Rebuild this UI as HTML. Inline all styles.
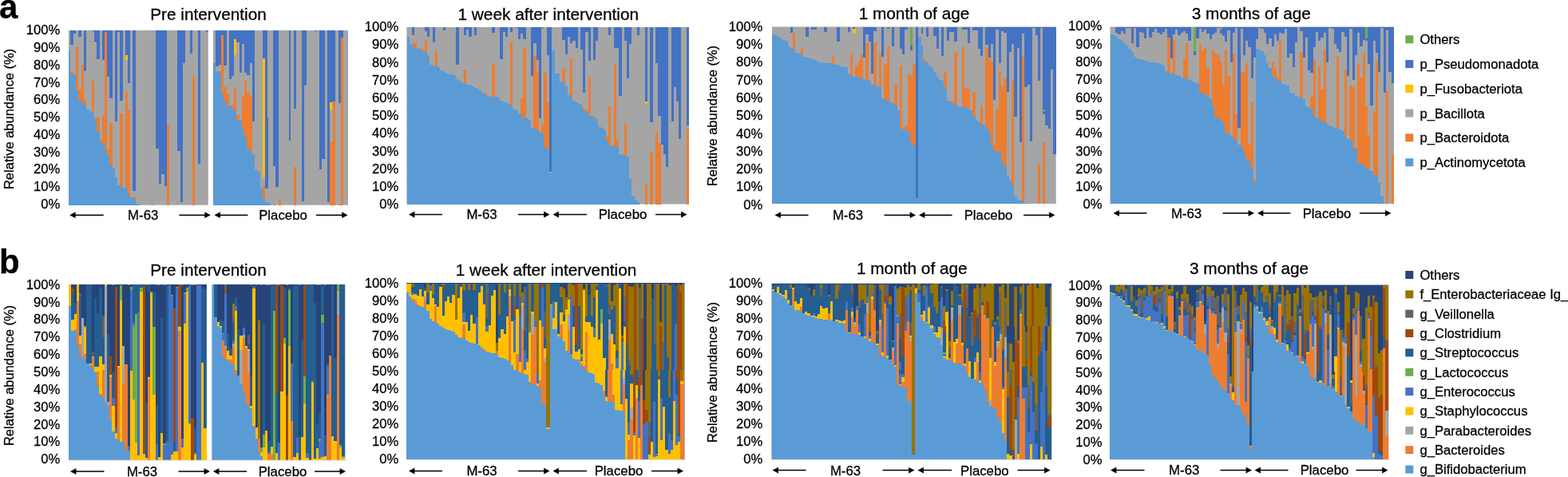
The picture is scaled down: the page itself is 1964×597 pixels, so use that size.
<!DOCTYPE html>
<html lang="en"><head><meta charset="utf-8"><title>Relative abundance</title>
<style>
html,body{margin:0;padding:0;background:#fff}
svg{display:block}
text{font-family:"Liberation Sans",Arial,Helvetica,sans-serif;fill:#000;stroke:#000;stroke-width:.28px}
</style></head><body>
<svg width="1964" height="597" viewBox="0 0 1964 597">
<rect width="1964" height="597" fill="#fff"/>
<rect x="86" y="38" width="350" height="218.7" fill="#A5A5A5"/>
<rect x="509.4" y="34" width="353.6" height="221.5" fill="#A5A5A5"/>
<rect x="967" y="33.5" width="355.7" height="221.5" fill="#A5A5A5"/>
<rect x="1390.4" y="33.5" width="355.6" height="221.5" fill="#A5A5A5"/>
<rect x="86" y="356.3" width="346.2" height="219.3" fill="#264478"/>
<rect x="509.2" y="354" width="348.2" height="221" fill="#264478"/>
<rect x="966.6" y="354.8" width="350.6" height="220.2" fill="#264478"/>
<rect x="1390.1" y="356.6" width="349.1" height="218.4" fill="#264478"/>
<!-- a1_t.txt -->
<g shape-rendering="crispEdges"><path fill="#5B9BD5" d="M86 63.3H88.1V147H86ZM88.1 90.4H91.9V147H88.1ZM91.9 93.2H95.1V147H91.9ZM95.1 112.5H98.4V147H95.1ZM98.4 125.4H101.5V147H98.4ZM101.5 129.1H104.8V147H101.5ZM104.8 131H108.1V147H104.8ZM108.1 137.4H111.5V147H108.1ZM111.5 139.3H114.6V147H111.5ZM114.6 140.2H117.9V147H114.6Z"/>
<path fill="#ED7D31" d="M88.1 90.1H91.9V92.3H88.1ZM95.1 58.7H98.4V112.5H95.1ZM98.4 111.6H101.5V125.4H98.4ZM101.5 81.2H104.8V129.1H101.5ZM104.8 125.1H108.1V131H104.8ZM114.6 101.1H117.9V139.3H114.6ZM127.9 143.5H131V147H127.9ZM131 39.8H134.1V147H131ZM150.3 141.7H153.7V147H150.3ZM157 114.4H160.1V147H157ZM160.1 138H163.2V147H160.1ZM241 94.5H244.3V147H241Z"/>
<path fill="#4472C4" d="M88.1 38H91.9V56.3H88.1ZM91.9 38H95.1V41.6H91.9ZM98.4 38H101.5V46.2H98.4ZM104.8 38H108.1V89H104.8ZM114.6 38H117.9V38.8H114.6ZM117.9 38H121.2V53.2H117.9ZM121.2 38H124.5V73.5H121.2ZM127.9 38H131V75.3H127.9ZM131 38H134.1V39.8H131ZM134.1 38H137.4V96H134.1ZM137.4 38H140.6V122.7H137.4ZM143.9 38H147V147H143.9ZM147 38H150.3V39.8H147ZM150.3 38H153.7V125.8H150.3ZM157 38H160.1V69.2H157ZM160.1 38H163.2V104.3H160.1ZM166.4 38H169.7V147H166.4ZM195.1 38H208.7V147H195.1ZM221.8 38H228.6V147H221.8ZM228.6 38H232V78.5H228.6ZM238 38H241V66.5H238ZM247.6 38H250.9V147H247.6ZM257.6 38H260.9V39.8H257.6Z"/>
<path fill="#FFC000" d="M117.9 53.2H120.9V54.3H117.9ZM157 69.2H159.7V74.8H157Z"/>
<path fill="#5B9BD5" d="M267 77.9H270.1V147H267ZM270.1 89H273.8V147H270.1ZM273.8 90.4H276.9V147H273.8ZM276.9 117.2H280.2V147H276.9ZM280.2 127.3H283.6V147H280.2ZM283.6 131.9H286.7V147H283.6ZM286.7 132.4H290V147H286.7ZM290 136.5H293.1V147H290ZM293.1 138H296.3V147H293.1Z"/>
<path fill="#ED7D31" d="M273.8 89.1H276.9V91H273.8ZM276.9 44H280.2V117.2H276.9ZM280.2 109.2H283.6V127.3H280.2ZM283.6 117.2H286.7V131.9H283.6ZM290 131.3H293.1V136.5H290ZM293.1 111.3H296.3V138H293.1ZM296.3 144.4H299.6V147H296.3ZM302.9 119.6H306V147H302.9ZM306 100.9H309.2V147H306ZM309.2 114.8H312.5V147H309.2ZM312.5 120.8H315.8V147H312.5ZM416.6 127.3H419.7V147H416.6ZM426.7 47.1H430V147H426.7Z"/>
<path fill="#4472C4" d="M270.1 38H273.8V82.7H270.1ZM273.8 38H276.9V81.2H273.8ZM276.9 38H280.2V44H276.9ZM280.2 38H283.6V82.1H280.2ZM286.7 38H290V98.7H286.7ZM290 38H293.1V95H290ZM293.1 38H296.3V49H293.1ZM296.3 38H299.6V52.7H296.3ZM299.6 38H302.9V90.8H299.6ZM302.9 38H306V55.4H302.9ZM306 38H309.2V91.4H306ZM309.2 38H312.5V94.1H309.2ZM312.5 38H315.8V79H312.5ZM315.8 38H318.9V147H315.8Z"/>
<path fill="#FFC000" d="M293.1 49H296.3V68.7H293.1Z"/>
<path fill="#4472C4" d="M329.1 38H332.2V72.9H329.1ZM332.2 38H335.2V147H332.2Z"/>
<path fill="#FFC000" d="M329.1 72.9H332.2V147H329.1Z"/>
<path fill="#4472C4" d="M342 38H348.8V147H342ZM361.7 38H364.4V147H361.7ZM367.8 38H370.9V135.9H367.8ZM377.9 38H381V147H377.9ZM381 38H384V107H381ZM393.6 38H396.7V38.8H393.6ZM400 38H406.5V147H400ZM410.1 38H413.3V147H410.1ZM413.3 38H416.6V128.2H413.3ZM416.6 38H419.7V127.3H416.6Z"/>
<path fill="#FFC000" d="M413.3 128.2H416.2V138H413.3Z"/>
<path fill="#4472C4" d="M424 38H426.7V129.1H424ZM426.7 38H430V47.1H426.7Z"/></g>
<!-- a1_u.txt -->
<g shape-rendering="crispEdges"><path fill="#5B9BD5" d="M86 147H117.9V256.7H86ZM117.9 147.9H121.2V256.7H117.9ZM121.2 165.4H124.5V256.7H121.2ZM124.5 178H127.9V256.7H124.5ZM127.9 180.2H131V256.7H127.9ZM131 186.6H134.1V256.7H131ZM134.1 194H137.4V256.7H134.1ZM137.4 205.6H140.6V256.7H137.4ZM140.6 210.6H143.9V256.7H140.6ZM143.9 222.2H147V256.7H143.9ZM147 231.8H150.3V256.7H147ZM150.3 232.7H153.7V256.7H150.3ZM153.7 234.5H157V256.7H153.7ZM157 235.8H160.1V256.7H157ZM160.1 245H163.2V256.7H160.1ZM163.2 246.5H166.4V256.7H163.2ZM166.4 248H169.7V256.7H166.4ZM169.7 254.8H172.8V256.7H169.7ZM172.8 255.7H176.1V256.7H172.8Z"/>
<path fill="#ED7D31" d="M117.9 147.9H121.2V150.1H117.9ZM121.2 147H124.5V165.4H121.2ZM124.5 175H127.9V178H124.5ZM127.9 147H131V180.2H127.9ZM131 147H134.1V186.6H131ZM134.1 186.6H137.4V194H134.1ZM137.4 154H140.6V205.6H137.4ZM150.3 147H153.7V232.7H150.3ZM157 147H160.1V235.8H157ZM160.1 147H163.2V245H160.1ZM166.4 245.9H169.7V248H166.4ZM189 255.7H192.3V256.7H189ZM208.7 155.8H212.1V256.7H208.7ZM241 147H244.3V256.7H241Z"/>
<path fill="#4472C4" d="M143.9 147H147V152H143.9ZM166.4 147H169.7V238.6H166.4ZM195.1 147H199.2V185.7H195.1ZM199.2 147H202.3V229.9H199.2ZM202.3 147H205.6V217.9H202.3ZM205.6 147H208.7V232.7H205.6ZM221.8 147H225.5V188.5H221.8ZM225.5 147H228.6V253H225.5ZM247.6 147H250.9V205.4H247.6Z"/>
<path fill="#5B9BD5" d="M267 147H296.3V256.7H267ZM296.3 150.7H299.6V256.7H296.3ZM299.6 151.1H302.9V256.7H299.6ZM302.9 161.7H306V256.7H302.9ZM306 171.9H309.2V256.7H306ZM309.2 184.8H312.5V256.7H309.2ZM312.5 190.9H315.8V256.7H312.5ZM315.8 193.1H318.9V256.7H315.8ZM318.9 211.9H322.1V256.7H318.9ZM322.1 216.1H325.8V256.7H322.1ZM325.8 235.8H329.1V256.7H325.8ZM329.1 248.7H332.2V256.7H329.1ZM332.2 253H335.5V256.7H332.2ZM335.5 254.2H338.8V256.7H335.5Z"/>
<path fill="#ED7D31" d="M296.3 147H299.6V150.7H296.3ZM302.9 147H306V161.7H302.9ZM306 147H309.2V171.9H306ZM309.2 147H312.5V184.8H309.2ZM312.5 147H315.8V190.9H312.5ZM322.1 213.9H325.8V216.1H322.1ZM329.1 232.3H332.2V248.7H329.1ZM342 255.7H345.1V256.7H342ZM348.8 249.8H351.7V256.7H348.8ZM367.8 208.7H370.9V256.7H367.8ZM413.3 177.4H416.6V256.7H413.3ZM416.6 147H419.7V256.7H416.6ZM426.7 147H430V256.7H426.7ZM423.6 255.7H426.7V256.7H423.6Z"/>
<path fill="#FFC000" d="M329.1 147H332.2V222H329.1Z"/>
<path fill="#4472C4" d="M315.8 147H318.9V151.6H315.8ZM332.2 147H335.5V235.8H332.2ZM342 147H345.1V207.8H342ZM345.1 147H348.8V233.6H345.1ZM361.7 147H364.4V175.9H361.7ZM377.9 147H381V252.4H377.9ZM400 147H403.3V211.9H400ZM403.3 147H406.5V198.6H403.3ZM410.1 147H413.3V253H410.1Z"/></g>
<!-- a2_t.txt -->
<g shape-rendering="crispEdges"><path fill="#5B9BD5" d="M509.5 45.5H512.6V143H509.5ZM512.6 55.5H515.9V143H512.6ZM515.9 57H519.1V143H515.9ZM519.1 60.3H522.4V143H519.1ZM522.4 61H525.5V143H522.4ZM525.5 62.5H528.8V143H525.5ZM528.8 63.4H532V143H528.8ZM532 66.2H535.3V143H532ZM535.3 68.9H538.4V143H535.3ZM538.4 81.3H541.7V143H538.4ZM541.7 82.8H544.9V143H541.7ZM544.9 83.1H548.2V143H544.9ZM548.2 84.2H551.3V143H548.2ZM551.3 88.3H554.6V143H551.3ZM554.6 89.8H557.8V143H554.6ZM557.8 92H561.1V143H557.8ZM561.1 92.9H564.2V143H561.1ZM564.2 93.4H567.5V143H564.2ZM567.5 94.4H571.2V143H567.5ZM571.2 99H574.3V143H571.2ZM574.3 101.2H577.7V143H574.3ZM577.7 103.9H580.8V143H577.7ZM580.8 104.3H584.1V143H580.8ZM584.1 105.8H587.2V143H584.1ZM587.2 106.3H590.6V143H587.2ZM590.6 108.2H593.7V143H590.6ZM593.7 109.5H597V143H593.7ZM597 110.8H600.1V143H597ZM600.1 112.6H603.4V143H600.1ZM603.4 115.6H606.6V143H603.4ZM606.6 119.2H609.9V143H606.6ZM609.9 119.6H613V143H609.9ZM613 120.5H616.3V143H613ZM616.3 121.1H619.5V143H616.3ZM619.5 121.4H622.8V143H619.5ZM622.8 121.8H625.9V143H622.8ZM625.9 126.1H629.2V143H625.9ZM629.2 127H632.4V143H629.2ZM632.4 127.9H635.7V143H632.4ZM635.7 130.3H638.8V143H635.7ZM638.8 132.1H642.1V143H638.8ZM642.1 136.2H645.3V143H642.1ZM645.3 138H648.6V143H645.3ZM648.6 141.7H651.7V143H648.6Z"/>
<path fill="#ED7D31" d="M515.9 53.6H519.1V57H515.9ZM519.1 53.6H522.4V60.3H519.1ZM525.5 60.1H528.8V62.5H525.5ZM532 50.9H535.3V66.2H532ZM544.9 64.3H548.2V83.1H544.9ZM580.8 87H584.1V104.3H580.8ZM606.6 116.8H609.9V119.2H606.6ZM616.3 80.9H619.5V121.1H616.3ZM638.8 52H642.1V132.1H638.8ZM651.7 122.9H655V143H651.7ZM655 60.6H658.7V143H655ZM667.9 69.9H671.6V143H667.9ZM671.6 89.2H674.9V143H671.6ZM681.2 91H684.5V143H681.2ZM684.5 127.9H687.7V143H684.5Z"/>
<path fill="#4472C4" d="M515.9 34H519.1V43.7H515.9ZM532 34H535.3V38.5H532ZM535.3 34H537.9V45.9H535.3ZM541.7 34H544.9V53.3H541.7ZM554.6 34H557.8V38.2H554.6ZM571.2 34H574.7V80.5H571.2ZM580.8 34H584.1V43.7H580.8ZM584.1 34H587.2V36.7H584.1ZM587.2 34H590.6V45.5H587.2ZM593.7 34H597V43.7H593.7ZM616.3 34H619.5V41.3H616.3ZM625.9 34H629.6V73.9H625.9ZM629.6 34H632.7V40H629.6ZM632.7 34H635.7V45.9H632.7ZM638.8 34H642.1V40H638.8ZM645.3 34H648.6V35.2H645.3ZM648.6 34H651.7V48.7H648.6ZM651.7 34H655V42.2H651.7ZM655 34H658.7V48.7H655ZM664.6 34H667.9V94.7H664.6ZM667.9 34H671.6V53.6H667.9ZM671.6 34H674.9V75H671.6ZM674.9 34H678.1V143H674.9ZM678.1 34H681.2V35.2H678.1ZM684.5 34H687.7V68.9H684.5ZM687.7 34H691V143H687.7Z"/>
<path fill="#5B9BD5" d="M691 62.5H694.7V143H691ZM694.7 92H697.8V143H694.7ZM697.8 92.3H701.1V143H697.8ZM701.1 102.1H704.2V143H701.1ZM704.2 103H707.6V143H704.2ZM707.6 107.6H710.7V143H707.6ZM710.7 119.2H714V143H710.7ZM714 121.1H717.1V143H714ZM717.1 126.1H720.5V143H717.1ZM720.5 127.9H723.6V143H720.5ZM723.6 129.7H726.9V143H723.6ZM726.9 133.4H730V143H726.9ZM730 137.7H733.4V143H730ZM733.4 140.2H736.5V143H733.4Z"/>
<path fill="#ED7D31" d="M704.2 86.1H707.6V103H704.2ZM714 73.2H717.1V121.1H714ZM726.9 131H730V133.4H726.9ZM730 135.3H733.4V137.7H730ZM733.4 138H736.5V140.2H733.4ZM736.5 95.6H739.8V143H736.5ZM762.3 133.1H765.4V143H762.3ZM768.7 81.3H771.9V143H768.7Z"/>
<path fill="#4472C4" d="M704.2 34H707.6V50H704.2ZM707.6 34H710.7V68.4H707.6ZM710.7 34H714V45.9H710.7ZM714 34H717.1V53.6H714ZM717.1 34H720.5V51.1H717.1ZM720.5 34H723.6V60.3H720.5ZM726.9 34H730V61.6H726.9ZM730 34H733.4V115.9H730ZM733.4 34H736.5V40.4H733.4ZM736.5 34H739.8V75.7H736.5ZM742.9 34H746.1V75H742.9ZM746.1 34H749.4V51.4H746.1ZM762.3 34H765.4V43.7H762.3ZM768.7 34H775.2V60.3H768.7ZM775.2 34H778.5V119.6H775.2ZM781.6 34H784.9V50.5H781.6ZM784.9 34H788.1V97.9H784.9ZM788.1 34H791.2V55.1H788.1ZM798.2 34H801V43.7H798.2ZM808 34H811.1V126.6H808Z"/>
<path fill="#FFC000" d="M807.6 126.6H811.1V130.3H807.6Z"/>
<path fill="#4472C4" d="M814.2 34H817.9V143H814.2ZM821.2 34H824.4V79.1H821.2ZM824.4 34H836.9V143H824.4ZM840.6 34H843.7V143H840.6ZM843.7 34H847V108.9H843.7ZM847 34H850.2V126.6H847ZM850.2 34H853.1V143H850.2ZM859.9 34H863V143H859.9Z"/></g>
<!-- a2_u.txt -->
<g shape-rendering="crispEdges"><path fill="#5B9BD5" d="M509.5 143H651.7V255.5H509.5ZM651.7 143.4H655V255.5H651.7ZM655 147.6H658.7V255.5H655ZM658.7 148.2H661.9V255.5H658.7ZM661.9 150H664.6V255.5H661.9ZM664.6 159.6H667.9V255.5H664.6ZM667.9 160.5H671.6V255.5H667.9ZM671.6 162.9H674.9V255.5H671.6ZM674.9 164.7H678.1V255.5H674.9ZM678.1 167H681.2V255.5H678.1ZM681.2 183.9H684.5V255.5H681.2ZM684.5 187.8H687.7V255.5H684.5ZM687.7 217.3H691V255.5H687.7Z"/>
<path fill="#ED7D31" d="M655 143H658.7V147.6H655ZM667.9 143H671.6V160.5H667.9ZM671.6 143H674.9V162.9H671.6ZM678.1 156.3H681.2V167H678.1ZM681.2 143H684.5V183.9H681.2ZM684.5 143H687.7V187.8H684.5Z"/>
<path fill="#4472C4" d="M674.9 143H678.1V147.6H674.9ZM687.7 143H691V214.5H687.7Z"/>
<path fill="#5B9BD5" d="M691 143H736.5V255.5H691ZM736.5 143.9H739.8V255.5H736.5ZM739.8 145.2H742.9V255.5H739.8ZM742.9 147.6H746.1V255.5H742.9ZM746.1 148.5H749.4V255.5H746.1ZM749.4 158.7H752.7V255.5H749.4ZM752.7 160H755.8V255.5H752.7ZM755.8 163.6H759V255.5H755.8ZM759 176.2H762.3V255.5H759ZM762.3 181.7H765.4V255.5H762.3ZM765.4 182.1H768.7V255.5H765.4ZM768.7 182.6H771.9V255.5H768.7ZM771.9 183.9H775.2V255.5H771.9ZM775.2 192.8H778.5V255.5H775.2ZM778.5 193.7H781.6V255.5H778.5ZM781.6 195H784.9V255.5H781.6ZM784.9 195.5H788.1V255.5H784.9ZM788.1 224.1H791.2V255.5H788.1ZM791.2 245.3H794.5V255.5H791.2ZM794.5 249.9H797.8V255.5H794.5ZM797.8 253H801V255.5H797.8Z"/>
<path fill="#ED7D31" d="M742.9 146.3H746.1V147.6H742.9ZM755.8 162.3H759V163.6H755.8ZM759 170.3H762.3V176.2H759ZM762.3 143H765.4V181.7H762.3ZM768.7 143H771.9V182.6H768.7ZM771.9 175.2H775.2V183.9H771.9ZM781.6 154.1H784.9V195H781.6ZM807.6 231.1H811.1V255.5H807.6ZM814.2 191.3H817.9V255.5H814.2ZM821.2 164.7H824.4V255.5H821.2ZM824.4 178.9H827.7V255.5H824.4ZM859.9 161.4H863V255.5H859.9Z"/>
<path fill="#4472C4" d="M814.2 143H817.9V153.1H814.2ZM824.4 143H827.7V145.2H824.4ZM827.7 143H830.8V181.3H827.7ZM830.8 143H834.1V192.8H830.8ZM834.1 143H836.9V208.8H834.1ZM840.6 143H843.7V151.8H840.6ZM850.2 143H853.1V174H850.2ZM859.9 143H863V156.8H859.9Z"/></g>
<!-- a3_t.txt -->
<g shape-rendering="crispEdges"><path fill="#5B9BD5" d="M967 42.6H970.3V143H967ZM970.3 44.1H973.4V143H970.3ZM973.4 45.5H976.8V143H973.4ZM976.8 47.7H980.1V143H976.8ZM980.1 49.6H983.2V143H980.1ZM983.2 51.4H986.5V143H983.2ZM986.5 57.9H989.8V143H986.5ZM989.8 59.7H993.2V143H989.8ZM993.2 61.6H996.3V143H993.2ZM996.3 66.2H999.6V143H996.3ZM999.6 67.1H1002.9V143H999.6ZM1002.9 68H1006.1V143H1002.9ZM1006.1 70.8H1009.4V143H1006.1ZM1009.4 71.7H1012.7V143H1009.4ZM1012.7 72.6H1015.8V143H1012.7ZM1015.8 73.5H1019.1V143H1015.8ZM1019.1 75.4H1022.5V143H1019.1ZM1022.5 76.9H1025.8V143H1022.5ZM1025.8 77.8H1028.9V143H1025.8ZM1028.9 78.1H1032.2V143H1028.9ZM1032.2 78.7H1035.5V143H1032.2ZM1035.5 79.1H1038.7V143H1035.5ZM1038.7 79.4H1042V143H1038.7ZM1042 79.6H1045.3V143H1042ZM1045.3 80.5H1048.4V143H1045.3ZM1048.4 81.3H1051.8V143H1048.4ZM1051.8 82.8H1055.1V143H1051.8ZM1055.1 83.7H1058.4V143H1055.1ZM1058.4 84.2H1061.5V143H1058.4ZM1061.5 92.9H1064.8V143H1061.5ZM1064.8 94.2H1068.2V143H1064.8ZM1068.2 95.6H1071.3V143H1068.2ZM1071.3 96H1074.6V143H1071.3ZM1074.6 96.6H1077.9V143H1074.6ZM1077.9 97.5H1081.2V143H1077.9ZM1081.2 99.3H1084.4V143H1081.2ZM1084.4 100.3H1087.7V143H1084.4ZM1087.7 100.8H1091V143H1087.7ZM1091 105.8H1094.1V143H1091ZM1094.1 106.7H1097.5V143H1094.1ZM1097.5 107.6H1100.8V143H1097.5ZM1100.8 110H1103.9V143H1100.8ZM1103.9 123.3H1107.2V143H1103.9ZM1107.2 124.2H1110.5V143H1107.2ZM1110.5 126.6H1113.9V143H1110.5ZM1113.9 127H1117V143H1113.9ZM1117 128.8H1120.3V143H1117ZM1120.3 131.6H1123.6V143H1120.3ZM1123.6 138H1126.8V143H1123.6Z"/>
<path fill="#ED7D31" d="M993.2 40.7H996.3V61.6H993.2ZM1002.9 60.6H1006.1V68H1002.9ZM1042 71.1H1045.3V79.6H1042ZM1064.8 67.1H1068.2V94.2H1064.8ZM1071.3 81.8H1074.6V96H1071.3ZM1074.6 76.3H1077.9V96.6H1074.6ZM1077.9 68H1081.2V97.5H1077.9ZM1084.4 54.2H1087.7V100.3H1084.4ZM1094.1 52.9H1097.5V106.7H1094.1ZM1100.8 67.1H1103.9V110H1100.8ZM1107.2 80.9H1110.5V124.2H1107.2ZM1110.5 57.9H1113.9V126.6H1110.5ZM1120.3 105.8H1123.6V131.6H1120.3ZM1126.8 81.8H1130.1V143H1126.8ZM1136.5 92.9H1139.8V143H1136.5ZM1139.8 94.7H1143.2V143H1139.8ZM1143.2 80.5H1147V143H1143.2Z"/>
<path fill="#4472C4" d="M989.8 33.5H993.2V40.7H989.8ZM1009.4 33.5H1012.7V45.5H1009.4ZM1015.8 33.5H1022.5V36.7H1015.8ZM1032.2 33.5H1035.5V40.4H1032.2ZM1048.4 33.5H1051.8V52.3H1048.4ZM1061.5 33.5H1064.8V40.4H1061.5ZM1068.2 33.5H1071.3V36.3H1068.2Z"/>
<path fill="#FFC000" d="M1068.2 36.3H1071.7V41.8H1068.2Z"/>
<path fill="#4472C4" d="M1081.2 33.5H1084.4V71.7H1081.2ZM1084.4 33.5H1087.7V43.1H1084.4ZM1087.7 33.5H1091V52.3H1087.7ZM1091 33.5H1094.1V92.3H1091ZM1094.1 33.5H1097.5V38.9H1094.1ZM1103.9 33.5H1107.2V70.8H1103.9ZM1110.5 33.5H1113.9V36.3H1110.5ZM1117 33.5H1120.3V58.4H1117ZM1126.8 33.5H1130.1V60.6H1126.8ZM1130.1 33.5H1133.4V68.4H1130.1ZM1133.4 33.5H1136.5V36.7H1133.4ZM1139.8 33.5H1143.2V63.4H1139.8Z"/>
<path fill="#70AD47" d="M1139.8 33.6H1143.2V56.6H1139.8Z"/>
<path fill="#4472C4" d="M1147 33.5H1150.3V143H1147Z"/>
<path fill="#5B9BD5" d="M1150.3 45.5H1153.5V143H1150.3ZM1153.5 56.6H1156.4V143H1153.5ZM1156.4 77.2H1159.6V143H1156.4ZM1159.6 78.1H1162.7V143H1159.6ZM1162.7 81.8H1166V143H1162.7ZM1166 83.7H1169.3V143H1166ZM1169.3 90.1H1172.5V143H1169.3ZM1172.5 95.6H1175.8V143H1172.5ZM1175.8 100.3H1178.9V143H1175.8ZM1178.9 100.8H1182.2V143H1178.9ZM1182.2 110.4H1185.5V143H1182.2ZM1185.5 126.1H1188.9V143H1185.5ZM1188.9 127.3H1192V143H1188.9ZM1192 129.7H1195.3V143H1192ZM1195.3 130.7H1198.6V143H1195.3ZM1198.6 132.5H1201.8V143H1198.6ZM1201.8 133.4H1205.1V143H1201.8ZM1205.1 133.8H1208.4V143H1205.1ZM1208.4 134H1211.5V143H1208.4ZM1211.5 136.6H1214.8V143H1211.5ZM1214.8 137.7H1218.2V143H1214.8Z"/>
<path fill="#ED7D31" d="M1156.4 73.5H1159.6V77.2H1156.4ZM1169.3 89.8H1172.5V90.7H1169.3ZM1182.2 90.5H1185.5V110.4H1182.2ZM1192 127H1195.3V129.7H1192ZM1195.3 64.7H1198.6V130.7H1195.3ZM1205.1 59.3H1208.4V133.8H1205.1ZM1208.4 110H1211.5V134H1208.4ZM1211.5 111.3H1214.8V136.6H1211.5ZM1218.2 115H1221.5V143H1218.2ZM1227.9 131.6H1231.2V143H1227.9ZM1234.4 60.3H1237.7V143H1234.4ZM1237.7 72.6H1241V143H1237.7ZM1241 77.2H1244.3V143H1241ZM1247.4 137.1H1250.8V143H1247.4ZM1250.8 89.2H1254.1V143H1250.8ZM1254.1 107.6H1257.2V143H1254.1ZM1257.2 97.5H1260.5V143H1257.2ZM1267 101.2H1270.3V143H1267ZM1280.1 70.8H1283.4V143H1280.1Z"/>
<path fill="#4472C4" d="M1153.5 33.5H1156.4V41.8H1153.5ZM1159.6 33.5H1162.7V45.5H1159.6ZM1169.3 33.5H1172.5V45H1169.3ZM1172.5 33.5H1175.8V60.6H1172.5ZM1178.9 33.5H1182.2V70.4H1178.9ZM1185.5 33.5H1188.9V51.4H1185.5ZM1188.9 33.5H1195.3V40.4H1188.9ZM1195.3 33.5H1198.6V52.3H1195.3ZM1205.1 33.5H1211.5V37.1H1205.1ZM1211.5 33.5H1214.8V53.6H1211.5ZM1218.2 33.5H1224.6V37.6H1218.2ZM1224.6 33.5H1227.9V61H1224.6ZM1227.9 33.5H1231.2V70.2H1227.9ZM1234.4 33.5H1237.7V56H1234.4ZM1237.7 33.5H1241V72.1H1237.7ZM1241 33.5H1244.3V55.1H1241ZM1244.3 33.5H1247.4V124.8H1244.3ZM1247.4 33.5H1250.8V36.7H1247.4ZM1250.8 33.5H1254.1V79.1H1250.8ZM1254.1 33.5H1257.2V39.4H1254.1ZM1257.2 33.5H1260.5V40.7H1257.2ZM1260.5 33.5H1263.7V115H1260.5ZM1263.7 33.5H1267V64.7H1263.7ZM1267 33.5H1270.3V55.1H1267ZM1270.3 33.5H1273.6V143H1270.3ZM1273.6 33.5H1276.9V60.3H1273.6ZM1276.9 33.5H1280.1V143H1276.9ZM1280.1 33.5H1283.4V42.2H1280.1ZM1283.4 33.5H1286.7V108.5H1283.4ZM1286.7 33.5H1289.8V106.3H1286.7ZM1289.8 33.5H1293.1V143H1289.8ZM1293.1 33.5H1296.5V34.8H1293.1ZM1296.5 33.5H1299.6V44.1H1296.5ZM1299.6 33.5H1302.9V100.8H1299.6ZM1302.9 33.5H1306.2V34.8H1302.9ZM1306.2 33.5H1316.2V143H1306.2ZM1316.2 33.5H1319.3V87.4H1316.2ZM1319.3 33.5H1322.7V143H1319.3Z"/>
<path fill="#FFC000" d="M1306.2 138H1309.4V139H1306.2Z"/>
<path fill="#4472C4" d="M967 33.5H1322.7V34.3H967Z"/></g>
<!-- a3_u.txt -->
<g shape-rendering="crispEdges"><path fill="#5B9BD5" d="M967 143H1126.8V255H967ZM1126.8 161.1H1130.1V255H1126.8ZM1130.1 161.4H1133.4V255H1130.1ZM1133.4 162.9H1136.5V255H1133.4ZM1136.5 166H1139.8V255H1136.5ZM1139.8 178H1143.2V255H1139.8ZM1143.2 181.7H1147V255H1143.2ZM1147 249H1150.3V255H1147Z"/>
<path fill="#ED7D31" d="M1126.8 143H1130.1V161.1H1126.8ZM1133.4 156.8H1136.5V162.9H1133.4ZM1136.5 143H1139.8V166H1136.5ZM1139.8 143H1143.2V178H1139.8ZM1143.2 143H1147V181.7H1143.2Z"/>
<path fill="#4472C4" d="M1147 143H1150.3V248H1147Z"/>
<path fill="#5B9BD5" d="M1150.3 143H1218.2V255H1150.3ZM1218.2 145.8H1221.5V255H1218.2ZM1221.5 151.3H1224.6V255H1221.5ZM1224.6 152.6H1227.9V255H1224.6ZM1227.9 155.5H1231.2V255H1227.9ZM1231.2 156.3H1234.4V255H1231.2ZM1234.4 158.7H1237.7V255H1234.4ZM1237.7 166H1241V255H1237.7ZM1241 182.1H1244.3V255H1241ZM1244.3 188.1H1247.4V255H1244.3ZM1247.4 188.7H1250.8V255H1247.4ZM1250.8 190H1254.1V255H1250.8ZM1254.1 202.3H1257.2V255H1254.1ZM1257.2 208.8H1260.5V255H1257.2ZM1260.5 220.4H1263.7V255H1260.5ZM1263.7 225.6H1267V255H1263.7ZM1267 231.8H1270.3V255H1267ZM1270.3 245.8H1273.6V255H1270.3ZM1273.6 249.5H1276.9V255H1273.6ZM1276.9 250.8H1280.1V255H1276.9ZM1280.1 252.1H1283.4V255H1280.1ZM1283.4 253.6H1286.7V255H1283.4ZM1286.7 254.5H1291.3V255H1286.7Z"/>
<path fill="#ED7D31" d="M1218.2 143H1221.5V145.8H1218.2ZM1227.9 143H1231.2V155.5H1227.9ZM1234.4 143H1237.7V158.7H1234.4ZM1237.7 143H1241V166H1237.7ZM1241 143H1244.3V182.1H1241ZM1244.3 180.8H1247.4V188.1H1244.3ZM1247.4 143H1250.8V188.7H1247.4ZM1250.8 143H1254.1V190H1250.8ZM1254.1 143H1257.2V202.3H1254.1ZM1257.2 143H1260.5V208.8H1257.2ZM1267 143H1270.3V231.8H1267ZM1280.1 143H1283.4V252.1H1280.1ZM1299.6 205.1H1302.9V255H1299.6ZM1306.2 178.4H1309.4V255H1306.2Z"/>
<path fill="#4472C4" d="M1270.3 143H1273.6V145.8H1270.3ZM1276.9 143H1280.1V178.4H1276.9ZM1289.8 143H1293.1V176.7H1289.8ZM1309.4 143H1312.7V156.8H1309.4ZM1312.7 143H1316.2V160.9H1312.7ZM1319.3 143H1322.7V192.8H1319.3Z"/></g>
<!-- a4_t.txt -->
<g shape-rendering="crispEdges"><path fill="#5B9BD5" d="M1390.6 43.1H1393.9V143H1390.6ZM1393.9 44.4H1397V143H1393.9ZM1397 45.9H1400.3V143H1397ZM1400.3 48.7H1403.6V143H1400.3ZM1403.6 51.4H1407V143H1403.6ZM1407 53.6H1410.1V143H1407ZM1410.1 56.6H1413.4V143H1410.1ZM1413.4 60.6H1416.7V143H1413.4ZM1416.7 65.2H1419.9V143H1416.7ZM1419.9 70.8H1423.2V143H1419.9ZM1423.2 72.6H1426.5V143H1423.2ZM1426.5 73.5H1429.6V143H1426.5ZM1429.6 74.5H1432.9V143H1429.6ZM1432.9 75.7H1436.3V143H1432.9ZM1436.3 77.2H1439.4V143H1436.3ZM1439.4 77.8H1442.7V143H1439.4ZM1442.7 78.1H1446V143H1442.7ZM1446 78.7H1449.3V143H1446ZM1449.3 79.1H1452.5V143H1449.3ZM1452.5 80H1455.8V143H1452.5ZM1455.8 81.8H1459.1V143H1455.8ZM1459.1 89.2H1462.2V143H1459.1ZM1462.2 91H1465.5V143H1462.2ZM1465.5 92H1468.9V143H1465.5ZM1468.9 93.4H1472V143H1468.9ZM1472 94.2H1475.3V143H1472ZM1475.3 94.7H1478.6V143H1475.3ZM1478.6 96.6H1481.9V143H1478.6ZM1481.9 97.5H1485.1V143H1481.9ZM1485.1 98.4H1488.4V143H1485.1ZM1488.4 100.3H1491.7V143H1488.4ZM1491.7 102.1H1494.8V143H1491.7ZM1494.8 103H1498.2V143H1494.8ZM1498.2 103.9H1501.5V143H1498.2ZM1501.5 115.9H1504.6V143H1501.5ZM1504.6 116.3H1507.9V143H1504.6ZM1507.9 117.8H1511.2V143H1507.9ZM1511.2 120.5H1514.6V143H1511.2ZM1514.6 122.9H1517.7V143H1514.6ZM1517.7 132.5H1521V143H1517.7Z"/>
<path fill="#ED7D31" d="M1462.2 46.8H1465.5V91H1462.2ZM1468.9 50H1472V93.4H1468.9ZM1481.9 73.5H1485.1V97.5H1481.9ZM1485.1 54.2H1488.4V98.4H1485.1ZM1501.5 55.1H1504.6V115.9H1501.5ZM1504.6 63.4H1507.9V116.3H1504.6ZM1507.9 60.3H1511.2V117.8H1507.9ZM1511.2 84.6H1514.6V120.5H1511.2ZM1517.7 63.4H1521V132.5H1517.7ZM1521 67.1H1524.3V143H1521ZM1524.3 68.9H1527.5V143H1524.3ZM1527.5 78.1H1530.8V143H1527.5ZM1530.8 105.8H1534.1V143H1530.8ZM1534.1 62.1H1537.2V143H1534.1ZM1537.2 95.3H1540.5V143H1537.2ZM1543.7 67.1H1547V143H1543.7ZM1553.6 91H1556.8V143H1553.6ZM1556.8 90.1H1560.1V143H1556.8ZM1560.1 78.7H1563.4V143H1560.1ZM1566.5 127.9H1569.8V143H1566.5Z"/>
<path fill="#4472C4" d="M1390.6 33.5H1397V33.9H1390.6ZM1397 33.5H1400.3V40.7H1397ZM1400.3 33.5H1403.6V42.6H1400.3ZM1403.6 33.5H1407V39.4H1403.6ZM1407 33.5H1410.1V41.8H1407ZM1410.1 33.5H1413.4V35.2H1410.1ZM1413.4 33.5H1416.7V34.8H1413.4ZM1416.7 33.5H1419.9V53.6H1416.7ZM1419.9 33.5H1423.2V34.8H1419.9ZM1423.2 33.5H1426.5V58.8H1423.2ZM1426.5 33.5H1429.6V40H1426.5ZM1429.6 33.5H1432.9V40.7H1429.6ZM1432.9 33.5H1436.3V47.7H1432.9ZM1436.3 33.5H1439.4V35.2H1436.3ZM1439.4 33.5H1442.7V46.8H1439.4ZM1442.7 33.5H1446V40.4H1442.7ZM1446 33.5H1449.3V36.3H1446ZM1449.3 33.5H1452.5V40.7H1449.3ZM1452.5 33.5H1455.8V42.6H1452.5ZM1455.8 33.5H1459.1V40H1455.8ZM1459.1 33.5H1462.2V35.8H1459.1ZM1462.2 33.5H1465.5V46.8H1462.2ZM1465.5 33.5H1468.9V72.6H1465.5ZM1468.9 33.5H1472V43.1H1468.9ZM1472 33.5H1475.3V36.7H1472ZM1475.3 33.5H1478.6V44.1H1475.3ZM1478.6 33.5H1481.9V41.3H1478.6ZM1481.9 33.5H1485.1V38.5H1481.9ZM1485.1 33.5H1488.4V41.8H1485.1ZM1488.4 33.5H1491.7V50.5H1488.4ZM1491.7 33.5H1494.8V33.9H1491.7ZM1494.8 33.5H1498.2V68.9H1494.8ZM1498.2 33.5H1501.5V47.7H1498.2ZM1501.5 33.5H1504.6V35.8H1501.5ZM1504.6 33.5H1507.9V40.4H1504.6ZM1507.9 33.5H1511.2V37.1H1507.9ZM1511.2 33.5H1514.6V41.8H1511.2ZM1514.6 33.5H1517.7V48.7H1514.6ZM1517.7 33.5H1521V43.1H1517.7ZM1521 33.5H1524.3V41.3H1521ZM1524.3 33.5H1527.5V34.8H1524.3ZM1527.5 33.5H1530.8V42.2H1527.5ZM1530.8 33.5H1534.1V45H1530.8ZM1534.1 33.5H1537.2V52.3H1534.1ZM1537.2 33.5H1540.5V38.2H1537.2ZM1540.5 33.5H1543.7V78.1H1540.5ZM1543.7 33.5H1547V41.3H1543.7ZM1547 33.5H1550.3V34.8H1547ZM1550.3 33.5H1553.6V143H1550.3ZM1553.6 33.5H1556.8V35.8H1553.6ZM1556.8 33.5H1560.1V68.9H1556.8ZM1560.1 33.5H1563.4V50.5H1560.1ZM1563.4 33.5H1566.5V58.8H1563.4ZM1566.5 33.5H1569.8V97.5H1566.5ZM1569.8 33.5H1573V71.7H1569.8Z"/>
<path fill="#70AD47" d="M1494.8 33.6H1498.2V64H1494.8ZM1527.5 33.6H1530.8V36.7H1527.5Z"/>
<path fill="#FFC000" d="M1530.8 45H1534.1V45.9H1530.8Z"/>
<path fill="#5B9BD5" d="M1573 60.6H1576.1V143H1573ZM1576.1 61.6H1579.4V143H1576.1ZM1579.4 64.3H1582.7V143H1579.4ZM1582.7 68.9H1585.9V143H1582.7ZM1585.9 79.1H1589.2V143H1585.9ZM1589.2 84.6H1592.5V143H1589.2ZM1592.5 96H1595.6V143H1592.5ZM1595.6 96.6H1599V143H1595.6ZM1599 100.8H1602.3V143H1599ZM1602.3 101.2H1605.4V143H1602.3ZM1605.4 104.9H1608.7V143H1605.4ZM1608.7 105.8H1612V143H1608.7ZM1612 106.7H1615.2V143H1612ZM1615.2 115.6H1618.5V143H1615.2ZM1618.5 116.8H1621.8V143H1618.5ZM1621.8 119.6H1624.9V143H1621.8ZM1624.9 120.5H1628.3V143H1624.9ZM1628.3 122.4H1631.6V143H1628.3ZM1631.6 123.7H1634.9V143H1631.6ZM1634.9 133.4H1638V143H1634.9ZM1638 134.3H1641.3V143H1638ZM1641.3 136.2H1644.7V143H1641.3Z"/>
<path fill="#ED7D31" d="M1592.5 77.2H1595.6V96H1592.5ZM1595.6 86.1H1599V96.6H1595.6ZM1599 95.6H1602.3V100.8H1599ZM1602.3 51.1H1605.4V101.2H1602.3ZM1628.3 64.7H1631.6V122.4H1628.3ZM1641.3 120.5H1644.7V136.2H1641.3ZM1644.7 75H1647.8V143H1644.7ZM1651.1 83.1H1654.4V143H1651.1ZM1654.4 112.2H1657.6V143H1654.4ZM1657.6 61.6H1660.9V143H1657.6ZM1674 69.5H1677.1V143H1674ZM1683.7 88.3H1687V143H1683.7ZM1690.2 106.7H1693.5V143H1690.2ZM1693.5 108.5H1696.8V143H1693.5ZM1699.9 78.7H1703.2V143H1699.9ZM1703.2 96.6H1706.6V143H1703.2ZM1706.6 66.2H1709.9V143H1706.6ZM1709.9 133.4H1713V143H1709.9ZM1719.6 139.9H1722.8V143H1719.6ZM1722.8 76.3H1726.1V143H1722.8ZM1735.9 114.1H1739.2V143H1735.9Z"/>
<path fill="#4472C4" d="M1573 33.5H1576.1V48.7H1573ZM1576.1 33.5H1579.4V34.8H1576.1ZM1579.4 33.5H1582.7V35.8H1579.4ZM1582.7 33.5H1585.9V41.3H1582.7ZM1585.9 33.5H1589.2V54.7H1585.9ZM1589.2 33.5H1592.5V47.7H1589.2ZM1592.5 33.5H1595.6V58.4H1592.5ZM1595.6 33.5H1599V43.1H1595.6ZM1599 33.5H1602.3V51.1H1599ZM1602.3 33.5H1605.4V41.3H1602.3ZM1605.4 33.5H1608.7V41.8H1605.4ZM1608.7 33.5H1612V35.8H1608.7ZM1612 33.5H1615.2V71.7H1612ZM1615.2 33.5H1618.5V67.1H1615.2ZM1618.5 33.5H1621.8V84.2H1618.5ZM1621.8 33.5H1624.9V53.3H1621.8ZM1624.9 33.5H1628.3V33.9H1624.9ZM1628.3 33.5H1631.6V38.5H1628.3ZM1631.6 33.5H1634.9V71.7H1631.6ZM1634.9 33.5H1638V46.8H1634.9ZM1638 33.5H1641.3V88.3H1638ZM1641.3 33.5H1644.7V91H1641.3ZM1644.7 33.5H1647.8V58.8H1644.7ZM1647.8 33.5H1651.1V40H1647.8ZM1651.1 33.5H1654.4V51.4H1651.1ZM1654.4 33.5H1657.6V46.8H1654.4ZM1657.6 33.5H1660.9V41.3H1657.6ZM1660.9 33.5H1664.2V78.1H1660.9ZM1664.2 33.5H1667.5V34.5H1664.2ZM1667.5 33.5H1670.6V36.3H1667.5ZM1670.6 33.5H1674V55.1H1670.6ZM1674 33.5H1677.1V60.6H1674ZM1677.1 33.5H1680.4V64.7H1677.1ZM1680.4 33.5H1683.7V40H1680.4ZM1683.7 33.5H1687V45.5H1683.7ZM1687 33.5H1690.2V94.7H1687ZM1690.2 33.5H1693.5V36.3H1690.2ZM1693.5 33.5H1696.8V100.3H1693.5ZM1696.8 33.5H1699.9V68.9H1696.8ZM1699.9 33.5H1703.2V41.3H1699.9ZM1703.2 33.5H1706.6V58.4H1703.2ZM1706.6 33.5H1709.9V50H1706.6ZM1709.9 33.5H1713V51.4H1709.9ZM1713 33.5H1716.3V80H1713ZM1716.3 33.5H1719.6V131.6H1716.3ZM1719.6 33.5H1722.8V50.5H1719.6ZM1722.8 33.5H1726.1V66.2H1722.8ZM1726.1 33.5H1729.4V90.1H1726.1ZM1729.4 33.5H1732.7V34.5H1729.4ZM1732.7 33.5H1735.9V115.9H1732.7ZM1735.9 33.5H1739.2V38.2H1735.9ZM1739.2 33.5H1742.5V90.1H1739.2ZM1742.5 33.5H1746V103.9H1742.5Z"/>
<path fill="#70AD47" d="M1709.9 33.6H1713V48.1H1709.9Z"/></g>
<!-- a4_u.txt -->
<g shape-rendering="crispEdges"><path fill="#5B9BD5" d="M1390.6 143H1521V255H1390.6ZM1521 146.7H1524.3V255H1521ZM1524.3 147.6H1527.5V255H1524.3ZM1527.5 150H1530.8V255H1527.5ZM1530.8 153.7H1534.1V255H1530.8ZM1534.1 166H1537.2V255H1534.1ZM1537.2 167H1540.5V255H1537.2ZM1540.5 169.7H1543.7V255H1540.5ZM1543.7 172.5H1547V255H1543.7ZM1547 175.8H1550.3V255H1547ZM1550.3 181.3H1553.6V255H1550.3ZM1553.6 182.6H1556.8V255H1553.6ZM1556.8 190.9H1560.1V255H1556.8ZM1560.1 199.2H1563.4V255H1560.1ZM1563.4 201.6H1566.5V255H1563.4ZM1566.5 212.1H1569.8V255H1566.5ZM1569.8 229.2H1573V255H1569.8Z"/>
<path fill="#ED7D31" d="M1521 143H1524.3V146.7H1521ZM1524.3 143H1527.5V147.6H1524.3ZM1527.5 143H1530.8V150H1527.5ZM1530.8 143H1534.1V153.7H1530.8ZM1534.1 143H1537.2V166H1534.1ZM1537.2 143H1540.5V167H1537.2ZM1543.7 143H1547V172.5H1543.7ZM1547 143H1550.3V175.8H1547ZM1553.6 143H1556.8V182.6H1553.6ZM1556.8 143H1560.1V190.9H1556.8ZM1560.1 143H1563.4V199.2H1560.1ZM1563.4 180.8H1566.5V201.6H1563.4ZM1566.5 143H1569.8V212.1H1566.5ZM1569.8 225H1573V229.2H1569.8Z"/>
<path fill="#4472C4" d="M1550.3 143H1553.6V159.6H1550.3Z"/>
<path fill="#5B9BD5" d="M1573 143H1644.7V255H1573ZM1644.7 144.8H1647.8V255H1644.7ZM1647.8 147.6H1651.1V255H1647.8ZM1651.1 148.5H1654.4V255H1651.1ZM1654.4 151.8H1657.6V255H1654.4ZM1657.6 152.2H1660.9V255H1657.6ZM1660.9 155.9H1664.2V255H1660.9ZM1664.2 157.4H1667.5V255H1664.2ZM1667.5 158.7H1670.6V255H1667.5ZM1670.6 160H1674V255H1670.6ZM1674 161.1H1677.1V255H1674ZM1677.1 162.3H1680.4V255H1677.1ZM1680.4 164.2H1683.7V255H1680.4ZM1683.7 171H1687V255H1683.7ZM1687 174H1690.2V255H1687ZM1690.2 174.7H1693.5V255H1690.2ZM1693.5 185H1696.8V255H1693.5ZM1696.8 185.7H1699.9V255H1696.8ZM1699.9 203.4H1703.2V255H1699.9ZM1703.2 204.7H1706.6V255H1703.2ZM1706.6 207.5H1709.9V255H1706.6ZM1709.9 209.3H1713V255H1709.9ZM1713 212.1H1716.3V255H1713ZM1716.3 213.9H1719.6V255H1716.3ZM1719.6 218.9H1722.8V255H1719.6ZM1722.8 218.9H1726.1V255H1722.8ZM1726.1 228.7H1729.4V255H1726.1ZM1729.4 246.2H1732.7V255H1729.4ZM1732.7 253.6H1735.9V255H1732.7Z"/>
<path fill="#ED7D31" d="M1644.7 143H1647.8V144.8H1644.7ZM1651.1 143H1654.4V148.5H1651.1ZM1654.4 143H1657.6V151.8H1654.4ZM1657.6 143H1660.9V152.2H1657.6ZM1660.9 153.7H1664.2V155.9H1660.9ZM1674 143H1677.1V161.1H1674ZM1683.7 143H1687V171H1683.7ZM1690.2 143H1693.5V174.7H1690.2ZM1693.5 143H1696.8V185H1693.5ZM1699.9 143H1703.2V203.4H1699.9ZM1703.2 143H1706.6V204.7H1703.2ZM1706.6 143H1709.9V207.5H1706.6ZM1709.9 143H1713V209.3H1709.9ZM1713 168.8H1716.3V212.1H1713ZM1719.6 143H1722.8V218.9H1719.6ZM1722.8 143H1726.1V218.9H1722.8ZM1735.9 143H1739.2V255H1735.9ZM1742.5 193.1H1746V255H1742.5Z"/></g>
<!-- b1_t.txt -->
<g shape-rendering="crispEdges"><path fill="#FFC000" d="M86 356.3H89.2V382.6H86Z"/>
<path fill="#5B9BD5" d="M86 382.6H89.2V465H86Z"/>
<path fill="#264478" d="M89.2 356.3H92.5V361.4H89.2Z"/>
<path fill="#9E480E" d="M89.2 361.4H92.5V365.1H89.2Z"/>
<path fill="#255E91" d="M89.2 365.1H92.5V400.1H89.2Z"/>
<path fill="#FFC000" d="M89.2 400.1H92.5V414H89.2Z"/>
<path fill="#5B9BD5" d="M89.2 414H92.5V465H89.2Z"/>
<path fill="#264478" d="M92.5 356.3H95.6V379H92.5Z"/>
<path fill="#255E91" d="M92.5 379H95.6V392.8H92.5Z"/>
<path fill="#FFC000" d="M92.5 392.8H95.6V412.1H92.5Z"/>
<path fill="#ED7D31" d="M92.5 412.1H95.6V414H92.5Z"/>
<path fill="#5B9BD5" d="M92.5 414H95.6V465H92.5Z"/>
<path fill="#FFC000" d="M95.6 356.3H98.7V377.1H95.6Z"/>
<path fill="#ED7D31" d="M95.6 377.1H98.7V431.5H95.6Z"/>
<path fill="#5B9BD5" d="M95.6 431.5H98.7V465H95.6Z"/>
<path fill="#264478" d="M98.7 356.3H102.1V367H98.7Z"/>
<path fill="#636363" d="M98.7 367H102.1V369.7H98.7Z"/>
<path fill="#255E91" d="M98.7 369.7H102.1V420.4H98.7Z"/>
<path fill="#FFC000" d="M98.7 420.4H102.1V430.9H98.7Z"/>
<path fill="#ED7D31" d="M98.7 430.9H102.1V444.4H98.7Z"/>
<path fill="#5B9BD5" d="M98.7 444.4H102.1V465H98.7Z"/>
<path fill="#264478" d="M102.1 356.3H105.2V398.3H102.1Z"/>
<path fill="#A5A5A5" d="M102.1 398.3H105.2V446.2H102.1Z"/>
<path fill="#ED7D31" d="M102.1 446.2H105.2V448.1H102.1Z"/>
<path fill="#5B9BD5" d="M102.1 448.1H105.2V465H102.1Z"/>
<path fill="#264478" d="M105.2 356.3H108.3V408.4H105.2Z"/>
<path fill="#70AD47" d="M105.2 408.4H108.3V410.3H105.2Z"/>
<path fill="#FFC000" d="M105.2 410.3H108.3V443.1H105.2Z"/>
<path fill="#ED7D31" d="M105.2 443.1H108.3V449.3H105.2Z"/>
<path fill="#5B9BD5" d="M105.2 449.3H108.3V465H105.2Z"/>
<path fill="#255E91" d="M108.3 356.3H111.6V454.5H108.3Z"/>
<path fill="#5B9BD5" d="M108.3 454.5H111.6V465H108.3Z"/>
<path fill="#255E91" d="M111.6 356.3H114.8V454.5H111.6Z"/>
<path fill="#FFC000" d="M111.6 454.5H114.8V457.3H111.6Z"/>
<path fill="#5B9BD5" d="M111.6 457.3H114.8V465H111.6Z"/>
<path fill="#264478" d="M114.8 356.3H117.9V439.8H114.8Z"/>
<path fill="#9E480E" d="M114.8 439.8H117.9V443.1H114.8Z"/>
<path fill="#255E91" d="M114.8 443.1H117.9V446.2H114.8Z"/>
<path fill="#A5A5A5" d="M114.8 446.2H117.9V447.5H114.8Z"/>
<path fill="#ED7D31" d="M114.8 447.5H117.9V461H114.8Z"/>
<path fill="#5B9BD5" d="M114.8 461H117.9V465H114.8Z"/>
<path fill="#264478" d="M117.9 356.3H121.2V374.3H117.9Z"/>
<path fill="#255E91" d="M117.9 374.3H121.2V458.6H117.9Z"/>
<path fill="#FFC000" d="M117.9 458.6H121.2V465H117.9Z"/>
<path fill="#264478" d="M121.2 356.3H124.4V392.8H121.2Z"/>
<path fill="#255E91" d="M121.2 392.8H124.4V459.1H121.2Z"/>
<path fill="#FFC000" d="M121.2 459.1H124.4V465H121.2Z"/>
<path fill="#264478" d="M124.4 356.3H127.5V359.6H124.4Z"/>
<path fill="#255E91" d="M124.4 359.6H127.5V446.2H124.4Z"/>
<path fill="#FFC000" d="M124.4 446.2H127.5V465H124.4Z"/>
<path fill="#264478" d="M127.5 356.3H130.8V394.6H127.5Z"/>
<path fill="#636363" d="M127.5 394.6H130.8V422.3H127.5Z"/>
<path fill="#255E91" d="M127.5 422.3H130.8V456.3H127.5Z"/>
<path fill="#FFC000" d="M127.5 456.3H130.8V462.8H127.5Z"/>
<path fill="#ED7D31" d="M127.5 462.8H130.8V465H127.5Z"/>
<path fill="#FFC000" d="M130.8 356.3H133.9V358.3H130.8Z"/>
<path fill="#A5A5A5" d="M130.8 358.3H133.9V465H130.8Z"/>
<path fill="#264478" d="M133.9 356.3H137.1V418.6H133.9Z"/>
<path fill="#255E91" d="M133.9 418.6H137.1V465H133.9Z"/>
<path fill="#264478" d="M137.1 356.3H140.4V445.7H137.1Z"/>
<path fill="#9E480E" d="M137.1 445.7H140.4V465H137.1Z"/>
<path fill="#264478" d="M143.5 356.3H146.6V359.1H143.5Z"/>
<path fill="#9E480E" d="M143.5 359.1H146.6V465H143.5Z"/>
<path fill="#264478" d="M146.6 356.3H150V458.2H146.6Z"/>
<path fill="#FFC000" d="M146.6 458.2H150V459.7H146.6Z"/>
<path fill="#ED7D31" d="M146.6 459.7H150V465H146.6Z"/>
<path fill="#264478" d="M150 356.3H153.1V356.8H150Z"/>
<path fill="#70AD47" d="M150 356.8H153.1V376.2H150Z"/>
<path fill="#FFC000" d="M150 376.2H153.1V465H150Z"/>
<path fill="#264478" d="M153.1 356.3H156.2V433.3H153.1Z"/>
<path fill="#A5A5A5" d="M153.1 433.3H156.2V465H153.1Z"/>
<path fill="#264478" d="M156.2 356.3H159.5V456H156.2Z"/>
<path fill="#ED7D31" d="M156.2 456H159.5V465H156.2Z"/>
<path fill="#264478" d="M162.7 356.3H165.8V359.1H162.7Z"/>
<path fill="#70AD47" d="M162.7 359.1H165.8V363.3H162.7Z"/>
<path fill="#4472C4" d="M162.7 363.3H165.8V463.7H162.7Z"/>
<path fill="#FFC000" d="M162.7 463.7H165.8V465H162.7Z"/>
<path fill="#255E91" d="M165.8 356.3H169.1V403.8H165.8Z"/>
<path fill="#4472C4" d="M165.8 403.8H169.1V407.5H165.8Z"/>
<path fill="#70AD47" d="M165.8 407.5H169.1V465H165.8Z"/>
<path fill="#255E91" d="M169.1 356.3H172.3V392.8H169.1Z"/>
<path fill="#70AD47" d="M169.1 392.8H172.3V465H169.1Z"/>
<path fill="#255E91" d="M172.3 356.3H175.4V390H172.3Z"/>
<path fill="#4472C4" d="M172.3 390H175.4V465H172.3Z"/>
<path fill="#255E91" d="M175.4 356.3H178.7V360.2H175.4Z"/>
<path fill="#70AD47" d="M175.4 360.2H178.7V365.1H175.4Z"/>
<path fill="#FFC000" d="M175.4 365.1H178.7V465H175.4Z"/>
<path fill="#264478" d="M178.7 356.3H181.8V356.8H178.7Z"/>
<path fill="#9E480E" d="M178.7 356.8H181.8V465H178.7Z"/>
<path fill="#255E91" d="M185 356.3H188.3V366.1H185Z"/>
<path fill="#264478" d="M185 366.1H188.3V465H185ZM188.3 356.3H191.4V365.1H188.3Z"/>
<path fill="#70AD47" d="M188.3 365.1H191.4V367H188.3Z"/>
<path fill="#FFC000" d="M188.3 367H191.4V465H188.3Z"/>
<path fill="#264478" d="M191.4 356.3H194.6V366.1H191.4Z"/>
<path fill="#255E91" d="M191.4 366.1H194.6V409.4H191.4Z"/>
<path fill="#70AD47" d="M191.4 409.4H194.6V465H191.4Z"/>
<path fill="#264478" d="M201 356.3H204.1V397.4H201Z"/>
<path fill="#255E91" d="M201 397.4H204.1V465H201ZM207.5 356.3H210.6V465H207.5Z"/>
<path fill="#264478" d="M210.6 356.3H213.7V356.8H210.6Z"/>
<path fill="#4472C4" d="M210.6 356.8H213.7V465H210.6Z"/>
<path fill="#264478" d="M213.7 356.3H217V368.8H213.7Z"/>
<path fill="#70AD47" d="M213.7 368.8H217V370.1H213.7Z"/>
<path fill="#4472C4" d="M213.7 370.1H217V465H213.7Z"/>
<path fill="#264478" d="M217 356.3H220.2V386H217Z"/>
<path fill="#9E480E" d="M217 386H220.2V465H217Z"/>
<path fill="#264478" d="M220.2 356.3H223.3V358.7H220.2Z"/>
<path fill="#70AD47" d="M220.2 358.7H223.3V360.2H220.2Z"/>
<path fill="#4472C4" d="M220.2 360.2H223.3V465H220.2Z"/>
<path fill="#9E480E" d="M223.3 356.3H226.6V408.8H223.3Z"/>
<path fill="#FFC000" d="M223.3 408.8H226.6V413.6H223.3Z"/>
<path fill="#ED7D31" d="M223.3 413.6H226.6V465H223.3Z"/>
<path fill="#264478" d="M229.8 356.3H232.9V366.4H229.8Z"/>
<path fill="#70AD47" d="M229.8 366.4H232.9V367.9H229.8Z"/>
<path fill="#4472C4" d="M229.8 367.9H232.9V405.1H229.8Z"/>
<path fill="#FFC000" d="M229.8 405.1H232.9V465H229.8Z"/>
<path fill="#264478" d="M232.9 356.3H236.2V360.2H232.9Z"/>
<path fill="#70AD47" d="M232.9 360.2H236.2V365.1H232.9Z"/>
<path fill="#FFC000" d="M232.9 365.1H236.2V465H232.9Z"/>
<path fill="#264478" d="M236.2 356.3H239.3V356.8H236.2Z"/>
<path fill="#4472C4" d="M236.2 356.8H239.3V465H236.2Z"/>
<path fill="#264478" d="M245.8 356.3H248.9V357.2H245.8Z"/>
<path fill="#4472C4" d="M245.8 357.2H248.9V465H245.8Z"/>
<path fill="#264478" d="M248.9 356.3H252V356.8H248.9Z"/>
<path fill="#4472C4" d="M248.9 356.8H252V465H248.9Z"/>
<path fill="#264478" d="M252 356.3H255.4V360.2H252Z"/>
<path fill="#255E91" d="M252 360.2H255.4V453.6H252Z"/>
<path fill="#FFC000" d="M252 453.6H255.4V465H252Z"/>
<path fill="#264478" d="M255.4 356.3H258.7V362H255.4Z"/>
<path fill="#255E91" d="M255.4 362H258.7V465H255.4Z"/>
<path fill="#5B9BD5" d="M265.1 356.3H268.3V465H265.1Z"/>
<path fill="#264478" d="M268.3 356.3H271.6V356.8H268.3Z"/>
<path fill="#255E91" d="M268.3 356.8H271.6V396.5H268.3Z"/>
<path fill="#70AD47" d="M268.3 396.5H271.6V397.4H268.3Z"/>
<path fill="#5B9BD5" d="M268.3 397.4H271.6V465H268.3Z"/>
<path fill="#264478" d="M271.6 356.3H274.7V402.5H271.6Z"/>
<path fill="#FFC000" d="M271.6 402.5H274.7V407.5H271.6Z"/>
<path fill="#5B9BD5" d="M271.6 407.5H274.7V465H271.6Z"/>
<path fill="#264478" d="M274.7 356.3H277.8V400.1H274.7Z"/>
<path fill="#255E91" d="M274.7 400.1H277.8V407.5H274.7Z"/>
<path fill="#FFC000" d="M274.7 407.5H277.8V410.3H274.7Z"/>
<path fill="#5B9BD5" d="M274.7 410.3H277.8V465H274.7Z"/>
<path fill="#264478" d="M277.8 356.3H281.2V402H277.8Z"/>
<path fill="#255E91" d="M277.8 402H281.2V416.7H277.8Z"/>
<path fill="#70AD47" d="M277.8 416.7H281.2V418.2H277.8Z"/>
<path fill="#4472C4" d="M277.8 418.2H281.2V425.9H277.8Z"/>
<path fill="#ED7D31" d="M277.8 425.9H281.2V445.3H277.8Z"/>
<path fill="#5B9BD5" d="M277.8 445.3H281.2V465H277.8Z"/>
<path fill="#636363" d="M281.2 356.3H284.3V362H281.2Z"/>
<path fill="#9E480E" d="M281.2 362H284.3V367H281.2Z"/>
<path fill="#4472C4" d="M281.2 367H284.3V433.3H281.2Z"/>
<path fill="#A5A5A5" d="M281.2 433.3H284.3V436.1H281.2Z"/>
<path fill="#ED7D31" d="M281.2 436.1H284.3V449.9H281.2Z"/>
<path fill="#5B9BD5" d="M281.2 449.9H284.3V465H281.2Z"/>
<path fill="#264478" d="M284.3 356.3H287.4V417.6H284.3Z"/>
<path fill="#255E91" d="M284.3 417.6H287.4V438.8H284.3Z"/>
<path fill="#FFC000" d="M284.3 438.8H287.4V449.9H284.3Z"/>
<path fill="#5B9BD5" d="M284.3 449.9H287.4V465H284.3Z"/>
<path fill="#264478" d="M287.4 356.3H290.7V436.1H287.4Z"/>
<path fill="#255E91" d="M287.4 436.1H290.7V445.3H287.4Z"/>
<path fill="#FFC000" d="M287.4 445.3H290.7V449.9H287.4Z"/>
<path fill="#ED7D31" d="M287.4 449.9H290.7V455.4H287.4Z"/>
<path fill="#5B9BD5" d="M287.4 455.4H290.7V465H287.4Z"/>
<path fill="#264478" d="M290.7 356.3H293.9V380.4H290.7Z"/>
<path fill="#997300" d="M290.7 380.4H293.9V395.5H290.7Z"/>
<path fill="#636363" d="M290.7 395.5H293.9V403.8H290.7Z"/>
<path fill="#255E91" d="M290.7 403.8H293.9V425.9H290.7Z"/>
<path fill="#4472C4" d="M290.7 425.9H293.9V429.6H290.7Z"/>
<path fill="#A5A5A5" d="M290.7 429.6H293.9V434.6H290.7Z"/>
<path fill="#ED7D31" d="M290.7 434.6H293.9V456H290.7Z"/>
<path fill="#5B9BD5" d="M290.7 456H293.9V465H290.7Z"/>
<path fill="#264478" d="M293.9 356.3H297V371.6H293.9Z"/>
<path fill="#255E91" d="M293.9 371.6H297V382.6H293.9Z"/>
<path fill="#4472C4" d="M293.9 382.6H297V389.1H293.9Z"/>
<path fill="#FFC000" d="M293.9 389.1H297V462.8H293.9Z"/>
<path fill="#ED7D31" d="M293.9 462.8H297V465H293.9Z"/>
<path fill="#264478" d="M297 356.3H300.3V412.1H297Z"/>
<path fill="#255E91" d="M297 412.1H300.3V465H297Z"/>
<path fill="#264478" d="M300.3 356.3H303.5V420.4H300.3Z"/>
<path fill="#FFC000" d="M300.3 420.4H303.5V437.9H300.3Z"/>
<path fill="#A5A5A5" d="M300.3 437.9H303.5V465H300.3Z"/>
<path fill="#264478" d="M303.5 356.3H306.6V409.9H303.5Z"/>
<path fill="#4472C4" d="M303.5 409.9H306.6V418.6H303.5Z"/>
<path fill="#A5A5A5" d="M303.5 418.6H306.6V423.2H303.5Z"/>
<path fill="#ED7D31" d="M303.5 423.2H306.6V465H303.5Z"/>
<path fill="#264478" d="M306.6 356.3H309.9V432.8H306.6Z"/>
<path fill="#FFC000" d="M306.6 432.8H309.9V435.2H306.6Z"/>
<path fill="#A5A5A5" d="M306.6 435.2H309.9V437H306.6Z"/>
<path fill="#ED7D31" d="M306.6 437H309.9V465H306.6Z"/>
<path fill="#264478" d="M309.9 356.3H313V418.6H309.9Z"/>
<path fill="#636363" d="M309.9 418.6H313V429.6H309.9Z"/>
<path fill="#255E91" d="M309.9 429.6H313V437H309.9Z"/>
<path fill="#FFC000" d="M309.9 437H313V439.4H309.9Z"/>
<path fill="#A5A5A5" d="M309.9 439.4H313V465H309.9Z"/>
<path fill="#264478" d="M316.2 356.3H319.5V358.3H316.2Z"/>
<path fill="#636363" d="M316.2 358.3H319.5V360.5H316.2Z"/>
<path fill="#FFC000" d="M316.2 360.5H319.5V465H316.2Z"/>
<path fill="#264478" d="M322.6 356.3H325.8V400.7H322.6Z"/>
<path fill="#997300" d="M322.6 400.7H325.8V465H322.6Z"/>
<path fill="#264478" d="M329.1 356.3H332.2V406.2H329.1Z"/>
<path fill="#255E91" d="M329.1 406.2H332.2V465H329.1ZM338.7 356.3H341.8V465H338.7ZM341.8 356.3H344.9V389.1H341.8Z"/>
<path fill="#70AD47" d="M341.8 389.1H344.9V465H341.8Z"/>
<path fill="#9E480E" d="M344.9 356.3H348.2V465H344.9Z"/>
<path fill="#264478" d="M351.4 356.3H354.5V356.8H351.4Z"/>
<path fill="#9E480E" d="M351.4 356.8H354.5V465H351.4Z"/>
<path fill="#264478" d="M354.5 356.3H357.8V360.5H354.5Z"/>
<path fill="#255E91" d="M354.5 360.5H357.8V423.2H354.5Z"/>
<path fill="#70AD47" d="M354.5 423.2H357.8V429.6H354.5Z"/>
<path fill="#FFC000" d="M354.5 429.6H357.8V465H354.5Z"/>
<path fill="#264478" d="M360.9 356.3H364.1V360.2H360.9Z"/>
<path fill="#255E91" d="M360.9 360.2H364.1V363.3H360.9Z"/>
<path fill="#70AD47" d="M360.9 363.3H364.1V433.3H360.9Z"/>
<path fill="#FFC000" d="M360.9 433.3H364.1V465H360.9Z"/>
<path fill="#264478" d="M364.1 356.3H367.4V454.5H364.1Z"/>
<path fill="#4472C4" d="M364.1 454.5H367.4V465H364.1Z"/>
<path fill="#264478" d="M367.4 356.3H373.7V356.8H367.4Z"/>
<path fill="#255E91" d="M367.4 356.8H373.7V465H367.4Z"/>
<path fill="#264478" d="M377 356.3H380.1V425H377Z"/>
<path fill="#255E91" d="M377 425H380.1V465H377Z"/>
<path fill="#9E480E" d="M380.1 356.3H383.2V465H380.1Z"/>
<path fill="#255E91" d="M383.2 356.3H392.8V465H383.2Z"/>
<path fill="#264478" d="M392.8 356.3H396.1V379H392.8Z"/>
<path fill="#255E91" d="M392.8 379H396.1V465H392.8Z"/>
<path fill="#264478" d="M402.4 356.3H405.7V356.8H402.4Z"/>
<path fill="#255E91" d="M402.4 356.8H405.7V394.1H402.4Z"/>
<path fill="#70AD47" d="M402.4 394.1H405.7V403.8H402.4Z"/>
<path fill="#4472C4" d="M402.4 403.8H405.7V465H402.4Z"/>
<path fill="#264478" d="M408.9 356.3H412V456H408.9Z"/>
<path fill="#636363" d="M408.9 456H412V459.1H408.9Z"/>
<path fill="#4472C4" d="M408.9 459.1H412V465H408.9Z"/>
<path fill="#264478" d="M412 356.3H415.3V445.3H412Z"/>
<path fill="#ED7D31" d="M412 445.3H415.3V465H412Z"/>
<path fill="#264478" d="M415.3 356.3H418.4V356.8H415.3Z"/>
<path fill="#255E91" d="M415.3 356.8H418.4V465H415.3Z"/>
<path fill="#264478" d="M418.4 356.3H421.6V448.1H418.4Z"/>
<path fill="#255E91" d="M418.4 448.1H421.6V465H418.4Z"/>
<path fill="#70AD47" d="M421.6 356.3H424.9V365.1H421.6Z"/>
<path fill="#FFC000" d="M421.6 365.1H424.9V366.4H421.6Z"/>
<path fill="#A5A5A5" d="M421.6 366.4H424.9V394.1H421.6Z"/>
<path fill="#ED7D31" d="M421.6 394.1H424.9V465H421.6Z"/>
<path fill="#255E91" d="M424.9 356.3H431.9V465H424.9Z"/></g>
<!-- b1_u.txt -->
<g shape-rendering="crispEdges"><path fill="#5B9BD5" d="M86 465H117.9V575.6H86Z"/>
<path fill="#FFC000" d="M117.9 465H121.2V465.9H117.9Z"/>
<path fill="#5B9BD5" d="M117.9 465.9H121.2V575.6H117.9Z"/>
<path fill="#ED7D31" d="M121.2 465H124.4V483.4H121.2Z"/>
<path fill="#5B9BD5" d="M121.2 483.4H124.4V575.6H121.2Z"/>
<path fill="#FFC000" d="M124.4 465H127.5V492.6H124.4Z"/>
<path fill="#ED7D31" d="M124.4 492.6H127.5V495.4H124.4Z"/>
<path fill="#5B9BD5" d="M124.4 495.4H127.5V575.6H124.4Z"/>
<path fill="#ED7D31" d="M127.5 465H130.8V498.2H127.5Z"/>
<path fill="#5B9BD5" d="M127.5 498.2H130.8V575.6H127.5Z"/>
<path fill="#A5A5A5" d="M130.8 465H133.9V502.8H130.8Z"/>
<path fill="#ED7D31" d="M130.8 502.8H133.9V504.1H130.8Z"/>
<path fill="#5B9BD5" d="M130.8 504.1H133.9V575.6H130.8Z"/>
<path fill="#255E91" d="M133.9 465H137.1V502.8H133.9Z"/>
<path fill="#A5A5A5" d="M133.9 502.8H137.1V507H133.9Z"/>
<path fill="#5B9BD5" d="M133.9 507H137.1V575.6H133.9Z"/>
<path fill="#9E480E" d="M137.1 465H140.4V468.7H137.1Z"/>
<path fill="#FFC000" d="M137.1 468.7H140.4V472.4H137.1Z"/>
<path fill="#ED7D31" d="M137.1 472.4H140.4V523.6H137.1Z"/>
<path fill="#5B9BD5" d="M137.1 523.6H140.4V575.6H137.1Z"/>
<path fill="#255E91" d="M140.4 465H143.5V498.2H140.4Z"/>
<path fill="#4472C4" d="M140.4 498.2H143.5V507.7H140.4Z"/>
<path fill="#FFC000" d="M140.4 507.7H143.5V539.6H140.4Z"/>
<path fill="#5B9BD5" d="M140.4 539.6H143.5V575.6H140.4Z"/>
<path fill="#9E480E" d="M143.5 465H146.6V534.1H143.5Z"/>
<path fill="#4472C4" d="M143.5 534.1H146.6V541.5H143.5Z"/>
<path fill="#FFC000" d="M143.5 541.5H146.6V548.8H143.5Z"/>
<path fill="#5B9BD5" d="M143.5 548.8H146.6V575.6H143.5Z"/>
<path fill="#ED7D31" d="M146.6 465H150V549.8H146.6Z"/>
<path fill="#5B9BD5" d="M146.6 549.8H150V575.6H146.6Z"/>
<path fill="#FFC000" d="M150 465H153.1V553.1H150Z"/>
<path fill="#5B9BD5" d="M150 553.1H153.1V575.6H150Z"/>
<path fill="#A5A5A5" d="M153.1 465H156.2V480.7H153.1Z"/>
<path fill="#ED7D31" d="M153.1 480.7H156.2V553.4H153.1Z"/>
<path fill="#5B9BD5" d="M153.1 553.4H156.2V575.6H153.1Z"/>
<path fill="#ED7D31" d="M156.2 465H159.5V562.7H156.2Z"/>
<path fill="#5B9BD5" d="M156.2 562.7H159.5V575.6H156.2Z"/>
<path fill="#264478" d="M159.5 465H162.7V558.1H159.5Z"/>
<path fill="#4472C4" d="M159.5 558.1H162.7V563.6H159.5Z"/>
<path fill="#ED7D31" d="M159.5 563.6H162.7V565.4H159.5Z"/>
<path fill="#5B9BD5" d="M159.5 565.4H162.7V575.6H159.5Z"/>
<path fill="#FFC000" d="M162.7 465H165.8V575.6H162.7Z"/>
<path fill="#70AD47" d="M165.8 465H169.1V500H165.8Z"/>
<path fill="#FFC000" d="M165.8 500H169.1V575.6H165.8Z"/>
<path fill="#70AD47" d="M169.1 465H172.3V554.4H169.1Z"/>
<path fill="#FFC000" d="M169.1 554.4H172.3V575.6H169.1Z"/>
<path fill="#4472C4" d="M172.3 465H175.4V570H172.3Z"/>
<path fill="#FFC000" d="M172.3 570H175.4V575.6H172.3ZM175.4 465H178.7V575.6H175.4Z"/>
<path fill="#9E480E" d="M178.7 465H181.8V568.2H178.7Z"/>
<path fill="#FFC000" d="M178.7 568.2H181.8V575.6H178.7Z"/>
<path fill="#264478" d="M181.8 465H185V503.7H181.8Z"/>
<path fill="#255E91" d="M181.8 503.7H185V572.8H181.8Z"/>
<path fill="#FFC000" d="M181.8 572.8H185V575.6H181.8Z"/>
<path fill="#264478" d="M185 465H188.3V472.4H185Z"/>
<path fill="#FFC000" d="M185 472.4H188.3V473.8H185Z"/>
<path fill="#ED7D31" d="M185 473.8H188.3V575.6H185Z"/>
<path fill="#FFC000" d="M188.3 465H191.4V575.6H188.3Z"/>
<path fill="#70AD47" d="M191.4 465H194.6V493.6H191.4Z"/>
<path fill="#FFC000" d="M191.4 493.6H194.6V575.6H191.4Z"/>
<path fill="#264478" d="M194.6 465H197.9V506.5H194.6Z"/>
<path fill="#255E91" d="M194.6 506.5H197.9V556.2H194.6Z"/>
<path fill="#4472C4" d="M194.6 556.2H197.9V575.6H194.6Z"/>
<path fill="#264478" d="M197.9 465H201V571.9H197.9Z"/>
<path fill="#FFC000" d="M197.9 571.9H201V575.6H197.9Z"/>
<path fill="#255E91" d="M201 465H204.1V542.4H201Z"/>
<path fill="#FFC000" d="M201 542.4H204.1V575.6H201Z"/>
<path fill="#264478" d="M204.1 465H207.5V555.3H204.1Z"/>
<path fill="#70AD47" d="M204.1 555.3H207.5V556.8H204.1Z"/>
<path fill="#4472C4" d="M204.1 556.8H207.5V575.6H204.1Z"/>
<path fill="#255E91" d="M207.5 465H210.6V551.6H207.5Z"/>
<path fill="#4472C4" d="M207.5 551.6H210.6V575.6H207.5ZM210.6 465H213.7V575.6H210.6ZM213.7 465H217V569.1H213.7Z"/>
<path fill="#FFC000" d="M213.7 569.1H217V575.6H213.7Z"/>
<path fill="#9E480E" d="M217 465H220.2V551.6H217Z"/>
<path fill="#255E91" d="M217 551.6H220.2V565.4H217Z"/>
<path fill="#FFC000" d="M217 565.4H220.2V575.6H217Z"/>
<path fill="#4472C4" d="M220.2 465H223.3V564.5H220.2Z"/>
<path fill="#FFC000" d="M220.2 564.5H223.3V575.6H220.2Z"/>
<path fill="#ED7D31" d="M223.3 465H226.6V575.6H223.3Z"/>
<path fill="#264478" d="M226.6 465H229.8V548.8H226.6Z"/>
<path fill="#4472C4" d="M226.6 548.8H229.8V559.9H226.6Z"/>
<path fill="#FFC000" d="M226.6 559.9H229.8V575.6H226.6ZM229.8 465H236.2V575.6H229.8Z"/>
<path fill="#4472C4" d="M236.2 465H239.3V530.4H236.2Z"/>
<path fill="#FFC000" d="M236.2 530.4H239.3V575.6H236.2Z"/>
<path fill="#264478" d="M239.3 465H242.5V523H239.3Z"/>
<path fill="#9E480E" d="M239.3 523H242.5V575.6H239.3Z"/>
<path fill="#264478" d="M242.5 465H245.8V535.9H242.5Z"/>
<path fill="#255E91" d="M242.5 535.9H245.8V567.3H242.5Z"/>
<path fill="#70AD47" d="M242.5 567.3H245.8V568.6H242.5Z"/>
<path fill="#FFC000" d="M242.5 568.6H245.8V575.6H242.5Z"/>
<path fill="#4472C4" d="M245.8 465H252V575.6H245.8Z"/>
<path fill="#FFC000" d="M252 465H255.4V575.6H252Z"/>
<path fill="#255E91" d="M255.4 465H258.7V535.9H255.4Z"/>
<path fill="#FFC000" d="M255.4 535.9H258.7V575.6H255.4Z"/>
<path fill="#5B9BD5" d="M265.1 465H293.9V575.6H265.1Z"/>
<path fill="#ED7D31" d="M293.9 465H297V468.7H293.9Z"/>
<path fill="#5B9BD5" d="M293.9 468.7H297V575.6H293.9Z"/>
<path fill="#255E91" d="M297 465H300.3V469.6H297Z"/>
<path fill="#5B9BD5" d="M297 469.6H300.3V575.6H297Z"/>
<path fill="#A5A5A5" d="M300.3 465H303.5V479.7H300.3Z"/>
<path fill="#5B9BD5" d="M300.3 479.7H303.5V575.6H300.3Z"/>
<path fill="#ED7D31" d="M303.5 465H306.6V489.9H303.5Z"/>
<path fill="#5B9BD5" d="M303.5 489.9H306.6V575.6H303.5Z"/>
<path fill="#ED7D31" d="M306.6 465H309.9V503.7H306.6Z"/>
<path fill="#5B9BD5" d="M306.6 503.7H309.9V575.6H306.6Z"/>
<path fill="#A5A5A5" d="M309.9 465H313V466.8H309.9Z"/>
<path fill="#ED7D31" d="M309.9 466.8H313V509.2H309.9Z"/>
<path fill="#5B9BD5" d="M309.9 509.2H313V575.6H309.9Z"/>
<path fill="#264478" d="M313 465H316.2V469.6H313Z"/>
<path fill="#255E91" d="M313 469.6H316.2V508.3H313Z"/>
<path fill="#FFC000" d="M313 508.3H316.2V510.7H313Z"/>
<path fill="#5B9BD5" d="M313 510.7H316.2V575.6H313Z"/>
<path fill="#FFC000" d="M316.2 465H319.5V532.8H316.2Z"/>
<path fill="#ED7D31" d="M316.2 532.8H319.5V534.1H316.2Z"/>
<path fill="#5B9BD5" d="M316.2 534.1H319.5V575.6H316.2Z"/>
<path fill="#264478" d="M319.5 465H322.6V535H319.5Z"/>
<path fill="#FFC000" d="M319.5 535H322.6V548.8H319.5Z"/>
<path fill="#5B9BD5" d="M319.5 548.8H322.6V575.6H319.5Z"/>
<path fill="#997300" d="M322.6 465H325.8V548.8H322.6Z"/>
<path fill="#ED7D31" d="M322.6 548.8H325.8V566.3H322.6Z"/>
<path fill="#5B9BD5" d="M322.6 566.3H325.8V575.6H322.6Z"/>
<path fill="#264478" d="M325.8 465H329.1V559.9H325.8Z"/>
<path fill="#70AD47" d="M325.8 559.9H329.1V566H325.8Z"/>
<path fill="#FFC000" d="M325.8 566H329.1V571H325.8Z"/>
<path fill="#5B9BD5" d="M325.8 571H329.1V575.6H325.8Z"/>
<path fill="#255E91" d="M329.1 465H332.2V544.2H329.1Z"/>
<path fill="#70AD47" d="M329.1 544.2H332.2V559.9H329.1Z"/>
<path fill="#FFC000" d="M329.1 559.9H332.2V575.6H329.1Z"/>
<path fill="#264478" d="M332.2 465H335.3V538.7H332.2Z"/>
<path fill="#FFC000" d="M332.2 538.7H335.3V575.6H332.2Z"/>
<path fill="#264478" d="M335.3 465H338.7V551.6H335.3Z"/>
<path fill="#255E91" d="M335.3 551.6H338.7V565.4H335.3Z"/>
<path fill="#4472C4" d="M335.3 565.4H338.7V568.2H335.3Z"/>
<path fill="#ED7D31" d="M335.3 568.2H338.7V575.6H335.3Z"/>
<path fill="#255E91" d="M338.7 465H341.8V559H338.7Z"/>
<path fill="#FFC000" d="M338.7 559H341.8V568.2H338.7Z"/>
<path fill="#ED7D31" d="M338.7 568.2H341.8V575.6H338.7Z"/>
<path fill="#70AD47" d="M341.8 465H344.9V575.6H341.8Z"/>
<path fill="#9E480E" d="M344.9 465H348.2V491.7H344.9Z"/>
<path fill="#255E91" d="M344.9 491.7H348.2V567.3H344.9Z"/>
<path fill="#FFC000" d="M344.9 567.3H348.2V575.6H344.9Z"/>
<path fill="#264478" d="M348.2 465H351.4V554.4H348.2Z"/>
<path fill="#4472C4" d="M348.2 554.4H351.4V575.6H348.2Z"/>
<path fill="#9E480E" d="M351.4 465H354.5V490.4H351.4Z"/>
<path fill="#FFC000" d="M351.4 490.4H354.5V575.6H351.4ZM354.5 465H357.8V575.6H354.5Z"/>
<path fill="#264478" d="M357.8 465H360.9V494.5H357.8Z"/>
<path fill="#9E480E" d="M357.8 494.5H360.9V575.6H357.8Z"/>
<path fill="#FFC000" d="M360.9 465H364.1V575.6H360.9Z"/>
<path fill="#4472C4" d="M364.1 465H367.4V526.7H364.1Z"/>
<path fill="#ED7D31" d="M364.1 526.7H367.4V575.6H364.1Z"/>
<path fill="#255E91" d="M367.4 465H370.5V571.9H367.4Z"/>
<path fill="#FFC000" d="M367.4 571.9H370.5V575.6H367.4Z"/>
<path fill="#255E91" d="M370.5 465H373.7V547.9H370.5Z"/>
<path fill="#4472C4" d="M370.5 547.9H373.7V567.3H370.5Z"/>
<path fill="#FFC000" d="M370.5 567.3H373.7V575.6H370.5Z"/>
<path fill="#264478" d="M373.7 465H377V546.1H373.7Z"/>
<path fill="#255E91" d="M373.7 546.1H377V575.6H373.7ZM377 465H380.1V547H377Z"/>
<path fill="#FFC000" d="M377 547H380.1V575.6H377Z"/>
<path fill="#9E480E" d="M380.1 465H383.2V470.5H380.1Z"/>
<path fill="#70AD47" d="M380.1 470.5H383.2V504.6H380.1Z"/>
<path fill="#FFC000" d="M380.1 504.6H383.2V575.6H380.1Z"/>
<path fill="#255E91" d="M383.2 465H386.6V567.3H383.2Z"/>
<path fill="#4472C4" d="M383.2 567.3H386.6V572.8H383.2Z"/>
<path fill="#FFC000" d="M383.2 572.8H386.6V575.6H383.2Z"/>
<path fill="#255E91" d="M386.6 465H389.7V575.6H386.6ZM389.7 465H392.8V477H389.7Z"/>
<path fill="#70AD47" d="M389.7 477H392.8V478.8H389.7Z"/>
<path fill="#FFC000" d="M389.7 478.8H392.8V575.6H389.7Z"/>
<path fill="#255E91" d="M392.8 465H396.1V573.7H392.8Z"/>
<path fill="#FFC000" d="M392.8 573.7H396.1V575.6H392.8Z"/>
<path fill="#264478" d="M396.1 465H399.3V529.5H396.1Z"/>
<path fill="#255E91" d="M396.1 529.5H399.3V560.8H396.1Z"/>
<path fill="#FFC000" d="M396.1 560.8H399.3V575.6H396.1Z"/>
<path fill="#264478" d="M399.3 465H402.4V516.6H399.3Z"/>
<path fill="#255E91" d="M399.3 516.6H402.4V548.8H399.3Z"/>
<path fill="#70AD47" d="M399.3 548.8H402.4V551.6H399.3Z"/>
<path fill="#4472C4" d="M399.3 551.6H402.4V573.7H399.3Z"/>
<path fill="#FFC000" d="M399.3 573.7H402.4V575.6H399.3Z"/>
<path fill="#4472C4" d="M402.4 465H405.7V571.9H402.4Z"/>
<path fill="#FFC000" d="M402.4 571.9H405.7V575.6H402.4Z"/>
<path fill="#264478" d="M405.7 465H408.9V545.2H405.7Z"/>
<path fill="#255E91" d="M405.7 545.2H408.9V571H405.7Z"/>
<path fill="#FFC000" d="M405.7 571H408.9V575.6H405.7Z"/>
<path fill="#4472C4" d="M408.9 465H412V493.6H408.9Z"/>
<path fill="#FFC000" d="M408.9 493.6H412V495.4H408.9Z"/>
<path fill="#ED7D31" d="M408.9 495.4H412V575.6H408.9ZM412 465H415.3V575.6H412Z"/>
<path fill="#255E91" d="M415.3 465H418.4V546.1H415.3Z"/>
<path fill="#FFC000" d="M415.3 546.1H418.4V575.6H415.3Z"/>
<path fill="#255E91" d="M418.4 465H421.6V551.6H418.4Z"/>
<path fill="#FFC000" d="M418.4 551.6H421.6V575.6H418.4Z"/>
<path fill="#ED7D31" d="M421.6 465H424.9V575.6H421.6Z"/>
<path fill="#255E91" d="M424.9 465H428V557.1H424.9Z"/>
<path fill="#70AD47" d="M424.9 557.1H428V559.9H424.9Z"/>
<path fill="#FFC000" d="M424.9 559.9H428V575.6H424.9Z"/>
<path fill="#255E91" d="M428 465H431.9V571H428Z"/>
<path fill="#70AD47" d="M428 571H431.9V572.8H428Z"/>
<path fill="#FFC000" d="M428 572.8H431.9V575.6H428Z"/></g>
<!-- b2_t.txt -->
<g shape-rendering="crispEdges"><path fill="#255E91" d="M509.2 354H857.4V463H509.2Z"/>
<path fill="#FFC000" d="M509.2 354H512.2V365.9H509.2Z"/>
<path fill="#5B9BD5" d="M509.2 365.9H512.2V463H509.2Z"/>
<path fill="#FFC000" d="M512.2 354H515.4V371.4H512.2Z"/>
<path fill="#5B9BD5" d="M512.2 371.4H515.4V463H512.2Z"/>
<path fill="#997300" d="M515.4 354H518.5V359.4H515.4Z"/>
<path fill="#255E91" d="M515.4 359.4H518.5V365.9H515.4Z"/>
<path fill="#4472C4" d="M515.4 365.9H518.5V368.7H515.4Z"/>
<path fill="#FFC000" d="M515.4 368.7H518.5V374.2H515.4Z"/>
<path fill="#ED7D31" d="M515.4 374.2H518.5V377H515.4Z"/>
<path fill="#5B9BD5" d="M515.4 377H518.5V463H515.4Z"/>
<path fill="#255E91" d="M518.5 354H521.8V367.7H518.5Z"/>
<path fill="#FFC000" d="M518.5 367.7H521.8V374.2H518.5Z"/>
<path fill="#A5A5A5" d="M518.5 374.2H521.8V377H518.5Z"/>
<path fill="#ED7D31" d="M518.5 377H521.8V380.6H518.5Z"/>
<path fill="#5B9BD5" d="M518.5 380.6H521.8V463H518.5Z"/>
<path fill="#255E91" d="M521.8 354H524.6V369.6H521.8Z"/>
<path fill="#FFC000" d="M521.8 369.6H524.6V380.6H521.8Z"/>
<path fill="#ED7D31" d="M521.8 380.6H524.6V382.5H521.8Z"/>
<path fill="#5B9BD5" d="M521.8 382.5H524.6V463H521.8Z"/>
<path fill="#255E91" d="M524.6 354H527.9V362.2H524.6Z"/>
<path fill="#FFC000" d="M524.6 362.2H527.9V383.4H524.6Z"/>
<path fill="#5B9BD5" d="M524.6 383.4H527.9V463H524.6Z"/>
<path fill="#255E91" d="M527.9 354H531V371.4H527.9Z"/>
<path fill="#FFC000" d="M527.9 371.4H531V384.3H527.9Z"/>
<path fill="#5B9BD5" d="M527.9 384.3H531V463H527.9Z"/>
<path fill="#264478" d="M531 354H534.2V360.4H531Z"/>
<path fill="#255E91" d="M531 360.4H534.2V364.1H531Z"/>
<path fill="#FFC000" d="M531 364.1H534.2V370.5H531Z"/>
<path fill="#A5A5A5" d="M531 370.5H534.2V376H531Z"/>
<path fill="#ED7D31" d="M531 376H534.2V385.2H531Z"/>
<path fill="#5B9BD5" d="M531 385.2H534.2V463H531Z"/>
<path fill="#997300" d="M534.2 354H537.5V365.9H534.2Z"/>
<path fill="#255E91" d="M534.2 365.9H537.5V380.6H534.2Z"/>
<path fill="#FFC000" d="M534.2 380.6H537.5V388.9H534.2Z"/>
<path fill="#5B9BD5" d="M534.2 388.9H537.5V463H534.2Z"/>
<path fill="#264478" d="M537.5 354H540.8V356.7H537.5Z"/>
<path fill="#4472C4" d="M537.5 356.7H540.8V364.1H537.5Z"/>
<path fill="#FFC000" d="M537.5 364.1H540.8V399.1H537.5Z"/>
<path fill="#5B9BD5" d="M537.5 399.1H540.8V463H537.5Z"/>
<path fill="#997300" d="M540.8 354H543.9V368.7H540.8Z"/>
<path fill="#255E91" d="M540.8 368.7H543.9V373.3H540.8Z"/>
<path fill="#FFC000" d="M540.8 373.3H543.9V401.8H540.8Z"/>
<path fill="#5B9BD5" d="M540.8 401.8H543.9V463H540.8Z"/>
<path fill="#255E91" d="M543.9 354H547.1V380.6H543.9Z"/>
<path fill="#FFC000" d="M543.9 380.6H547.1V383.4H543.9Z"/>
<path fill="#ED7D31" d="M543.9 383.4H547.1V402.8H543.9Z"/>
<path fill="#5B9BD5" d="M543.9 402.8H547.1V463H543.9Z"/>
<path fill="#255E91" d="M547.1 354H550.4V384.3H547.1Z"/>
<path fill="#FFC000" d="M547.1 384.3H550.4V404.6H547.1Z"/>
<path fill="#5B9BD5" d="M547.1 404.6H550.4V463H547.1Z"/>
<path fill="#255E91" d="M550.4 354H553.5V358.5H550.4Z"/>
<path fill="#FFC000" d="M550.4 358.5H553.5V408.3H550.4Z"/>
<path fill="#5B9BD5" d="M550.4 408.3H553.5V463H550.4Z"/>
<path fill="#997300" d="M553.5 354H556.8V356.7H553.5Z"/>
<path fill="#9E480E" d="M553.5 356.7H556.8V362.2H553.5Z"/>
<path fill="#255E91" d="M553.5 362.2H556.8V395.4H553.5Z"/>
<path fill="#FFC000" d="M553.5 395.4H556.8V410.1H553.5Z"/>
<path fill="#5B9BD5" d="M553.5 410.1H556.8V463H553.5Z"/>
<path fill="#255E91" d="M556.8 354H560V377H556.8Z"/>
<path fill="#FFC000" d="M556.8 377H560V412H556.8Z"/>
<path fill="#5B9BD5" d="M556.8 412H560V463H556.8Z"/>
<path fill="#255E91" d="M560 354H563.3V371.1H560Z"/>
<path fill="#FFC000" d="M560 371.1H563.3V412.9H560Z"/>
<path fill="#5B9BD5" d="M560 412.9H563.3V463H560Z"/>
<path fill="#255E91" d="M563.3 354H566.4V378.8H563.3Z"/>
<path fill="#FFC000" d="M563.3 378.8H566.4V413.8H563.3Z"/>
<path fill="#5B9BD5" d="M563.3 413.8H566.4V463H563.3Z"/>
<path fill="#255E91" d="M566.4 354H569.7V369.2H566.4Z"/>
<path fill="#FFC000" d="M566.4 369.2H569.7V414.7H566.4Z"/>
<path fill="#5B9BD5" d="M566.4 414.7H569.7V463H566.4Z"/>
<path fill="#997300" d="M569.7 354H572.9V400H569.7Z"/>
<path fill="#FFC000" d="M569.7 400H572.9V419.3H569.7Z"/>
<path fill="#5B9BD5" d="M569.7 419.3H572.9V463H569.7Z"/>
<path fill="#255E91" d="M572.9 354H576.2V373.3H572.9Z"/>
<path fill="#FFC000" d="M572.9 373.3H576.2V422.1H572.9Z"/>
<path fill="#5B9BD5" d="M572.9 422.1H576.2V463H572.9Z"/>
<path fill="#255E91" d="M576.2 354H579.3V358.5H576.2Z"/>
<path fill="#FFC000" d="M576.2 358.5H579.3V423H576.2Z"/>
<path fill="#5B9BD5" d="M576.2 423H579.3V463H576.2Z"/>
<path fill="#997300" d="M579.3 354H582.6V363.1H579.3Z"/>
<path fill="#255E91" d="M579.3 363.1H582.6V390.8H579.3Z"/>
<path fill="#4472C4" d="M579.3 390.8H582.6V402.8H579.3Z"/>
<path fill="#FFC000" d="M579.3 402.8H582.6V406.4H579.3Z"/>
<path fill="#ED7D31" d="M579.3 406.4H582.6V423H579.3Z"/>
<path fill="#5B9BD5" d="M579.3 423H582.6V463H579.3Z"/>
<path fill="#255E91" d="M582.6 354H585.8V402.8H582.6Z"/>
<path fill="#FFC000" d="M582.6 402.8H585.8V425.8H582.6Z"/>
<path fill="#5B9BD5" d="M582.6 425.8H585.8V463H582.6Z"/>
<path fill="#997300" d="M585.8 354H589.1V363.1H585.8Z"/>
<path fill="#255E91" d="M585.8 363.1H589.1V413.8H585.8Z"/>
<path fill="#FFC000" d="M585.8 413.8H589.1V427.6H585.8Z"/>
<path fill="#5B9BD5" d="M585.8 427.6H589.1V463H585.8Z"/>
<path fill="#255E91" d="M589.1 354H592.2V393.9H589.1Z"/>
<path fill="#FFC000" d="M589.1 393.9H592.2V428.5H589.1Z"/>
<path fill="#5B9BD5" d="M589.1 428.5H592.2V463H589.1Z"/>
<path fill="#997300" d="M592.2 354H595.5V363.1H592.2Z"/>
<path fill="#255E91" d="M592.2 363.1H595.5V404.6H592.2Z"/>
<path fill="#FFC000" d="M592.2 404.6H595.5V429.5H592.2Z"/>
<path fill="#5B9BD5" d="M592.2 429.5H595.5V463H592.2Z"/>
<path fill="#255E91" d="M595.5 354H598.7V397.2H595.5Z"/>
<path fill="#4472C4" d="M595.5 397.2H598.7V429.5H595.5Z"/>
<path fill="#5B9BD5" d="M595.5 429.5H598.7V463H595.5Z"/>
<path fill="#255E91" d="M598.7 354H602V365.9H598.7Z"/>
<path fill="#FFC000" d="M598.7 365.9H602V432.2H598.7Z"/>
<path fill="#5B9BD5" d="M598.7 432.2H602V463H598.7Z"/>
<path fill="#255E91" d="M602 354H605.1V358.2H602Z"/>
<path fill="#FFC000" d="M602 358.2H605.1V435H602Z"/>
<path fill="#5B9BD5" d="M602 435H605.1V463H602Z"/>
<path fill="#255E91" d="M605.1 354H608.4V380.6H605.1Z"/>
<path fill="#FFC000" d="M605.1 380.6H608.4V436.8H605.1Z"/>
<path fill="#ED7D31" d="M605.1 436.8H608.4V439.2H605.1Z"/>
<path fill="#5B9BD5" d="M605.1 439.2H608.4V463H605.1Z"/>
<path fill="#636363" d="M608.4 354H611.6V398.1H608.4Z"/>
<path fill="#255E91" d="M608.4 398.1H611.6V407.9H608.4Z"/>
<path fill="#4472C4" d="M608.4 407.9H611.6V414.7H608.4Z"/>
<path fill="#FFC000" d="M608.4 414.7H611.6V439.6H608.4Z"/>
<path fill="#5B9BD5" d="M608.4 439.6H611.6V463H608.4Z"/>
<path fill="#255E91" d="M611.6 354H614.9V407.4H611.6Z"/>
<path fill="#FFC000" d="M611.6 407.4H614.9V441.4H611.6Z"/>
<path fill="#5B9BD5" d="M611.6 441.4H614.9V463H611.6Z"/>
<path fill="#255E91" d="M614.9 354H618V369.6H614.9Z"/>
<path fill="#FFC000" d="M614.9 369.6H618V441.8H614.9Z"/>
<path fill="#5B9BD5" d="M614.9 441.8H618V463H614.9Z"/>
<path fill="#255E91" d="M618 354H621.1V363.1H618Z"/>
<path fill="#FFC000" d="M618 363.1H621.1V442.4H618Z"/>
<path fill="#5B9BD5" d="M618 442.4H621.1V463H618Z"/>
<path fill="#264478" d="M621.1 354H624.3V428.5H621.1Z"/>
<path fill="#997300" d="M621.1 428.5H624.3V438.7H621.1Z"/>
<path fill="#ED7D31" d="M621.1 438.7H624.3V443.3H621.1Z"/>
<path fill="#5B9BD5" d="M621.1 443.3H624.3V463H621.1Z"/>
<path fill="#997300" d="M624.3 354H627.4V393.5H624.3Z"/>
<path fill="#255E91" d="M624.3 393.5H627.4V423H624.3Z"/>
<path fill="#FFC000" d="M624.3 423H627.4V447H624.3Z"/>
<path fill="#5B9BD5" d="M624.3 447H627.4V463H624.3Z"/>
<path fill="#255E91" d="M627.4 354H630.5V412H627.4Z"/>
<path fill="#FFC000" d="M627.4 412H630.5V447.9H627.4Z"/>
<path fill="#5B9BD5" d="M627.4 447.9H630.5V463H627.4Z"/>
<path fill="#997300" d="M630.5 354H633.7V365.9H630.5Z"/>
<path fill="#255E91" d="M630.5 365.9H633.7V417.5H630.5Z"/>
<path fill="#FFC000" d="M630.5 417.5H633.7V448.8H630.5Z"/>
<path fill="#5B9BD5" d="M630.5 448.8H633.7V463H630.5Z"/>
<path fill="#255E91" d="M633.7 354H637V396.3H633.7Z"/>
<path fill="#FFC000" d="M633.7 396.3H637V450.7H633.7Z"/>
<path fill="#5B9BD5" d="M633.7 450.7H637V463H633.7Z"/>
<path fill="#997300" d="M637 354H640.1V362.2H637Z"/>
<path fill="#FFC000" d="M637 362.2H640.1V371.4H637Z"/>
<path fill="#ED7D31" d="M637 371.4H640.1V452.5H637Z"/>
<path fill="#5B9BD5" d="M637 452.5H640.1V463H637Z"/>
<path fill="#255E91" d="M640.1 354H643.2V401.8H640.1Z"/>
<path fill="#FFC000" d="M640.1 401.8H643.2V457.1H640.1Z"/>
<path fill="#5B9BD5" d="M640.1 457.1H643.2V463H640.1Z"/>
<path fill="#997300" d="M643.2 354H646.4V369.6H643.2Z"/>
<path fill="#636363" d="M643.2 369.6H646.4V383.4H643.2Z"/>
<path fill="#9E480E" d="M643.2 383.4H646.4V395.4H643.2Z"/>
<path fill="#255E91" d="M643.2 395.4H646.4V400H643.2Z"/>
<path fill="#4472C4" d="M643.2 400H646.4V441.4H643.2Z"/>
<path fill="#FFC000" d="M643.2 441.4H646.4V463H643.2Z"/>
<path fill="#255E91" d="M646.4 354H649.5V387.1H646.4Z"/>
<path fill="#FFC000" d="M646.4 387.1H649.5V443.3H646.4Z"/>
<path fill="#ED7D31" d="M646.4 443.3H649.5V463H646.4Z"/>
<path fill="#997300" d="M649.5 354H652.6V370.5H649.5Z"/>
<path fill="#636363" d="M649.5 370.5H652.6V395.4H649.5Z"/>
<path fill="#4472C4" d="M649.5 395.4H652.6V453.4H649.5Z"/>
<path fill="#FFC000" d="M649.5 453.4H652.6V463H649.5Z"/>
<path fill="#264478" d="M652.6 354H655.8V365.9H652.6Z"/>
<path fill="#997300" d="M652.6 365.9H655.8V374.2H652.6Z"/>
<path fill="#4472C4" d="M652.6 374.2H655.8V378.8H652.6Z"/>
<path fill="#FFC000" d="M652.6 378.8H655.8V381.6H652.6Z"/>
<path fill="#A5A5A5" d="M652.6 381.6H655.8V411H652.6Z"/>
<path fill="#ED7D31" d="M652.6 411H655.8V463H652.6Z"/>
<path fill="#264478" d="M655.8 354H658.9V358.5H655.8Z"/>
<path fill="#636363" d="M655.8 358.5H658.9V413.8H655.8Z"/>
<path fill="#255E91" d="M655.8 413.8H658.9V438.7H655.8Z"/>
<path fill="#4472C4" d="M655.8 438.7H658.9V463H655.8Z"/>
<path fill="#255E91" d="M658.9 354H662.2V448.8H658.9Z"/>
<path fill="#4472C4" d="M658.9 448.8H662.2V453.4H658.9Z"/>
<path fill="#FFC000" d="M658.9 453.4H662.2V463H658.9Z"/>
<path fill="#997300" d="M662.2 354H665.4V415.6H662.2Z"/>
<path fill="#FFC000" d="M662.2 415.6H665.4V463H662.2Z"/>
<path fill="#255E91" d="M665.4 354H668.5V389.9H665.4Z"/>
<path fill="#FFC000" d="M665.4 389.9H668.5V392.6H665.4Z"/>
<path fill="#A5A5A5" d="M665.4 392.6H668.5V419.3H665.4Z"/>
<path fill="#ED7D31" d="M665.4 419.3H668.5V463H665.4Z"/>
<path fill="#997300" d="M668.5 354H671.6V401.8H668.5Z"/>
<path fill="#4472C4" d="M668.5 401.8H671.6V409.2H668.5Z"/>
<path fill="#ED7D31" d="M668.5 409.2H671.6V463H668.5Z"/>
<path fill="#997300" d="M671.6 354H674.8V463H671.6Z"/>
<path fill="#255E91" d="M674.8 354H677.9V400.9H674.8Z"/>
<path fill="#FFC000" d="M674.8 400.9H677.9V463H674.8Z"/>
<path fill="#9E480E" d="M677.9 354H681V360.4H677.9Z"/>
<path fill="#4472C4" d="M677.9 360.4H681V409.2H677.9Z"/>
<path fill="#ED7D31" d="M677.9 409.2H681V463H677.9Z"/>
<path fill="#255E91" d="M681 354H684.2V390.8H681Z"/>
<path fill="#636363" d="M681 390.8H684.2V422.1H681Z"/>
<path fill="#255E91" d="M681 422.1H684.2V435.9H681Z"/>
<path fill="#FFC000" d="M681 435.9H684.2V447.9H681Z"/>
<path fill="#A5A5A5" d="M681 447.9H684.2V453.4H681Z"/>
<path fill="#ED7D31" d="M681 453.4H684.2V463H681Z"/>
<path fill="#997300" d="M684.2 354H688.6V463H684.2Z"/>
<path fill="#255E91" d="M688.6 354H691.7V380.6H688.6Z"/>
<path fill="#FFC000" d="M688.6 380.6H691.7V382.1H688.6Z"/>
<path fill="#5B9BD5" d="M688.6 382.1H691.7V463H688.6Z"/>
<path fill="#255E91" d="M691.7 354H694.8V377H691.7Z"/>
<path fill="#4472C4" d="M691.7 377H694.8V398.1H691.7Z"/>
<path fill="#FFC000" d="M691.7 398.1H694.8V412H691.7Z"/>
<path fill="#5B9BD5" d="M691.7 412H694.8V463H691.7Z"/>
<path fill="#255E91" d="M694.8 354H698V377.9H694.8Z"/>
<path fill="#FFC000" d="M694.8 377.9H698V412H694.8Z"/>
<path fill="#5B9BD5" d="M694.8 412H698V463H694.8Z"/>
<path fill="#255E91" d="M698 354H701.1V417.5H698Z"/>
<path fill="#FFC000" d="M698 417.5H701.1V421.5H698Z"/>
<path fill="#5B9BD5" d="M698 421.5H701.1V463H698Z"/>
<path fill="#997300" d="M701.1 354H704.2V358.5H701.1Z"/>
<path fill="#255E91" d="M701.1 358.5H704.2V391.7H701.1Z"/>
<path fill="#FFC000" d="M701.1 391.7H704.2V405.5H701.1Z"/>
<path fill="#ED7D31" d="M701.1 405.5H704.2V423H701.1Z"/>
<path fill="#5B9BD5" d="M701.1 423H704.2V463H701.1Z"/>
<path fill="#997300" d="M704.2 354H707.4V393.5H704.2Z"/>
<path fill="#255E91" d="M704.2 393.5H707.4V401.8H704.2Z"/>
<path fill="#FFC000" d="M704.2 401.8H707.4V426.7H704.2Z"/>
<path fill="#5B9BD5" d="M704.2 426.7H707.4V463H704.2Z"/>
<path fill="#997300" d="M707.4 354H710.7V387.1H707.4Z"/>
<path fill="#FFC000" d="M707.4 387.1H710.7V437.8H707.4Z"/>
<path fill="#5B9BD5" d="M707.4 437.8H710.7V463H707.4Z"/>
<path fill="#255E91" d="M710.7 354H713.8V373.3H710.7Z"/>
<path fill="#FFC000" d="M710.7 373.3H713.8V392.6H710.7Z"/>
<path fill="#A5A5A5" d="M710.7 392.6H713.8V412.9H710.7Z"/>
<path fill="#ED7D31" d="M710.7 412.9H713.8V441.4H710.7Z"/>
<path fill="#5B9BD5" d="M710.7 441.4H713.8V463H710.7Z"/>
<path fill="#997300" d="M713.8 354H717V370.5H713.8Z"/>
<path fill="#4472C4" d="M713.8 370.5H717V409.2H713.8Z"/>
<path fill="#FFC000" d="M713.8 409.2H717V443.3H713.8Z"/>
<path fill="#ED7D31" d="M713.8 443.3H717V444.6H713.8Z"/>
<path fill="#5B9BD5" d="M713.8 444.6H717V463H713.8Z"/>
<path fill="#255E91" d="M717 354H720.1V410.1H717Z"/>
<path fill="#FFC000" d="M717 410.1H720.1V448.8H717Z"/>
<path fill="#5B9BD5" d="M717 448.8H720.1V463H717Z"/>
<path fill="#9E480E" d="M720.1 354H723.2V432.2H720.1Z"/>
<path fill="#255E91" d="M720.1 432.2H723.2V439.6H720.1Z"/>
<path fill="#FFC000" d="M720.1 439.6H723.2V449.7H720.1Z"/>
<path fill="#5B9BD5" d="M720.1 449.7H723.2V463H720.1Z"/>
<path fill="#997300" d="M723.2 354H726.4V382.5H723.2Z"/>
<path fill="#255E91" d="M723.2 382.5H726.4V436.8H723.2Z"/>
<path fill="#FFC000" d="M723.2 436.8H726.4V450.7H723.2Z"/>
<path fill="#ED7D31" d="M723.2 450.7H726.4V452.9H723.2Z"/>
<path fill="#5B9BD5" d="M723.2 452.9H726.4V463H723.2Z"/>
<path fill="#997300" d="M726.4 354H729.5V436.8H726.4Z"/>
<path fill="#255E91" d="M726.4 436.8H729.5V442.4H726.4Z"/>
<path fill="#70AD47" d="M726.4 442.4H729.5V447H726.4Z"/>
<path fill="#4472C4" d="M726.4 447H729.5V451.6H726.4Z"/>
<path fill="#FFC000" d="M726.4 451.6H729.5V454.3H726.4Z"/>
<path fill="#ED7D31" d="M726.4 454.3H729.5V458H726.4Z"/>
<path fill="#5B9BD5" d="M726.4 458H729.5V463H726.4Z"/>
<path fill="#264478" d="M729.5 354H732.6V362.2H729.5Z"/>
<path fill="#FFC000" d="M729.5 362.2H732.6V459H729.5Z"/>
<path fill="#ED7D31" d="M729.5 459H732.6V461.7H729.5Z"/>
<path fill="#5B9BD5" d="M729.5 461.7H732.6V463H729.5Z"/>
<path fill="#997300" d="M732.6 354H735.8V395.4H732.6Z"/>
<path fill="#255E91" d="M732.6 395.4H735.8V414.7H732.6Z"/>
<path fill="#ED7D31" d="M732.6 414.7H735.8V463H732.6Z"/>
<path fill="#264478" d="M735.8 354H738.9V367.7H735.8Z"/>
<path fill="#255E91" d="M735.8 367.7H738.9V402.8H735.8Z"/>
<path fill="#FFC000" d="M735.8 402.8H738.9V463H735.8Z"/>
<path fill="#997300" d="M738.9 354H742.2V394.5H738.9Z"/>
<path fill="#255E91" d="M738.9 394.5H742.2V408.3H738.9Z"/>
<path fill="#FFC000" d="M738.9 408.3H742.2V463H738.9Z"/>
<path fill="#255E91" d="M742.2 354H745.3V411H742.2Z"/>
<path fill="#4472C4" d="M742.2 411H745.3V421.5H742.2Z"/>
<path fill="#FFC000" d="M742.2 421.5H745.3V463H742.2Z"/>
<path fill="#255E91" d="M745.3 354H748.5V363.1H745.3Z"/>
<path fill="#FFC000" d="M745.3 363.1H748.5V463H745.3Z"/>
<path fill="#255E91" d="M748.5 354H751.6V424.9H748.5Z"/>
<path fill="#FFC000" d="M748.5 424.9H751.6V463H748.5Z"/>
<path fill="#255E91" d="M751.6 354H754.7V387.1H751.6Z"/>
<path fill="#70AD47" d="M751.6 387.1H754.7V404.6H751.6Z"/>
<path fill="#FFC000" d="M751.6 404.6H754.7V463H751.6Z"/>
<path fill="#255E91" d="M754.7 354H757.9V447.9H754.7Z"/>
<path fill="#FFC000" d="M754.7 447.9H757.9V463H754.7Z"/>
<path fill="#997300" d="M757.9 354H761V358.5H757.9Z"/>
<path fill="#255E91" d="M757.9 358.5H761V463H757.9Z"/>
<path fill="#636363" d="M761 354H764.1V359.4H761Z"/>
<path fill="#997300" d="M761 359.4H764.1V380.6H761Z"/>
<path fill="#636363" d="M761 380.6H764.1V393.5H761Z"/>
<path fill="#255E91" d="M761 393.5H764.1V400H761Z"/>
<path fill="#FFC000" d="M761 400H764.1V400.9H761Z"/>
<path fill="#A5A5A5" d="M761 400.9H764.1V424.9H761Z"/>
<path fill="#ED7D31" d="M761 424.9H764.1V463H761Z"/>
<path fill="#997300" d="M764.1 354H767.3V382.5H764.1Z"/>
<path fill="#255E91" d="M764.1 382.5H767.3V417.5H764.1Z"/>
<path fill="#FFC000" d="M764.1 417.5H767.3V463H764.1Z"/>
<path fill="#255E91" d="M767.3 354H770.4V431.3H767.3Z"/>
<path fill="#FFC000" d="M767.3 431.3H770.4V463H767.3Z"/>
<path fill="#997300" d="M770.4 354H773.7V438.7H770.4Z"/>
<path fill="#255E91" d="M770.4 438.7H773.7V447.9H770.4Z"/>
<path fill="#4472C4" d="M770.4 447.9H773.7V460.8H770.4Z"/>
<path fill="#FFC000" d="M770.4 460.8H773.7V463H770.4ZM773.7 354H776.8V361.3H773.7Z"/>
<path fill="#997300" d="M773.7 361.3H776.8V377H773.7Z"/>
<path fill="#255E91" d="M773.7 377H776.8V463H773.7ZM776.8 354H780V420.3H776.8Z"/>
<path fill="#9E480E" d="M776.8 420.3H780V425.8H776.8Z"/>
<path fill="#FFC000" d="M776.8 425.8H780V426.7H776.8Z"/>
<path fill="#4472C4" d="M776.8 426.7H780V463H776.8Z"/>
<path fill="#264478" d="M780 354H783.1V370.5H780Z"/>
<path fill="#636363" d="M780 370.5H783.1V401.8H780Z"/>
<path fill="#255E91" d="M780 401.8H783.1V408.3H780Z"/>
<path fill="#FFC000" d="M780 408.3H783.1V463H780Z"/>
<path fill="#9E480E" d="M783.1 354H786.2V432.2H783.1Z"/>
<path fill="#255E91" d="M783.1 432.2H786.2V463H783.1Z"/>
<path fill="#997300" d="M786.2 354H789.4V448.8H786.2Z"/>
<path fill="#636363" d="M786.2 448.8H789.4V457.1H786.2Z"/>
<path fill="#255E91" d="M786.2 457.1H789.4V463H786.2Z"/>
<path fill="#997300" d="M789.4 354H792.5V463H789.4Z"/>
<path fill="#9E480E" d="M792.5 354H795.6V463H792.5ZM795.6 354H798.8V357.6H795.6Z"/>
<path fill="#997300" d="M795.6 357.6H798.8V463H795.6Z"/>
<path fill="#264478" d="M798.8 354H801.9V360.4H798.8Z"/>
<path fill="#636363" d="M798.8 360.4H801.9V463H798.8Z"/>
<path fill="#997300" d="M801.9 354H805.2V399.1H801.9Z"/>
<path fill="#9E480E" d="M801.9 399.1H805.2V463H801.9Z"/>
<path fill="#264478" d="M805.2 354H808.4V463H805.2Z"/>
<path fill="#997300" d="M808.4 354H814.6V463H808.4Z"/>
<path fill="#264478" d="M814.6 354H817.7V373.3H814.6Z"/>
<path fill="#255E91" d="M814.6 373.3H817.7V463H814.6Z"/>
<path fill="#636363" d="M817.7 354H820.9V430.4H817.7Z"/>
<path fill="#255E91" d="M817.7 430.4H820.9V463H817.7Z"/>
<path fill="#997300" d="M820.9 354H824V358.5H820.9Z"/>
<path fill="#255E91" d="M820.9 358.5H824V463H820.9ZM824 354H827.1V402.8H824Z"/>
<path fill="#997300" d="M824 402.8H827.1V407.4H824Z"/>
<path fill="#9E480E" d="M824 407.4H827.1V463H824Z"/>
<path fill="#997300" d="M827.1 354H830.3V427.6H827.1Z"/>
<path fill="#636363" d="M827.1 427.6H830.3V463H827.1Z"/>
<path fill="#255E91" d="M830.3 354H833.4V463H830.3Z"/>
<path fill="#997300" d="M833.4 354H836.7V447H833.4Z"/>
<path fill="#255E91" d="M833.4 447H836.7V463H833.4Z"/>
<path fill="#997300" d="M836.7 354H839.9V463H836.7Z"/>
<path fill="#255E91" d="M839.9 354H843V463H839.9ZM843 354H846.1V404.6H843Z"/>
<path fill="#4472C4" d="M843 404.6H846.1V463H843Z"/>
<path fill="#9E480E" d="M846.1 354H852.4V463H846.1Z"/>
<path fill="#997300" d="M852.4 354H857.4V463H852.4Z"/>
<path fill="#264478" d="M509.2 354H857.4V354.8H509.2Z"/></g>
<!-- b2_t2.txt -->
<g shape-rendering="crispEdges"><path fill="#255E91" d="M688.6 354H691.8V380.6H688.6Z"/>
<path fill="#FFC000" d="M688.6 380.6H691.8V382H688.6Z"/>
<path fill="#5B9BD5" d="M688.6 382H691.8V408H688.6Z"/>
<path fill="#255E91" d="M691.8 354H694.9V377.4H691.8Z"/>
<path fill="#4472C4" d="M691.8 377.4H694.9V398.1H691.8Z"/>
<path fill="#FFC000" d="M691.8 398.1H694.9V408H691.8Z"/>
<path fill="#255E91" d="M694.9 354H698.1V377.9H694.9Z"/>
<path fill="#FFC000" d="M694.9 377.9H698.1V408H694.9Z"/>
<path fill="#255E91" d="M698.1 354H701.3V408H698.1Z"/>
<path fill="#264478" d="M701.3 354H704.5V359H701.3Z"/>
<path fill="#997300" d="M701.3 359H704.5V372.3H701.3Z"/>
<path fill="#255E91" d="M701.3 372.3H704.5V391.2H701.3Z"/>
<path fill="#FFC000" d="M701.3 391.2H704.5V406H701.3Z"/>
<path fill="#ED7D31" d="M701.3 406H704.5V408H701.3Z"/>
<path fill="#264478" d="M704.5 354H707.7V360.8H704.5Z"/>
<path fill="#997300" d="M704.5 360.8H707.7V394H704.5Z"/>
<path fill="#255E91" d="M704.5 394H707.7V401.8H704.5Z"/>
<path fill="#FFC000" d="M704.5 401.8H707.7V408H704.5Z"/>
<path fill="#264478" d="M707.7 354H710.8V372.3H707.7Z"/>
<path fill="#997300" d="M707.7 372.3H710.8V385.7H707.7Z"/>
<path fill="#255E91" d="M707.7 385.7H710.8V387.1H707.7Z"/>
<path fill="#FFC000" d="M707.7 387.1H710.8V408H707.7Z"/>
<path fill="#997300" d="M710.8 354H714V374.6H710.8Z"/>
<path fill="#FFC000" d="M710.8 374.6H714V393.1H710.8Z"/>
<path fill="#A5A5A5" d="M710.8 393.1H714V408H710.8Z"/>
<path fill="#997300" d="M714 354H717.2V371.2H714Z"/>
<path fill="#4472C4" d="M714 371.2H717.2V408H714Z"/>
<path fill="#264478" d="M717.2 354H720.4V356.7H717.2Z"/>
<path fill="#997300" d="M717.2 356.7H720.4V382.9H717.2Z"/>
<path fill="#255E91" d="M717.2 382.9H720.4V408H717.2Z"/>
<path fill="#264478" d="M720.4 354H723.6V354.8H720.4Z"/>
<path fill="#9E480E" d="M720.4 354.8H723.6V408H720.4Z"/>
<path fill="#997300" d="M723.6 354H726.8V382.9H723.6Z"/>
<path fill="#255E91" d="M723.6 382.9H726.8V408H723.6Z"/>
<path fill="#997300" d="M726.8 354H730V408H726.8Z"/>
<path fill="#264478" d="M730 354H733.1V361.3H730Z"/>
<path fill="#636363" d="M730 361.3H733.1V363.3H730Z"/>
<path fill="#FFC000" d="M730 363.3H733.1V408H730Z"/>
<path fill="#997300" d="M733.1 354H736.3V395.8H733.1Z"/>
<path fill="#255E91" d="M733.1 395.8H736.3V402.7H733.1Z"/>
<path fill="#FFC000" d="M733.1 402.7H736.3V408H733.1Z"/>
<path fill="#264478" d="M736.3 354H739.5V368.7H736.3Z"/>
<path fill="#255E91" d="M736.3 368.7H739.5V403.2H736.3Z"/>
<path fill="#FFC000" d="M736.3 403.2H739.5V408H736.3Z"/>
<path fill="#997300" d="M739.5 354H742.7V394.9H739.5Z"/>
<path fill="#255E91" d="M739.5 394.9H742.7V408H739.5Z"/>
<path fill="#997300" d="M742.7 354H745.9V372.3H742.7Z"/>
<path fill="#255E91" d="M742.7 372.3H745.9V408H742.7Z"/>
<path fill="#997300" d="M745.9 354H749V357.6H745.9Z"/>
<path fill="#255E91" d="M745.9 357.6H749V363.1H745.9Z"/>
<path fill="#FFC000" d="M745.9 363.1H749V408H745.9Z"/>
<path fill="#255E91" d="M749 354H752.2V408H749ZM752.2 354H755.4V387.1H752.2Z"/>
<path fill="#70AD47" d="M752.2 387.1H755.4V405H752.2Z"/>
<path fill="#FFC000" d="M752.2 405H755.4V408H752.2Z"/>
<path fill="#255E91" d="M755.4 354H758.6V408H755.4Z"/>
<path fill="#264478" d="M758.6 354H761.8V356.2H758.6Z"/>
<path fill="#636363" d="M758.6 356.2H761.8V359.4H758.6Z"/>
<path fill="#255E91" d="M758.6 359.4H761.8V408H758.6Z"/>
<path fill="#997300" d="M761.8 354H765V380.6H761.8Z"/>
<path fill="#636363" d="M761.8 380.6H765V394H761.8Z"/>
<path fill="#255E91" d="M761.8 394H765V400H761.8Z"/>
<path fill="#FFC000" d="M761.8 400H765V401.4H761.8Z"/>
<path fill="#A5A5A5" d="M761.8 401.4H765V408H761.8Z"/>
<path fill="#264478" d="M765 354H768.2V376.9H765Z"/>
<path fill="#997300" d="M765 376.9H768.2V387.1H765Z"/>
<path fill="#255E91" d="M765 387.1H768.2V408H765Z"/>
<path fill="#264478" d="M768.2 354H771.3V356.7H768.2Z"/>
<path fill="#997300" d="M768.2 356.7H771.3V382.9H768.2Z"/>
<path fill="#255E91" d="M768.2 382.9H771.3V408H768.2Z"/>
<path fill="#997300" d="M771.3 354H774.5V408H771.3Z"/>
<path fill="#255E91" d="M774.5 354H777.7V360.8H774.5Z"/>
<path fill="#FFC000" d="M774.5 360.8H777.7V408H774.5Z"/>
<path fill="#264478" d="M777.7 354H780.9V408H777.7Z"/>
<path fill="#997300" d="M780.9 354H784.1V371H780.9Z"/>
<path fill="#636363" d="M780.9 371H784.1V401.8H780.9Z"/>
<path fill="#255E91" d="M780.9 401.8H784.1V408H780.9Z"/>
<path fill="#9E480E" d="M784.1 354H787.3V408H784.1Z"/>
<path fill="#264478" d="M787.3 354H790.4V357.6H787.3Z"/>
<path fill="#997300" d="M787.3 357.6H790.4V408H787.3Z"/>
<path fill="#264478" d="M790.4 354H793.6V358.5H790.4Z"/>
<path fill="#997300" d="M790.4 358.5H793.6V408H790.4Z"/>
<path fill="#9E480E" d="M793.6 354H796.8V408H793.6Z"/>
<path fill="#997300" d="M796.8 354H800V408H796.8Z"/>
<path fill="#264478" d="M800 354H803.2V359.9H800Z"/>
<path fill="#636363" d="M800 359.9H803.2V408H800Z"/>
<path fill="#997300" d="M803.2 354H806.4V399.1H803.2Z"/>
<path fill="#9E480E" d="M803.2 399.1H806.4V408H803.2Z"/>
<path fill="#264478" d="M806.4 354H809.5V408H806.4Z"/>
<path fill="#997300" d="M809.5 354H812.7V408H809.5ZM812.7 354H815.9V408H812.7Z"/>
<path fill="#264478" d="M815.9 354H819.1V374.2H815.9Z"/>
<path fill="#255E91" d="M815.9 374.2H819.1V408H815.9Z"/>
<path fill="#636363" d="M819.1 354H822.3V408H819.1Z"/>
<path fill="#997300" d="M822.3 354H825.5V408H822.3Z"/>
<path fill="#264478" d="M825.5 354H828.6V402.7H825.5Z"/>
<path fill="#997300" d="M825.5 402.7H828.6V408H825.5ZM828.6 354H831.8V408H828.6Z"/>
<path fill="#636363" d="M831.8 354H835V356.7H831.8Z"/>
<path fill="#255E91" d="M831.8 356.7H835V408H831.8Z"/>
<path fill="#997300" d="M835 354H838.2V408H835Z"/>
<path fill="#264478" d="M838.2 354H841.4V356.7H838.2Z"/>
<path fill="#997300" d="M838.2 356.7H841.4V408H838.2Z"/>
<path fill="#255E91" d="M841.4 354H844.6V408H841.4Z"/>
<path fill="#264478" d="M844.6 354H847.7V358.1H844.6Z"/>
<path fill="#255E91" d="M844.6 358.1H847.7V405H844.6Z"/>
<path fill="#4472C4" d="M844.6 405H847.7V408H844.6Z"/>
<path fill="#9E480E" d="M847.7 354H850.9V408H847.7Z"/>
<path fill="#264478" d="M850.9 354H854.1V356.7H850.9Z"/>
<path fill="#997300" d="M850.9 356.7H854.1V365.9H850.9Z"/>
<path fill="#9E480E" d="M850.9 365.9H854.1V408H850.9Z"/>
<path fill="#997300" d="M854.1 354H857.4V408H854.1Z"/>
<path fill="#264478" d="M688.6 354H857.4V354.5H688.6Z"/>
<path fill="#5B9BD5" d="M688.6 408H691.8V463H688.6Z"/>
<path fill="#FFC000" d="M691.8 408H694.9V411.7H691.8Z"/>
<path fill="#5B9BD5" d="M691.8 411.7H694.9V463H691.8Z"/>
<path fill="#FFC000" d="M694.9 408H698.1V411.7H694.9Z"/>
<path fill="#5B9BD5" d="M694.9 411.7H698.1V463H694.9Z"/>
<path fill="#255E91" d="M698.1 408H701.3V417.9H698.1Z"/>
<path fill="#FFC000" d="M698.1 417.9H701.3V421.2H698.1Z"/>
<path fill="#5B9BD5" d="M698.1 421.2H701.3V463H698.1Z"/>
<path fill="#ED7D31" d="M701.3 408H704.5V422.7H701.3Z"/>
<path fill="#5B9BD5" d="M701.3 422.7H704.5V463H701.3Z"/>
<path fill="#FFC000" d="M704.5 408H707.7V426.9H704.5Z"/>
<path fill="#5B9BD5" d="M704.5 426.9H707.7V463H704.5Z"/>
<path fill="#FFC000" d="M707.7 408H710.8V438.9H707.7Z"/>
<path fill="#5B9BD5" d="M707.7 438.9H710.8V463H707.7Z"/>
<path fill="#A5A5A5" d="M710.8 408H714V412.6H710.8Z"/>
<path fill="#ED7D31" d="M710.8 412.6H714V440.7H710.8Z"/>
<path fill="#5B9BD5" d="M710.8 440.7H714V463H710.8Z"/>
<path fill="#4472C4" d="M714 408H717.2V443.7H714Z"/>
<path fill="#FFC000" d="M714 443.7H717.2V445.3H714Z"/>
<path fill="#5B9BD5" d="M714 445.3H717.2V463H714Z"/>
<path fill="#255E91" d="M717.2 408H720.4V409.4H717.2Z"/>
<path fill="#FFC000" d="M717.2 409.4H720.4V449H717.2Z"/>
<path fill="#5B9BD5" d="M717.2 449H720.4V463H717.2Z"/>
<path fill="#9E480E" d="M720.4 408H723.6V432.4H720.4Z"/>
<path fill="#255E91" d="M720.4 432.4H723.6V439.8H720.4Z"/>
<path fill="#FFC000" d="M720.4 439.8H723.6V449.9H720.4Z"/>
<path fill="#5B9BD5" d="M720.4 449.9H723.6V463H720.4Z"/>
<path fill="#255E91" d="M723.6 408H726.8V437H723.6Z"/>
<path fill="#FFC000" d="M723.6 437H726.8V450.4H723.6Z"/>
<path fill="#ED7D31" d="M723.6 450.4H726.8V452.9H723.6Z"/>
<path fill="#5B9BD5" d="M723.6 452.9H726.8V463H723.6Z"/>
<path fill="#997300" d="M726.8 408H730V437H726.8Z"/>
<path fill="#255E91" d="M726.8 437H730V443H726.8Z"/>
<path fill="#70AD47" d="M726.8 443H730V447.1H726.8Z"/>
<path fill="#4472C4" d="M726.8 447.1H730V452H726.8Z"/>
<path fill="#FFC000" d="M726.8 452H730V455H726.8Z"/>
<path fill="#ED7D31" d="M726.8 455H730V457.7H726.8Z"/>
<path fill="#5B9BD5" d="M726.8 457.7H730V463H726.8Z"/>
<path fill="#FFC000" d="M730 408H733.1V457.7H730Z"/>
<path fill="#ED7D31" d="M730 457.7H733.1V458.7H730Z"/>
<path fill="#5B9BD5" d="M730 458.7H733.1V463H730Z"/>
<path fill="#FFC000" d="M733.1 408H736.3V414.9H733.1Z"/>
<path fill="#ED7D31" d="M733.1 414.9H736.3V463H733.1Z"/>
<path fill="#FFC000" d="M736.3 408H739.5V463H736.3Z"/>
<path fill="#255E91" d="M739.5 408H742.7V408.9H739.5Z"/>
<path fill="#FFC000" d="M739.5 408.9H742.7V463H739.5Z"/>
<path fill="#255E91" d="M742.7 408H745.9V410.8H742.7Z"/>
<path fill="#4472C4" d="M742.7 410.8H745.9V421.8H742.7Z"/>
<path fill="#FFC000" d="M742.7 421.8H745.9V463H742.7ZM745.9 408H749V463H745.9Z"/>
<path fill="#255E91" d="M749 408H752.2V424.6H749Z"/>
<path fill="#FFC000" d="M749 424.6H752.2V463H749ZM752.2 408H755.4V463H752.2Z"/>
<path fill="#255E91" d="M755.4 408H758.6V448.1H755.4Z"/>
<path fill="#FFC000" d="M755.4 448.1H758.6V463H755.4Z"/>
<path fill="#255E91" d="M758.6 408H761.8V463H758.6Z"/>
<path fill="#A5A5A5" d="M761.8 408H765V424.6H761.8Z"/>
<path fill="#ED7D31" d="M761.8 424.6H765V463H761.8Z"/>
<path fill="#255E91" d="M765 408H768.2V417.9H765Z"/>
<path fill="#FFC000" d="M765 417.9H768.2V455H765Z"/>
<path fill="#ED7D31" d="M765 455H768.2V463H765Z"/>
<path fill="#255E91" d="M768.2 408H771.3V430.8H768.2Z"/>
<path fill="#FFC000" d="M768.2 430.8H771.3V463H768.2Z"/>
<path fill="#997300" d="M771.3 408H774.5V438.9H771.3Z"/>
<path fill="#255E91" d="M771.3 438.9H774.5V447.6H771.3Z"/>
<path fill="#4472C4" d="M771.3 447.6H774.5V461.2H771.3Z"/>
<path fill="#FFC000" d="M771.3 461.2H774.5V463H771.3ZM774.5 408H777.7V463H774.5Z"/>
<path fill="#264478" d="M777.7 408H780.9V419.8H777.7Z"/>
<path fill="#997300" d="M777.7 419.8H780.9V422.7H777.7Z"/>
<path fill="#9E480E" d="M777.7 422.7H780.9V426H777.7Z"/>
<path fill="#255E91" d="M777.7 426H780.9V427.3H777.7Z"/>
<path fill="#4472C4" d="M777.7 427.3H780.9V463H777.7Z"/>
<path fill="#255E91" d="M780.9 408H784.1V408.9H780.9Z"/>
<path fill="#FFC000" d="M780.9 408.9H784.1V463H780.9Z"/>
<path fill="#9E480E" d="M784.1 408H787.3V432.4H784.1Z"/>
<path fill="#255E91" d="M784.1 432.4H787.3V463H784.1Z"/>
<path fill="#997300" d="M787.3 408H790.4V449.9H787.3Z"/>
<path fill="#636363" d="M787.3 449.9H790.4V456.8H787.3Z"/>
<path fill="#255E91" d="M787.3 456.8H790.4V463H787.3Z"/>
<path fill="#997300" d="M790.4 408H793.6V463H790.4Z"/>
<path fill="#9E480E" d="M793.6 408H796.8V463H793.6Z"/>
<path fill="#997300" d="M796.8 408H800V463H796.8Z"/>
<path fill="#636363" d="M800 408H803.2V463H800Z"/>
<path fill="#9E480E" d="M803.2 408H806.4V463H803.2Z"/>
<path fill="#264478" d="M806.4 408H809.5V463H806.4Z"/>
<path fill="#997300" d="M809.5 408H812.7V463H809.5ZM812.7 408H815.9V463H812.7Z"/>
<path fill="#255E91" d="M815.9 408H819.1V463H815.9Z"/>
<path fill="#636363" d="M819.1 408H822.3V431H819.1Z"/>
<path fill="#255E91" d="M819.1 431H822.3V463H819.1Z"/>
<path fill="#997300" d="M822.3 408H825.5V463H822.3Z"/>
<path fill="#9E480E" d="M825.5 408H828.6V463H825.5Z"/>
<path fill="#997300" d="M828.6 408H831.8V427.8H828.6Z"/>
<path fill="#636363" d="M828.6 427.8H831.8V463H828.6Z"/>
<path fill="#255E91" d="M831.8 408H835V463H831.8Z"/>
<path fill="#997300" d="M835 408H838.2V446.7H835Z"/>
<path fill="#255E91" d="M835 446.7H838.2V463H835Z"/>
<path fill="#997300" d="M838.2 408H841.4V463H838.2Z"/>
<path fill="#255E91" d="M841.4 408H844.6V463H841.4Z"/>
<path fill="#4472C4" d="M844.6 408H847.7V463H844.6Z"/>
<path fill="#9E480E" d="M847.7 408H850.9V463H847.7ZM850.9 408H854.1V463H850.9Z"/>
<path fill="#997300" d="M854.1 408H857.4V463H854.1Z"/></g>
<!-- b2_u.txt -->
<g shape-rendering="crispEdges"><path fill="#5B9BD5" d="M509.2 463H857.4V575H509.2Z"/>
<path fill="#ED7D31" d="M646.4 463H649.5V463.9H646.4Z"/>
<path fill="#5B9BD5" d="M646.4 463.9H649.5V575H646.4Z"/>
<path fill="#FFC000" d="M649.5 463H652.6V465.8H649.5Z"/>
<path fill="#5B9BD5" d="M649.5 465.8H652.6V575H649.5Z"/>
<path fill="#ED7D31" d="M652.6 463H655.8V467.6H652.6Z"/>
<path fill="#5B9BD5" d="M652.6 467.6H655.8V575H652.6Z"/>
<path fill="#FFC000" d="M655.8 463H658.9V468.2H655.8Z"/>
<path fill="#5B9BD5" d="M655.8 468.2H658.9V575H655.8Z"/>
<path fill="#FFC000" d="M658.9 463H662.2V468.9H658.9Z"/>
<path fill="#5B9BD5" d="M658.9 468.9H662.2V575H658.9Z"/>
<path fill="#FFC000" d="M662.2 463H665.4V477.7H662.2Z"/>
<path fill="#5B9BD5" d="M662.2 477.7H665.4V575H662.2Z"/>
<path fill="#ED7D31" d="M665.4 463H668.5V480.5H665.4Z"/>
<path fill="#5B9BD5" d="M665.4 480.5H668.5V575H665.4Z"/>
<path fill="#ED7D31" d="M668.5 463H671.6V481.4H668.5Z"/>
<path fill="#5B9BD5" d="M668.5 481.4H671.6V575H668.5Z"/>
<path fill="#997300" d="M671.6 463H674.8V466.7H671.6Z"/>
<path fill="#4472C4" d="M671.6 466.7H674.8V479.6H671.6Z"/>
<path fill="#FFC000" d="M671.6 479.6H674.8V483.3H671.6Z"/>
<path fill="#5B9BD5" d="M671.6 483.3H674.8V575H671.6Z"/>
<path fill="#FFC000" d="M674.8 463H677.9V475.9H674.8Z"/>
<path fill="#ED7D31" d="M674.8 475.9H677.9V486H674.8Z"/>
<path fill="#5B9BD5" d="M674.8 486H677.9V575H674.8Z"/>
<path fill="#ED7D31" d="M677.9 463H681V503.9H677.9Z"/>
<path fill="#5B9BD5" d="M677.9 503.9H681V575H677.9Z"/>
<path fill="#ED7D31" d="M681 463H684.2V506.9H681Z"/>
<path fill="#5B9BD5" d="M681 506.9H684.2V575H681Z"/>
<path fill="#997300" d="M684.2 463H688.6V533.9H684.2Z"/>
<path fill="#4472C4" d="M684.2 533.9H688.6V534.9H684.2Z"/>
<path fill="#FFC000" d="M684.2 534.9H688.6V536.7H684.2Z"/>
<path fill="#5B9BD5" d="M684.2 536.7H688.6V575H684.2Z"/>
<path fill="#ED7D31" d="M732.6 463H735.8V464.5H732.6Z"/>
<path fill="#5B9BD5" d="M732.6 464.5H735.8V575H732.6Z"/>
<path fill="#FFC000" d="M735.8 463H738.9V466.3H735.8Z"/>
<path fill="#5B9BD5" d="M735.8 466.3H738.9V575H735.8Z"/>
<path fill="#FFC000" d="M738.9 463H742.2V467.1H738.9Z"/>
<path fill="#5B9BD5" d="M738.9 467.1H742.2V575H738.9Z"/>
<path fill="#FFC000" d="M742.2 463H745.3V468.2H742.2Z"/>
<path fill="#5B9BD5" d="M742.2 468.2H745.3V575H742.2Z"/>
<path fill="#FFC000" d="M745.3 463H748.5V478.7H745.3Z"/>
<path fill="#5B9BD5" d="M745.3 478.7H748.5V575H745.3Z"/>
<path fill="#FFC000" d="M748.5 463H751.6V479.6H748.5Z"/>
<path fill="#5B9BD5" d="M748.5 479.6H751.6V575H748.5Z"/>
<path fill="#FFC000" d="M751.6 463H754.7V482.3H751.6Z"/>
<path fill="#5B9BD5" d="M751.6 482.3H754.7V575H751.6Z"/>
<path fill="#FFC000" d="M754.7 463H757.9V488.8H754.7Z"/>
<path fill="#ED7D31" d="M754.7 488.8H757.9V495.2H754.7Z"/>
<path fill="#5B9BD5" d="M754.7 495.2H757.9V575H754.7Z"/>
<path fill="#255E91" d="M757.9 463H761V495.2H757.9Z"/>
<path fill="#4472C4" d="M757.9 495.2H761V497.1H757.9Z"/>
<path fill="#FFC000" d="M757.9 497.1H761V501.7H757.9Z"/>
<path fill="#5B9BD5" d="M757.9 501.7H761V575H757.9Z"/>
<path fill="#ED7D31" d="M761 463H764.1V502.1H761Z"/>
<path fill="#5B9BD5" d="M761 502.1H764.1V575H761Z"/>
<path fill="#ED7D31" d="M764.1 463H767.3V503.2H764.1Z"/>
<path fill="#5B9BD5" d="M764.1 503.2H767.3V575H764.1Z"/>
<path fill="#FFC000" d="M767.3 463H770.4V494.3H767.3Z"/>
<path fill="#ED7D31" d="M767.3 494.3H770.4V503.2H767.3Z"/>
<path fill="#5B9BD5" d="M767.3 503.2H770.4V575H767.3Z"/>
<path fill="#FFC000" d="M770.4 463H773.7V512.8H770.4Z"/>
<path fill="#5B9BD5" d="M770.4 512.8H773.7V575H770.4Z"/>
<path fill="#FFC000" d="M773.7 463H776.8V513.7H773.7Z"/>
<path fill="#5B9BD5" d="M773.7 513.7H776.8V575H773.7Z"/>
<path fill="#4472C4" d="M776.8 463H780V506.3H776.8Z"/>
<path fill="#FFC000" d="M776.8 506.3H780V514.2H776.8Z"/>
<path fill="#5B9BD5" d="M776.8 514.2H780V575H776.8Z"/>
<path fill="#FFC000" d="M780 463H783.1V473.1H780Z"/>
<path fill="#A5A5A5" d="M780 473.1H783.1V481.4H780Z"/>
<path fill="#ED7D31" d="M780 481.4H783.1V514.6H780Z"/>
<path fill="#5B9BD5" d="M780 514.6H783.1V575H780Z"/>
<path fill="#255E91" d="M783.1 463H786.2V498.9H783.1Z"/>
<path fill="#FFC000" d="M783.1 498.9H786.2V575H783.1Z"/>
<path fill="#255E91" d="M786.2 463H789.4V529.3H786.2Z"/>
<path fill="#4472C4" d="M786.2 529.3H789.4V544.1H786.2Z"/>
<path fill="#FFC000" d="M786.2 544.1H789.4V550.5H786.2Z"/>
<path fill="#ED7D31" d="M786.2 550.5H789.4V575H786.2Z"/>
<path fill="#997300" d="M789.4 463H792.5V468.5H789.4Z"/>
<path fill="#255E91" d="M789.4 468.5H792.5V479.6H789.4Z"/>
<path fill="#FFC000" d="M789.4 479.6H792.5V510H789.4Z"/>
<path fill="#A5A5A5" d="M789.4 510H792.5V524.7H789.4Z"/>
<path fill="#ED7D31" d="M789.4 524.7H792.5V575H789.4Z"/>
<path fill="#9E480E" d="M792.5 463H795.6V541.3H792.5Z"/>
<path fill="#4472C4" d="M792.5 541.3H795.6V545H792.5Z"/>
<path fill="#FFC000" d="M792.5 545H795.6V575H792.5Z"/>
<path fill="#255E91" d="M795.6 463H798.8V482.3H795.6Z"/>
<path fill="#FFC000" d="M795.6 482.3H798.8V498H795.6Z"/>
<path fill="#ED7D31" d="M795.6 498H798.8V575H795.6Z"/>
<path fill="#636363" d="M798.8 463H801.9V472.2H798.8Z"/>
<path fill="#9E480E" d="M798.8 472.2H801.9V487H798.8Z"/>
<path fill="#255E91" d="M798.8 487H801.9V501.7H798.8Z"/>
<path fill="#4472C4" d="M798.8 501.7H801.9V547.8H798.8Z"/>
<path fill="#FFC000" d="M798.8 547.8H801.9V575H798.8Z"/>
<path fill="#9E480E" d="M801.9 463H805.2V482.3H801.9Z"/>
<path fill="#ED7D31" d="M801.9 482.3H805.2V575H801.9Z"/>
<path fill="#264478" d="M805.2 463H808.4V500.8H805.2Z"/>
<path fill="#9E480E" d="M805.2 500.8H808.4V531.2H805.2Z"/>
<path fill="#4472C4" d="M805.2 531.2H808.4V575H805.2Z"/>
<path fill="#997300" d="M808.4 463H811.5V512.8H808.4Z"/>
<path fill="#9E480E" d="M808.4 512.8H811.5V528.4H808.4Z"/>
<path fill="#4472C4" d="M808.4 528.4H811.5V575H808.4Z"/>
<path fill="#997300" d="M811.5 463H814.6V528.4H811.5Z"/>
<path fill="#636363" d="M811.5 528.4H814.6V546.8H811.5Z"/>
<path fill="#9E480E" d="M811.5 546.8H814.6V567.1H811.5Z"/>
<path fill="#4472C4" d="M811.5 567.1H814.6V569H811.5Z"/>
<path fill="#FFC000" d="M811.5 569H814.6V575H811.5Z"/>
<path fill="#255E91" d="M814.6 463H817.7V553.3H814.6Z"/>
<path fill="#FFC000" d="M814.6 553.3H817.7V575H814.6Z"/>
<path fill="#255E91" d="M817.7 463H820.9V502.6H817.7Z"/>
<path fill="#4472C4" d="M817.7 502.6H820.9V571.7H817.7Z"/>
<path fill="#FFC000" d="M817.7 571.7H820.9V575H817.7Z"/>
<path fill="#255E91" d="M820.9 463H824V568H820.9Z"/>
<path fill="#70AD47" d="M820.9 568H824V569H820.9Z"/>
<path fill="#4472C4" d="M820.9 569H824V570.8H820.9Z"/>
<path fill="#FFC000" d="M820.9 570.8H824V575H820.9Z"/>
<path fill="#997300" d="M824 463H827.1V471.3H824Z"/>
<path fill="#9E480E" d="M824 471.3H827.1V475H824Z"/>
<path fill="#FFC000" d="M824 475H827.1V575H824Z"/>
<path fill="#255E91" d="M827.1 463H830.3V498.9H827.1Z"/>
<path fill="#4472C4" d="M827.1 498.9H830.3V550.5H827.1Z"/>
<path fill="#FFC000" d="M827.1 550.5H830.3V575H827.1Z"/>
<path fill="#255E91" d="M830.3 463H833.4V509.1H830.3Z"/>
<path fill="#FFC000" d="M830.3 509.1H833.4V575H830.3Z"/>
<path fill="#255E91" d="M833.4 463H836.7V562.5H833.4Z"/>
<path fill="#FFC000" d="M833.4 562.5H836.7V575H833.4Z"/>
<path fill="#997300" d="M836.7 463H839.9V497.1H836.7Z"/>
<path fill="#255E91" d="M836.7 497.1H839.9V542.2H836.7Z"/>
<path fill="#4472C4" d="M836.7 542.2H839.9V568H836.7Z"/>
<path fill="#FFC000" d="M836.7 568H839.9V575H836.7Z"/>
<path fill="#255E91" d="M839.9 463H843V550.5H839.9Z"/>
<path fill="#4472C4" d="M839.9 550.5H843V563.4H839.9Z"/>
<path fill="#FFC000" d="M839.9 563.4H843V575H839.9Z"/>
<path fill="#4472C4" d="M843 463H846.1V501.7H843Z"/>
<path fill="#FFC000" d="M843 501.7H846.1V575H843Z"/>
<path fill="#9E480E" d="M846.1 463H849.3V473.1H846.1Z"/>
<path fill="#255E91" d="M846.1 473.1H849.3V494.3H846.1Z"/>
<path fill="#4472C4" d="M846.1 494.3H849.3V557H846.1Z"/>
<path fill="#FFC000" d="M846.1 557H849.3V575H846.1Z"/>
<path fill="#9E480E" d="M849.3 463H852.4V543.2H849.3Z"/>
<path fill="#255E91" d="M849.3 543.2H852.4V545.9H849.3Z"/>
<path fill="#4472C4" d="M849.3 545.9H852.4V553.3H849.3Z"/>
<path fill="#FFC000" d="M849.3 553.3H852.4V575H849.3Z"/>
<path fill="#997300" d="M852.4 463H855.5V476.8H852.4Z"/>
<path fill="#FFC000" d="M852.4 476.8H855.5V480.5H852.4Z"/>
<path fill="#ED7D31" d="M852.4 480.5H855.5V575H852.4ZM855.5 463H857.4V575H855.5Z"/></g>
<!-- b3_t.txt -->
<g shape-rendering="crispEdges"><path fill="#255E91" d="M966.6 354.8H1317.2V463H966.6Z"/>
<path fill="#264478" d="M966.6 354.8H1317.2V355.6H966.6ZM966.6 354.8H969.7V356.7H966.6Z"/>
<path fill="#255E91" d="M966.6 356.7H969.7V362.2H966.6Z"/>
<path fill="#FFC000" d="M966.6 362.2H969.7V364.1H966.6Z"/>
<path fill="#5B9BD5" d="M966.6 364.1H969.7V463H966.6Z"/>
<path fill="#255E91" d="M969.7 354.8H972.8V365.5H969.7Z"/>
<path fill="#5B9BD5" d="M969.7 365.5H972.8V463H969.7Z"/>
<path fill="#255E91" d="M972.8 354.8H976.1V359.4H972.8Z"/>
<path fill="#FFC000" d="M972.8 359.4H976.1V366.8H972.8Z"/>
<path fill="#5B9BD5" d="M972.8 366.8H976.1V463H972.8Z"/>
<path fill="#255E91" d="M976.1 354.8H979.3V366.8H976.1Z"/>
<path fill="#FFC000" d="M976.1 366.8H979.3V368.7H976.1Z"/>
<path fill="#5B9BD5" d="M976.1 368.7H979.3V463H976.1Z"/>
<path fill="#255E91" d="M979.3 354.8H982.6V368.7H979.3Z"/>
<path fill="#FFC000" d="M979.3 368.7H982.6V370.5H979.3Z"/>
<path fill="#5B9BD5" d="M979.3 370.5H982.6V463H979.3Z"/>
<path fill="#255E91" d="M982.6 354.8H985.7V363.1H982.6Z"/>
<path fill="#FFC000" d="M982.6 363.1H985.7V374.2H982.6Z"/>
<path fill="#5B9BD5" d="M982.6 374.2H985.7V463H982.6Z"/>
<path fill="#255E91" d="M985.7 354.8H988.8V375.1H985.7Z"/>
<path fill="#70AD47" d="M985.7 375.1H988.8V376H985.7Z"/>
<path fill="#FFC000" d="M985.7 376H988.8V380.3H985.7Z"/>
<path fill="#5B9BD5" d="M985.7 380.3H988.8V463H985.7Z"/>
<path fill="#997300" d="M988.8 354.8H992V361.3H988.8Z"/>
<path fill="#255E91" d="M988.8 361.3H992V381.6H988.8Z"/>
<path fill="#5B9BD5" d="M988.8 381.6H992V463H988.8Z"/>
<path fill="#264478" d="M992 354.8H995.3V360.4H992Z"/>
<path fill="#FFC000" d="M992 360.4H995.3V361.8H992Z"/>
<path fill="#ED7D31" d="M992 361.8H995.3V383.4H992Z"/>
<path fill="#5B9BD5" d="M992 383.4H995.3V463H992Z"/>
<path fill="#255E91" d="M995.3 354.8H998.4V376.6H995.3Z"/>
<path fill="#FFC000" d="M995.3 376.6H998.4V387.6H995.3Z"/>
<path fill="#5B9BD5" d="M995.3 387.6H998.4V463H995.3Z"/>
<path fill="#255E91" d="M998.4 354.8H1001.6V380.3H998.4Z"/>
<path fill="#FFC000" d="M998.4 380.3H1001.6V388H998.4Z"/>
<path fill="#5B9BD5" d="M998.4 388H1001.6V463H998.4Z"/>
<path fill="#255E91" d="M1001.6 354.8H1004.9V373.3H1001.6Z"/>
<path fill="#FFC000" d="M1001.6 373.3H1004.9V384H1001.6Z"/>
<path fill="#ED7D31" d="M1001.6 384H1004.9V389.9H1001.6Z"/>
<path fill="#5B9BD5" d="M1001.6 389.9H1004.9V463H1001.6Z"/>
<path fill="#255E91" d="M1004.9 354.8H1008V391.7H1004.9Z"/>
<path fill="#5B9BD5" d="M1004.9 391.7H1008V463H1004.9Z"/>
<path fill="#255E91" d="M1008 354.8H1011.1V389.5H1008Z"/>
<path fill="#FFC000" d="M1008 389.5H1011.1V393.5H1008Z"/>
<path fill="#5B9BD5" d="M1008 393.5H1011.1V463H1008Z"/>
<path fill="#264478" d="M1011.1 354.8H1014.5V360.4H1011.1Z"/>
<path fill="#636363" d="M1011.1 360.4H1014.5V363.1H1011.1Z"/>
<path fill="#255E91" d="M1011.1 363.1H1014.5V391.7H1011.1Z"/>
<path fill="#FFC000" d="M1011.1 391.7H1014.5V394.5H1011.1Z"/>
<path fill="#5B9BD5" d="M1011.1 394.5H1014.5V463H1011.1Z"/>
<path fill="#264478" d="M1014.5 354.8H1017.6V369.6H1014.5Z"/>
<path fill="#255E91" d="M1014.5 369.6H1017.6V394.5H1014.5Z"/>
<path fill="#FFC000" d="M1014.5 394.5H1017.6V395.7H1014.5Z"/>
<path fill="#5B9BD5" d="M1014.5 395.7H1017.6V463H1014.5Z"/>
<path fill="#264478" d="M1017.6 354.8H1020.7V362.2H1017.6Z"/>
<path fill="#997300" d="M1017.6 362.2H1020.7V369.6H1017.6Z"/>
<path fill="#255E91" d="M1017.6 369.6H1020.7V391.7H1017.6Z"/>
<path fill="#4472C4" d="M1017.6 391.7H1020.7V395.4H1017.6Z"/>
<path fill="#FFC000" d="M1017.6 395.4H1020.7V396.9H1017.6Z"/>
<path fill="#5B9BD5" d="M1017.6 396.9H1020.7V463H1017.6Z"/>
<path fill="#255E91" d="M1020.7 354.8H1024V396.3H1020.7Z"/>
<path fill="#FFC000" d="M1020.7 396.3H1024V397.8H1020.7Z"/>
<path fill="#5B9BD5" d="M1020.7 397.8H1024V463H1020.7Z"/>
<path fill="#255E91" d="M1024 354.8H1027.2V392.6H1024Z"/>
<path fill="#FFC000" d="M1024 392.6H1027.2V399.1H1024Z"/>
<path fill="#5B9BD5" d="M1024 399.1H1027.2V463H1024Z"/>
<path fill="#997300" d="M1027.2 354.8H1030.3V361.3H1027.2Z"/>
<path fill="#636363" d="M1027.2 361.3H1030.3V372.3H1027.2Z"/>
<path fill="#255E91" d="M1027.2 372.3H1030.3V383.4H1027.2Z"/>
<path fill="#FFC000" d="M1027.2 383.4H1030.3V399.4H1027.2Z"/>
<path fill="#5B9BD5" d="M1027.2 399.4H1030.3V463H1027.2Z"/>
<path fill="#255E91" d="M1030.3 354.8H1033.6V385.8H1030.3Z"/>
<path fill="#FFC000" d="M1030.3 385.8H1033.6V400H1030.3Z"/>
<path fill="#5B9BD5" d="M1030.3 400H1033.6V463H1030.3Z"/>
<path fill="#255E91" d="M1033.6 354.8H1036.8V384.7H1033.6Z"/>
<path fill="#FFC000" d="M1033.6 384.7H1036.8V400.4H1033.6Z"/>
<path fill="#5B9BD5" d="M1033.6 400.4H1036.8V463H1033.6Z"/>
<path fill="#264478" d="M1036.8 354.8H1039.9V368.7H1036.8Z"/>
<path fill="#997300" d="M1036.8 368.7H1039.9V371.4H1036.8Z"/>
<path fill="#255E91" d="M1036.8 371.4H1039.9V391.7H1036.8Z"/>
<path fill="#ED7D31" d="M1036.8 391.7H1039.9V400.9H1036.8Z"/>
<path fill="#5B9BD5" d="M1036.8 400.9H1039.9V463H1036.8Z"/>
<path fill="#255E91" d="M1039.9 354.8H1043.2V377H1039.9Z"/>
<path fill="#FFC000" d="M1039.9 377H1043.2V401.3H1039.9Z"/>
<path fill="#5B9BD5" d="M1039.9 401.3H1043.2V463H1039.9Z"/>
<path fill="#255E91" d="M1043.2 354.8H1046.3V401.8H1043.2Z"/>
<path fill="#5B9BD5" d="M1043.2 401.8H1046.3V463H1043.2Z"/>
<path fill="#997300" d="M1046.3 354.8H1049.5V374.2H1046.3Z"/>
<path fill="#255E91" d="M1046.3 374.2H1049.5V400H1046.3Z"/>
<path fill="#FFC000" d="M1046.3 400H1049.5V402.4H1046.3Z"/>
<path fill="#5B9BD5" d="M1046.3 402.4H1049.5V463H1046.3Z"/>
<path fill="#636363" d="M1049.5 354.8H1052.8V363.1H1049.5Z"/>
<path fill="#255E91" d="M1049.5 363.1H1052.8V401.3H1049.5Z"/>
<path fill="#FFC000" d="M1049.5 401.3H1052.8V403.7H1049.5Z"/>
<path fill="#5B9BD5" d="M1049.5 403.7H1052.8V463H1049.5Z"/>
<path fill="#255E91" d="M1052.8 354.8H1055.9V401.8H1052.8Z"/>
<path fill="#FFC000" d="M1052.8 401.8H1055.9V404.2H1052.8Z"/>
<path fill="#5B9BD5" d="M1052.8 404.2H1055.9V463H1052.8Z"/>
<path fill="#255E91" d="M1055.9 354.8H1059.1V401.3H1055.9Z"/>
<path fill="#FFC000" d="M1055.9 401.3H1059.1V405H1055.9Z"/>
<path fill="#5B9BD5" d="M1055.9 405H1059.1V463H1055.9Z"/>
<path fill="#255E91" d="M1059.1 354.8H1062.4V377.9H1059.1Z"/>
<path fill="#4472C4" d="M1059.1 377.9H1062.4V388H1059.1Z"/>
<path fill="#ED7D31" d="M1059.1 388H1062.4V414.7H1059.1Z"/>
<path fill="#5B9BD5" d="M1059.1 414.7H1062.4V463H1059.1Z"/>
<path fill="#264478" d="M1062.4 354.8H1065.5V355.8H1062.4Z"/>
<path fill="#255E91" d="M1062.4 355.8H1065.5V415.6H1062.4Z"/>
<path fill="#FFC000" d="M1062.4 415.6H1065.5V416.6H1062.4Z"/>
<path fill="#5B9BD5" d="M1062.4 416.6H1065.5V463H1062.4Z"/>
<path fill="#636363" d="M1065.5 354.8H1068.6V365.9H1065.5Z"/>
<path fill="#9E480E" d="M1065.5 365.9H1068.6V368.7H1065.5Z"/>
<path fill="#255E91" d="M1065.5 368.7H1068.6V385.2H1065.5Z"/>
<path fill="#4472C4" d="M1065.5 385.2H1068.6V389.9H1065.5Z"/>
<path fill="#FFC000" d="M1065.5 389.9H1068.6V397.2H1065.5Z"/>
<path fill="#ED7D31" d="M1065.5 397.2H1068.6V417.1H1065.5Z"/>
<path fill="#5B9BD5" d="M1065.5 417.1H1068.6V463H1065.5Z"/>
<path fill="#264478" d="M1068.6 354.8H1072V397.2H1068.6Z"/>
<path fill="#255E91" d="M1068.6 397.2H1072V402.8H1068.6Z"/>
<path fill="#A5A5A5" d="M1068.6 402.8H1072V409.2H1068.6Z"/>
<path fill="#ED7D31" d="M1068.6 409.2H1072V417.5H1068.6Z"/>
<path fill="#5B9BD5" d="M1068.6 417.5H1072V463H1068.6Z"/>
<path fill="#264478" d="M1072 354.8H1075.1V383.4H1072Z"/>
<path fill="#4472C4" d="M1072 383.4H1075.1V388H1072Z"/>
<path fill="#ED7D31" d="M1072 388H1075.1V417.9H1072Z"/>
<path fill="#5B9BD5" d="M1072 417.9H1075.1V463H1072Z"/>
<path fill="#997300" d="M1075.1 354.8H1078.2V377H1075.1Z"/>
<path fill="#636363" d="M1075.1 377H1078.2V385.2H1075.1Z"/>
<path fill="#255E91" d="M1075.1 385.2H1078.2V405.5H1075.1Z"/>
<path fill="#4472C4" d="M1075.1 405.5H1078.2V415.6H1075.1Z"/>
<path fill="#FFC000" d="M1075.1 415.6H1078.2V419.3H1075.1Z"/>
<path fill="#5B9BD5" d="M1075.1 419.3H1078.2V463H1075.1Z"/>
<path fill="#997300" d="M1078.2 354.8H1081.5V375.1H1078.2Z"/>
<path fill="#255E91" d="M1078.2 375.1H1081.5V420.8H1078.2Z"/>
<path fill="#5B9BD5" d="M1078.2 420.8H1081.5V463H1078.2Z"/>
<path fill="#997300" d="M1081.5 354.8H1084.7V380.6H1081.5Z"/>
<path fill="#255E91" d="M1081.5 380.6H1084.7V392.6H1081.5Z"/>
<path fill="#4472C4" d="M1081.5 392.6H1084.7V421.2H1081.5Z"/>
<path fill="#FFC000" d="M1081.5 421.2H1084.7V422.7H1081.5Z"/>
<path fill="#5B9BD5" d="M1081.5 422.7H1084.7V463H1081.5Z"/>
<path fill="#255E91" d="M1084.7 354.8H1087.8V370.5H1084.7Z"/>
<path fill="#4472C4" d="M1084.7 370.5H1087.8V378.8H1084.7Z"/>
<path fill="#A5A5A5" d="M1084.7 378.8H1087.8V391.7H1084.7Z"/>
<path fill="#ED7D31" d="M1084.7 391.7H1087.8V423.9H1084.7Z"/>
<path fill="#5B9BD5" d="M1084.7 423.9H1087.8V463H1084.7Z"/>
<path fill="#997300" d="M1087.8 354.8H1091.1V414.7H1087.8Z"/>
<path fill="#255E91" d="M1087.8 414.7H1091.1V420.3H1087.8Z"/>
<path fill="#4472C4" d="M1087.8 420.3H1091.1V423.9H1087.8Z"/>
<path fill="#FFC000" d="M1087.8 423.9H1091.1V427.1H1087.8Z"/>
<path fill="#5B9BD5" d="M1087.8 427.1H1091.1V463H1087.8Z"/>
<path fill="#997300" d="M1091.1 354.8H1094.2V365.9H1091.1Z"/>
<path fill="#4472C4" d="M1091.1 365.9H1094.2V371.4H1091.1Z"/>
<path fill="#FFC000" d="M1091.1 371.4H1094.2V375.1H1091.1Z"/>
<path fill="#ED7D31" d="M1091.1 375.1H1094.2V428.2H1091.1Z"/>
<path fill="#5B9BD5" d="M1091.1 428.2H1094.2V463H1091.1Z"/>
<path fill="#264478" d="M1094.2 354.8H1097.4V356.7H1094.2Z"/>
<path fill="#636363" d="M1094.2 356.7H1097.4V388H1094.2Z"/>
<path fill="#ED7D31" d="M1094.2 388H1097.4V428.9H1094.2Z"/>
<path fill="#5B9BD5" d="M1094.2 428.9H1097.4V463H1094.2Z"/>
<path fill="#264478" d="M1097.4 354.8H1100.7V413.8H1097.4Z"/>
<path fill="#636363" d="M1097.4 413.8H1100.7V418.4H1097.4Z"/>
<path fill="#255E91" d="M1097.4 418.4H1100.7V430.4H1097.4Z"/>
<path fill="#FFC000" d="M1097.4 430.4H1100.7V431.9H1097.4Z"/>
<path fill="#5B9BD5" d="M1097.4 431.9H1100.7V463H1097.4Z"/>
<path fill="#997300" d="M1100.7 354.8H1103.8V362.2H1100.7Z"/>
<path fill="#255E91" d="M1100.7 362.2H1103.8V400H1100.7Z"/>
<path fill="#FFC000" d="M1100.7 400H1103.8V403.1H1100.7Z"/>
<path fill="#A5A5A5" d="M1100.7 403.1H1103.8V409.2H1100.7Z"/>
<path fill="#ED7D31" d="M1100.7 409.2H1103.8V444.2H1100.7Z"/>
<path fill="#5B9BD5" d="M1100.7 444.2H1103.8V463H1100.7Z"/>
<path fill="#997300" d="M1103.8 354.8H1107V392.6H1103.8Z"/>
<path fill="#636363" d="M1103.8 392.6H1107V410.1H1103.8Z"/>
<path fill="#4472C4" d="M1103.8 410.1H1107V441.4H1103.8Z"/>
<path fill="#FFC000" d="M1103.8 441.4H1107V445.1H1103.8Z"/>
<path fill="#5B9BD5" d="M1103.8 445.1H1107V463H1103.8Z"/>
<path fill="#636363" d="M1107 354.8H1110.3V370.5H1107Z"/>
<path fill="#9E480E" d="M1107 370.5H1110.3V377.9H1107Z"/>
<path fill="#4472C4" d="M1107 377.9H1110.3V380.3H1107Z"/>
<path fill="#ED7D31" d="M1107 380.3H1110.3V446.6H1107Z"/>
<path fill="#5B9BD5" d="M1107 446.6H1110.3V463H1107Z"/>
<path fill="#636363" d="M1110.3 354.8H1113.4V369.6H1110.3Z"/>
<path fill="#9E480E" d="M1110.3 369.6H1113.4V376H1110.3Z"/>
<path fill="#255E91" d="M1110.3 376H1113.4V386.2H1110.3Z"/>
<path fill="#4472C4" d="M1110.3 386.2H1113.4V445.1H1110.3Z"/>
<path fill="#FFC000" d="M1110.3 445.1H1113.4V447.9H1110.3Z"/>
<path fill="#5B9BD5" d="M1110.3 447.9H1113.4V463H1110.3Z"/>
<path fill="#264478" d="M1113.4 354.8H1116.5V371.4H1113.4Z"/>
<path fill="#997300" d="M1113.4 371.4H1116.5V380.6H1113.4Z"/>
<path fill="#255E91" d="M1113.4 380.6H1116.5V449.7H1113.4Z"/>
<path fill="#5B9BD5" d="M1113.4 449.7H1116.5V463H1113.4Z"/>
<path fill="#264478" d="M1116.5 354.8H1119.9V425.8H1116.5Z"/>
<path fill="#997300" d="M1116.5 425.8H1119.9V427.6H1116.5Z"/>
<path fill="#255E91" d="M1116.5 427.6H1119.9V435H1116.5Z"/>
<path fill="#A5A5A5" d="M1116.5 435H1119.9V438.7H1116.5Z"/>
<path fill="#ED7D31" d="M1116.5 438.7H1119.9V456.2H1116.5Z"/>
<path fill="#5B9BD5" d="M1116.5 456.2H1119.9V463H1116.5Z"/>
<path fill="#264478" d="M1119.9 354.8H1123V357.6H1119.9Z"/>
<path fill="#4472C4" d="M1119.9 357.6H1123V457.1H1119.9Z"/>
<path fill="#FFC000" d="M1119.9 457.1H1123V459H1119.9Z"/>
<path fill="#5B9BD5" d="M1119.9 459H1123V463H1119.9Z"/>
<path fill="#264478" d="M1123 354.8H1126.3V361.3H1123Z"/>
<path fill="#997300" d="M1123 361.3H1126.3V393.9H1123Z"/>
<path fill="#70AD47" d="M1123 393.9H1126.3V395.7H1123Z"/>
<path fill="#4472C4" d="M1123 395.7H1126.3V404.6H1123Z"/>
<path fill="#A5A5A5" d="M1123 404.6H1126.3V406.4H1123Z"/>
<path fill="#ED7D31" d="M1123 406.4H1126.3V463H1123Z"/>
<path fill="#264478" d="M1126.3 354.8H1129.4V359.4H1126.3Z"/>
<path fill="#997300" d="M1126.3 359.4H1129.4V392.6H1126.3Z"/>
<path fill="#636363" d="M1126.3 392.6H1129.4V423.9H1126.3Z"/>
<path fill="#255E91" d="M1126.3 423.9H1129.4V452.5H1126.3Z"/>
<path fill="#4472C4" d="M1126.3 452.5H1129.4V463H1126.3Z"/>
<path fill="#264478" d="M1129.4 354.8H1132.6V359.4H1129.4Z"/>
<path fill="#9E480E" d="M1129.4 359.4H1132.6V445.1H1129.4Z"/>
<path fill="#255E91" d="M1129.4 445.1H1132.6V463H1129.4Z"/>
<path fill="#264478" d="M1132.6 354.8H1135.7V360.4H1132.6Z"/>
<path fill="#997300" d="M1132.6 360.4H1135.7V370.5H1132.6Z"/>
<path fill="#636363" d="M1132.6 370.5H1135.7V404.6H1132.6Z"/>
<path fill="#4472C4" d="M1132.6 404.6H1135.7V413.8H1132.6Z"/>
<path fill="#ED7D31" d="M1132.6 413.8H1135.7V463H1132.6Z"/>
<path fill="#997300" d="M1135.7 354.8H1139V371.4H1135.7Z"/>
<path fill="#4472C4" d="M1135.7 371.4H1139V401.8H1135.7Z"/>
<path fill="#ED7D31" d="M1135.7 401.8H1139V463H1135.7Z"/>
<path fill="#264478" d="M1139 354.8H1142.2V358.5H1139Z"/>
<path fill="#997300" d="M1139 358.5H1142.2V363.1H1139Z"/>
<path fill="#255E91" d="M1139 363.1H1142.2V403.7H1139Z"/>
<path fill="#636363" d="M1139 403.7H1142.2V420.3H1139Z"/>
<path fill="#FFC000" d="M1139 420.3H1142.2V422.1H1139Z"/>
<path fill="#A5A5A5" d="M1139 422.1H1142.2V426.7H1139Z"/>
<path fill="#ED7D31" d="M1139 426.7H1142.2V463H1139Z"/>
<path fill="#997300" d="M1142.2 354.8H1146.2V463H1142.2Z"/>
<path fill="#264478" d="M1146.2 354.8H1149.3V357.6H1146.2Z"/>
<path fill="#4472C4" d="M1146.2 357.6H1149.3V361.3H1146.2Z"/>
<path fill="#FFC000" d="M1146.2 361.3H1149.3V367.4H1146.2Z"/>
<path fill="#5B9BD5" d="M1146.2 367.4H1149.3V463H1146.2Z"/>
<path fill="#997300" d="M1149.3 354.8H1152.5V362.2H1149.3Z"/>
<path fill="#255E91" d="M1149.3 362.2H1152.5V366.8H1149.3Z"/>
<path fill="#4472C4" d="M1149.3 366.8H1152.5V378.8H1149.3Z"/>
<path fill="#5B9BD5" d="M1149.3 378.8H1152.5V463H1149.3Z"/>
<path fill="#255E91" d="M1152.5 354.8H1155.8V394.5H1152.5Z"/>
<path fill="#ED7D31" d="M1152.5 394.5H1155.8V399.1H1152.5Z"/>
<path fill="#5B9BD5" d="M1152.5 399.1H1155.8V463H1152.5Z"/>
<path fill="#997300" d="M1155.8 354.8H1158.9V365H1155.8Z"/>
<path fill="#255E91" d="M1155.8 365H1158.9V388.9H1155.8Z"/>
<path fill="#FFC000" d="M1155.8 388.9H1158.9V401.8H1155.8Z"/>
<path fill="#5B9BD5" d="M1155.8 401.8H1158.9V463H1155.8Z"/>
<path fill="#264478" d="M1158.9 354.8H1162.1V360.4H1158.9Z"/>
<path fill="#4472C4" d="M1158.9 360.4H1162.1V381.6H1158.9Z"/>
<path fill="#255E91" d="M1158.9 381.6H1162.1V402.8H1158.9Z"/>
<path fill="#FFC000" d="M1158.9 402.8H1162.1V403.7H1158.9Z"/>
<path fill="#5B9BD5" d="M1158.9 403.7H1162.1V463H1158.9Z"/>
<path fill="#255E91" d="M1162.1 354.8H1165.4V385.2H1162.1Z"/>
<path fill="#FFC000" d="M1162.1 385.2H1165.4V405H1162.1Z"/>
<path fill="#5B9BD5" d="M1162.1 405H1165.4V463H1162.1Z"/>
<path fill="#997300" d="M1165.4 354.8H1168.5V369.6H1165.4Z"/>
<path fill="#255E91" d="M1165.4 369.6H1168.5V407.4H1165.4Z"/>
<path fill="#FFC000" d="M1165.4 407.4H1168.5V411H1165.4Z"/>
<path fill="#5B9BD5" d="M1165.4 411H1168.5V463H1165.4Z"/>
<path fill="#997300" d="M1168.5 354.8H1171.6V385.2H1168.5Z"/>
<path fill="#255E91" d="M1168.5 385.2H1171.6V408.3H1168.5Z"/>
<path fill="#4472C4" d="M1168.5 408.3H1171.6V415.6H1168.5Z"/>
<path fill="#FFC000" d="M1168.5 415.6H1171.6V417.5H1168.5Z"/>
<path fill="#5B9BD5" d="M1168.5 417.5H1171.6V463H1168.5Z"/>
<path fill="#997300" d="M1171.6 354.8H1175V392.6H1171.6Z"/>
<path fill="#255E91" d="M1171.6 392.6H1175V415.6H1171.6Z"/>
<path fill="#FFC000" d="M1171.6 415.6H1175V422.1H1171.6Z"/>
<path fill="#5B9BD5" d="M1171.6 422.1H1175V463H1171.6Z"/>
<path fill="#997300" d="M1175 354.8H1178.1V377.9H1175Z"/>
<path fill="#255E91" d="M1175 377.9H1178.1V409.2H1175Z"/>
<path fill="#FFC000" d="M1175 409.2H1178.1V422.7H1175Z"/>
<path fill="#5B9BD5" d="M1175 422.7H1178.1V463H1175Z"/>
<path fill="#636363" d="M1178.1 354.8H1181.2V361.3H1178.1Z"/>
<path fill="#255E91" d="M1178.1 361.3H1181.2V371.4H1178.1Z"/>
<path fill="#4472C4" d="M1178.1 371.4H1181.2V410.1H1178.1Z"/>
<path fill="#A5A5A5" d="M1178.1 410.1H1181.2V432.2H1178.1Z"/>
<path fill="#5B9BD5" d="M1178.1 432.2H1181.2V463H1178.1Z"/>
<path fill="#264478" d="M1181.2 354.8H1184.5V383.4H1181.2Z"/>
<path fill="#997300" d="M1181.2 383.4H1184.5V401.8H1181.2Z"/>
<path fill="#9E480E" d="M1181.2 401.8H1184.5V415.6H1181.2Z"/>
<path fill="#255E91" d="M1181.2 415.6H1184.5V441.4H1181.2Z"/>
<path fill="#70AD47" d="M1181.2 441.4H1184.5V443.3H1181.2Z"/>
<path fill="#4472C4" d="M1181.2 443.3H1184.5V446.1H1181.2Z"/>
<path fill="#FFC000" d="M1181.2 446.1H1184.5V448.4H1181.2Z"/>
<path fill="#5B9BD5" d="M1181.2 448.4H1184.5V463H1181.2Z"/>
<path fill="#264478" d="M1184.5 354.8H1187.7V362.2H1184.5Z"/>
<path fill="#FFC000" d="M1184.5 362.2H1187.7V364.1H1184.5Z"/>
<path fill="#255E91" d="M1184.5 364.1H1187.7V389.9H1184.5Z"/>
<path fill="#FFC000" d="M1184.5 389.9H1187.7V449.7H1184.5Z"/>
<path fill="#5B9BD5" d="M1184.5 449.7H1187.7V463H1184.5Z"/>
<path fill="#264478" d="M1187.7 354.8H1190.8V426.7H1187.7Z"/>
<path fill="#997300" d="M1187.7 426.7H1190.8V434.1H1187.7Z"/>
<path fill="#636363" d="M1187.7 434.1H1190.8V443.3H1187.7Z"/>
<path fill="#255E91" d="M1187.7 443.3H1190.8V447.9H1187.7Z"/>
<path fill="#ED7D31" d="M1187.7 447.9H1190.8V450.7H1187.7Z"/>
<path fill="#5B9BD5" d="M1187.7 450.7H1190.8V463H1187.7Z"/>
<path fill="#255E91" d="M1190.8 354.8H1194.1V385.2H1190.8Z"/>
<path fill="#FFC000" d="M1190.8 385.2H1194.1V387.1H1190.8Z"/>
<path fill="#A5A5A5" d="M1190.8 387.1H1194.1V400H1190.8Z"/>
<path fill="#ED7D31" d="M1190.8 400H1194.1V451.6H1190.8Z"/>
<path fill="#5B9BD5" d="M1190.8 451.6H1194.1V463H1190.8Z"/>
<path fill="#255E91" d="M1194.1 354.8H1197.3V428.2H1194.1Z"/>
<path fill="#FFC000" d="M1194.1 428.2H1197.3V454H1194.1Z"/>
<path fill="#5B9BD5" d="M1194.1 454H1197.3V463H1194.1Z"/>
<path fill="#636363" d="M1197.3 354.8H1200.4V361.3H1197.3Z"/>
<path fill="#255E91" d="M1197.3 361.3H1200.4V423.9H1197.3Z"/>
<path fill="#FFC000" d="M1197.3 423.9H1200.4V430.4H1197.3Z"/>
<path fill="#ED7D31" d="M1197.3 430.4H1200.4V454.7H1197.3Z"/>
<path fill="#5B9BD5" d="M1197.3 454.7H1200.4V463H1197.3Z"/>
<path fill="#264478" d="M1200.4 354.8H1203.7V381.6H1200.4Z"/>
<path fill="#4472C4" d="M1200.4 381.6H1203.7V383.4H1200.4Z"/>
<path fill="#A5A5A5" d="M1200.4 383.4H1203.7V392.6H1200.4Z"/>
<path fill="#ED7D31" d="M1200.4 392.6H1203.7V455.3H1200.4Z"/>
<path fill="#5B9BD5" d="M1200.4 455.3H1203.7V463H1200.4Z"/>
<path fill="#997300" d="M1203.7 354.8H1206.8V371.4H1203.7Z"/>
<path fill="#636363" d="M1203.7 371.4H1206.8V376H1203.7Z"/>
<path fill="#255E91" d="M1203.7 376H1206.8V428.5H1203.7Z"/>
<path fill="#FFC000" d="M1203.7 428.5H1206.8V432.2H1203.7Z"/>
<path fill="#ED7D31" d="M1203.7 432.2H1206.8V456.6H1203.7Z"/>
<path fill="#5B9BD5" d="M1203.7 456.6H1206.8V463H1203.7Z"/>
<path fill="#636363" d="M1206.8 354.8H1210V365.9H1206.8Z"/>
<path fill="#9E480E" d="M1206.8 365.9H1210V430.4H1206.8Z"/>
<path fill="#255E91" d="M1206.8 430.4H1210V455.3H1206.8Z"/>
<path fill="#FFC000" d="M1206.8 455.3H1210V458H1206.8Z"/>
<path fill="#5B9BD5" d="M1206.8 458H1210V463H1206.8Z"/>
<path fill="#636363" d="M1210 354.8H1213.3V380.6H1210Z"/>
<path fill="#255E91" d="M1210 380.6H1213.3V435.9H1210Z"/>
<path fill="#ED7D31" d="M1210 435.9H1213.3V463H1210Z"/>
<path fill="#264478" d="M1213.3 354.8H1216.4V396.3H1213.3Z"/>
<path fill="#9E480E" d="M1213.3 396.3H1216.4V398.1H1213.3Z"/>
<path fill="#255E91" d="M1213.3 398.1H1216.4V451.6H1213.3Z"/>
<path fill="#FFC000" d="M1213.3 451.6H1216.4V463H1213.3Z"/>
<path fill="#264478" d="M1216.4 354.8H1219.5V391.7H1216.4Z"/>
<path fill="#636363" d="M1216.4 391.7H1219.5V433.2H1216.4Z"/>
<path fill="#255E91" d="M1216.4 433.2H1219.5V463H1216.4Z"/>
<path fill="#997300" d="M1219.5 354.8H1222.9V388H1219.5Z"/>
<path fill="#9E480E" d="M1219.5 388H1222.9V422.1H1219.5Z"/>
<path fill="#255E91" d="M1219.5 422.1H1222.9V447H1219.5Z"/>
<path fill="#4472C4" d="M1219.5 447H1222.9V453.4H1219.5Z"/>
<path fill="#FFC000" d="M1219.5 453.4H1222.9V463H1219.5Z"/>
<path fill="#997300" d="M1222.9 354.8H1226V392.6H1222.9Z"/>
<path fill="#636363" d="M1222.9 392.6H1226V398.1H1222.9Z"/>
<path fill="#255E91" d="M1222.9 398.1H1226V441.4H1222.9Z"/>
<path fill="#FFC000" d="M1222.9 441.4H1226V452.5H1222.9Z"/>
<path fill="#ED7D31" d="M1222.9 452.5H1226V463H1222.9Z"/>
<path fill="#636363" d="M1226 354.8H1229.1V397.2H1226Z"/>
<path fill="#9E480E" d="M1226 397.2H1229.1V424.9H1226Z"/>
<path fill="#255E91" d="M1226 424.9H1229.1V463H1226Z"/>
<path fill="#997300" d="M1229.1 354.8H1232.4V378.8H1229.1Z"/>
<path fill="#4472C4" d="M1229.1 378.8H1232.4V382.1H1229.1Z"/>
<path fill="#ED7D31" d="M1229.1 382.1H1232.4V463H1229.1Z"/>
<path fill="#997300" d="M1232.4 354.8H1235.6V394.5H1232.4Z"/>
<path fill="#A5A5A5" d="M1232.4 394.5H1235.6V397.2H1232.4Z"/>
<path fill="#ED7D31" d="M1232.4 397.2H1235.6V463H1232.4Z"/>
<path fill="#997300" d="M1235.6 354.8H1238.7V377H1235.6Z"/>
<path fill="#9E480E" d="M1235.6 377H1238.7V396.3H1235.6Z"/>
<path fill="#ED7D31" d="M1235.6 396.3H1238.7V463H1235.6Z"/>
<path fill="#997300" d="M1238.7 354.8H1242V446.1H1238.7Z"/>
<path fill="#4472C4" d="M1238.7 446.1H1242V447.9H1238.7Z"/>
<path fill="#FFC000" d="M1238.7 447.9H1242V463H1238.7Z"/>
<path fill="#997300" d="M1242 354.8H1245.2V401.8H1242Z"/>
<path fill="#255E91" d="M1242 401.8H1245.2V409.2H1242Z"/>
<path fill="#ED7D31" d="M1242 409.2H1245.2V463H1242Z"/>
<path fill="#264478" d="M1245.2 354.8H1248.3V402.8H1245.2Z"/>
<path fill="#997300" d="M1245.2 402.8H1248.3V405.5H1245.2Z"/>
<path fill="#255E91" d="M1245.2 405.5H1248.3V452.5H1245.2Z"/>
<path fill="#FFC000" d="M1245.2 452.5H1248.3V458H1245.2Z"/>
<path fill="#ED7D31" d="M1245.2 458H1248.3V463H1245.2Z"/>
<path fill="#264478" d="M1248.3 354.8H1251.6V396.3H1248.3Z"/>
<path fill="#997300" d="M1248.3 396.3H1251.6V399.1H1248.3Z"/>
<path fill="#255E91" d="M1248.3 399.1H1251.6V426.7H1248.3Z"/>
<path fill="#FFC000" d="M1248.3 426.7H1251.6V428.9H1248.3Z"/>
<path fill="#A5A5A5" d="M1248.3 428.9H1251.6V435H1248.3Z"/>
<path fill="#ED7D31" d="M1248.3 435H1251.6V463H1248.3Z"/>
<path fill="#997300" d="M1251.6 354.8H1254.7V366.8H1251.6Z"/>
<path fill="#636363" d="M1251.6 366.8H1254.7V412.9H1251.6Z"/>
<path fill="#4472C4" d="M1251.6 412.9H1254.7V418.4H1251.6Z"/>
<path fill="#A5A5A5" d="M1251.6 418.4H1254.7V423.9H1251.6Z"/>
<path fill="#ED7D31" d="M1251.6 423.9H1254.7V463H1251.6Z"/>
<path fill="#997300" d="M1254.7 354.8H1257.9V436.8H1254.7Z"/>
<path fill="#255E91" d="M1254.7 436.8H1257.9V463H1254.7Z"/>
<path fill="#997300" d="M1257.9 354.8H1261.2V377.9H1257.9Z"/>
<path fill="#636363" d="M1257.9 377.9H1261.2V420.3H1257.9Z"/>
<path fill="#4472C4" d="M1257.9 420.3H1261.2V422.1H1257.9Z"/>
<path fill="#A5A5A5" d="M1257.9 422.1H1261.2V447.9H1257.9Z"/>
<path fill="#ED7D31" d="M1257.9 447.9H1261.2V463H1257.9Z"/>
<path fill="#264478" d="M1261.2 354.8H1264.3V428.5H1261.2Z"/>
<path fill="#255E91" d="M1261.2 428.5H1264.3V463H1261.2Z"/>
<path fill="#264478" d="M1264.3 354.8H1267.5V429.5H1264.3Z"/>
<path fill="#997300" d="M1264.3 429.5H1267.5V463H1264.3Z"/>
<path fill="#264478" d="M1267.5 354.8H1270.8V453.4H1267.5Z"/>
<path fill="#997300" d="M1267.5 453.4H1270.8V463H1267.5ZM1270.8 354.8H1273.9V424.9H1270.8Z"/>
<path fill="#9E480E" d="M1270.8 424.9H1273.9V463H1270.8Z"/>
<path fill="#264478" d="M1273.9 354.8H1277V425.8H1273.9Z"/>
<path fill="#997300" d="M1273.9 425.8H1277V429.5H1273.9Z"/>
<path fill="#9E480E" d="M1273.9 429.5H1277V463H1273.9Z"/>
<path fill="#997300" d="M1277 354.8H1280.4V387.1H1277Z"/>
<path fill="#4472C4" d="M1277 387.1H1280.4V392.6H1277Z"/>
<path fill="#FFC000" d="M1277 392.6H1280.4V393.9H1277Z"/>
<path fill="#ED7D31" d="M1277 393.9H1280.4V463H1277Z"/>
<path fill="#997300" d="M1280.4 354.8H1283.5V459H1280.4Z"/>
<path fill="#255E91" d="M1280.4 459H1283.5V463H1280.4Z"/>
<path fill="#264478" d="M1283.5 354.8H1286.6V414.7H1283.5Z"/>
<path fill="#636363" d="M1283.5 414.7H1286.6V449.7H1283.5Z"/>
<path fill="#9E480E" d="M1283.5 449.7H1286.6V459H1283.5Z"/>
<path fill="#255E91" d="M1283.5 459H1286.6V463H1283.5Z"/>
<path fill="#997300" d="M1286.6 354.8H1289.9V463H1286.6Z"/>
<path fill="#9E480E" d="M1289.9 354.8H1293.1V463H1289.9Z"/>
<path fill="#997300" d="M1293.1 354.8H1299.5V463H1293.1ZM1299.5 354.8H1302.7V408.3H1299.5Z"/>
<path fill="#9E480E" d="M1299.5 408.3H1302.7V446.1H1299.5Z"/>
<path fill="#255E91" d="M1299.5 446.1H1302.7V463H1299.5Z"/>
<path fill="#997300" d="M1302.7 354.8H1305.8V428.5H1302.7Z"/>
<path fill="#636363" d="M1302.7 428.5H1305.8V439.6H1302.7Z"/>
<path fill="#255E91" d="M1302.7 439.6H1305.8V463H1302.7Z"/>
<path fill="#264478" d="M1305.8 354.8H1309.1V384.3H1305.8Z"/>
<path fill="#636363" d="M1305.8 384.3H1309.1V398.1H1305.8Z"/>
<path fill="#4472C4" d="M1305.8 398.1H1309.1V463H1305.8Z"/>
<path fill="#264478" d="M1309.1 354.8H1312.2V438.7H1309.1Z"/>
<path fill="#636363" d="M1309.1 438.7H1312.2V463H1309.1Z"/>
<path fill="#997300" d="M1312.2 354.8H1317.2V463H1312.2Z"/>
<path fill="#264478" d="M966.6 354.8H1317.2V355.6H966.6Z"/></g>
<!-- b3_t2.txt -->
<g shape-rendering="crispEdges"><path fill="#264478" d="M1146.2 354.8H1149.4V357.1H1146.2Z"/>
<path fill="#255E91" d="M1146.2 357.1H1149.4V360.2H1146.2Z"/>
<path fill="#4472C4" d="M1146.2 360.2H1149.4V360.9H1146.2Z"/>
<path fill="#FFC000" d="M1146.2 360.9H1149.4V366.8H1146.2Z"/>
<path fill="#5B9BD5" d="M1146.2 366.8H1149.4V408H1146.2Z"/>
<path fill="#997300" d="M1149.4 354.8H1152.5V363.1H1149.4Z"/>
<path fill="#255E91" d="M1149.4 363.1H1152.5V366.8H1149.4Z"/>
<path fill="#4472C4" d="M1149.4 366.8H1152.5V377.9H1149.4Z"/>
<path fill="#5B9BD5" d="M1149.4 377.9H1152.5V408H1149.4Z"/>
<path fill="#264478" d="M1152.5 354.8H1155.7V357.6H1152.5Z"/>
<path fill="#255E91" d="M1152.5 357.6H1155.7V394H1152.5Z"/>
<path fill="#FFC000" d="M1152.5 394H1155.7V395.8H1152.5Z"/>
<path fill="#ED7D31" d="M1152.5 395.8H1155.7V399.1H1152.5Z"/>
<path fill="#5B9BD5" d="M1152.5 399.1H1155.7V408H1152.5Z"/>
<path fill="#264478" d="M1155.7 354.8H1158.9V356.7H1155.7Z"/>
<path fill="#997300" d="M1155.7 356.7H1158.9V369.6H1155.7Z"/>
<path fill="#255E91" d="M1155.7 369.6H1158.9V388.9H1155.7Z"/>
<path fill="#FFC000" d="M1155.7 388.9H1158.9V401.8H1155.7Z"/>
<path fill="#5B9BD5" d="M1155.7 401.8H1158.9V408H1155.7Z"/>
<path fill="#255E91" d="M1158.9 354.8H1162.1V359.4H1158.9Z"/>
<path fill="#4472C4" d="M1158.9 359.4H1162.1V402.7H1158.9Z"/>
<path fill="#FFC000" d="M1158.9 402.7H1162.1V404.1H1158.9Z"/>
<path fill="#5B9BD5" d="M1158.9 404.1H1162.1V408H1158.9Z"/>
<path fill="#264478" d="M1162.1 354.8H1165.3V358.1H1162.1Z"/>
<path fill="#255E91" d="M1162.1 358.1H1165.3V382.9H1162.1Z"/>
<path fill="#4472C4" d="M1162.1 382.9H1165.3V384.8H1162.1Z"/>
<path fill="#FFC000" d="M1162.1 384.8H1165.3V405H1162.1Z"/>
<path fill="#5B9BD5" d="M1162.1 405H1165.3V408H1162.1Z"/>
<path fill="#264478" d="M1165.3 354.8H1168.5V355.8H1165.3Z"/>
<path fill="#997300" d="M1165.3 355.8H1168.5V367.3H1165.3Z"/>
<path fill="#255E91" d="M1165.3 367.3H1168.5V406.6H1165.3Z"/>
<path fill="#FFC000" d="M1165.3 406.6H1168.5V408H1165.3Z"/>
<path fill="#997300" d="M1168.5 354.8H1171.6V384.3H1168.5Z"/>
<path fill="#255E91" d="M1168.5 384.3H1171.6V408H1168.5Z"/>
<path fill="#997300" d="M1171.6 354.8H1174.8V392.1H1171.6Z"/>
<path fill="#255E91" d="M1171.6 392.1H1174.8V408H1171.6Z"/>
<path fill="#264478" d="M1174.8 354.8H1178V377.9H1174.8Z"/>
<path fill="#997300" d="M1174.8 377.9H1178V378.8H1174.8Z"/>
<path fill="#255E91" d="M1174.8 378.8H1178V408H1174.8Z"/>
<path fill="#264478" d="M1178 354.8H1181.2V358.1H1178Z"/>
<path fill="#636363" d="M1178 358.1H1181.2V360.8H1178Z"/>
<path fill="#255E91" d="M1178 360.8H1181.2V371.9H1178Z"/>
<path fill="#4472C4" d="M1178 371.9H1181.2V408H1178Z"/>
<path fill="#264478" d="M1181.2 354.8H1184.4V382.9H1181.2Z"/>
<path fill="#997300" d="M1181.2 382.9H1184.4V401.4H1181.2Z"/>
<path fill="#9E480E" d="M1181.2 401.4H1184.4V408H1181.2Z"/>
<path fill="#264478" d="M1184.4 354.8H1187.6V361.8H1184.4Z"/>
<path fill="#997300" d="M1184.4 361.8H1187.6V364.1H1184.4Z"/>
<path fill="#255E91" d="M1184.4 364.1H1187.6V389.7H1184.4Z"/>
<path fill="#70AD47" d="M1184.4 389.7H1187.6V390.6H1184.4Z"/>
<path fill="#FFC000" d="M1184.4 390.6H1187.6V408H1184.4Z"/>
<path fill="#264478" d="M1187.6 354.8H1190.7V408H1187.6ZM1190.7 354.8H1193.9V363.6H1190.7Z"/>
<path fill="#997300" d="M1190.7 363.6H1193.9V381.6H1190.7Z"/>
<path fill="#255E91" d="M1190.7 381.6H1193.9V384.8H1190.7Z"/>
<path fill="#FFC000" d="M1190.7 384.8H1193.9V387.1H1190.7Z"/>
<path fill="#A5A5A5" d="M1190.7 387.1H1193.9V400H1190.7Z"/>
<path fill="#ED7D31" d="M1190.7 400H1193.9V408H1190.7Z"/>
<path fill="#255E91" d="M1193.9 354.8H1197.1V408H1193.9Z"/>
<path fill="#264478" d="M1197.1 354.8H1200.3V359H1197.1Z"/>
<path fill="#636363" d="M1197.1 359H1200.3V360.4H1197.1Z"/>
<path fill="#255E91" d="M1197.1 360.4H1200.3V408H1197.1Z"/>
<path fill="#264478" d="M1200.3 354.8H1203.5V367.7H1200.3Z"/>
<path fill="#997300" d="M1200.3 367.7H1203.5V371H1200.3Z"/>
<path fill="#255E91" d="M1200.3 371H1203.5V382H1200.3Z"/>
<path fill="#FFC000" d="M1200.3 382H1203.5V382.9H1200.3Z"/>
<path fill="#A5A5A5" d="M1200.3 382.9H1203.5V392.6H1200.3Z"/>
<path fill="#ED7D31" d="M1200.3 392.6H1203.5V408H1200.3Z"/>
<path fill="#997300" d="M1203.5 354.8H1206.7V376H1203.5Z"/>
<path fill="#636363" d="M1203.5 376H1206.7V383.9H1203.5Z"/>
<path fill="#255E91" d="M1203.5 383.9H1206.7V408H1203.5Z"/>
<path fill="#264478" d="M1206.7 354.8H1209.8V355.8H1206.7Z"/>
<path fill="#636363" d="M1206.7 355.8H1209.8V365.9H1206.7Z"/>
<path fill="#9E480E" d="M1206.7 365.9H1209.8V408H1206.7Z"/>
<path fill="#264478" d="M1209.8 354.8H1213V356.2H1209.8Z"/>
<path fill="#997300" d="M1209.8 356.2H1213V361.3H1209.8Z"/>
<path fill="#636363" d="M1209.8 361.3H1213V384.8H1209.8Z"/>
<path fill="#255E91" d="M1209.8 384.8H1213V408H1209.8Z"/>
<path fill="#264478" d="M1213 354.8H1216.2V395.8H1213Z"/>
<path fill="#9E480E" d="M1213 395.8H1216.2V397.7H1213Z"/>
<path fill="#255E91" d="M1213 397.7H1216.2V408H1213Z"/>
<path fill="#264478" d="M1216.2 354.8H1219.4V390.8H1216.2Z"/>
<path fill="#997300" d="M1216.2 390.8H1219.4V392.6H1216.2Z"/>
<path fill="#636363" d="M1216.2 392.6H1219.4V408H1216.2Z"/>
<path fill="#264478" d="M1219.4 354.8H1222.6V360.8H1219.4Z"/>
<path fill="#997300" d="M1219.4 360.8H1222.6V388H1219.4Z"/>
<path fill="#9E480E" d="M1219.4 388H1222.6V408H1219.4Z"/>
<path fill="#264478" d="M1222.6 354.8H1225.8V356.2H1222.6Z"/>
<path fill="#997300" d="M1222.6 356.2H1225.8V392.6H1222.6Z"/>
<path fill="#636363" d="M1222.6 392.6H1225.8V397.7H1222.6Z"/>
<path fill="#255E91" d="M1222.6 397.7H1225.8V408H1222.6Z"/>
<path fill="#264478" d="M1225.8 354.8H1228.9V360.4H1225.8Z"/>
<path fill="#636363" d="M1225.8 360.4H1228.9V392.6H1225.8Z"/>
<path fill="#9E480E" d="M1225.8 392.6H1228.9V408H1225.8Z"/>
<path fill="#997300" d="M1228.9 354.8H1232.1V378.3H1228.9Z"/>
<path fill="#255E91" d="M1228.9 378.3H1232.1V381.7H1228.9Z"/>
<path fill="#ED7D31" d="M1228.9 381.7H1232.1V408H1228.9Z"/>
<path fill="#264478" d="M1232.1 354.8H1235.3V358.5H1232.1Z"/>
<path fill="#997300" d="M1232.1 358.5H1235.3V394H1232.1Z"/>
<path fill="#70AD47" d="M1232.1 394H1235.3V394.7H1232.1Z"/>
<path fill="#A5A5A5" d="M1232.1 394.7H1235.3V397H1232.1Z"/>
<path fill="#ED7D31" d="M1232.1 397H1235.3V408H1232.1Z"/>
<path fill="#997300" d="M1235.3 354.8H1238.5V376.9H1235.3Z"/>
<path fill="#9E480E" d="M1235.3 376.9H1238.5V396H1235.3Z"/>
<path fill="#255E91" d="M1235.3 396H1238.5V398H1235.3Z"/>
<path fill="#ED7D31" d="M1235.3 398H1238.5V408H1235.3Z"/>
<path fill="#997300" d="M1238.5 354.8H1241.7V408H1238.5ZM1241.7 354.8H1244.9V400.9H1241.7Z"/>
<path fill="#255E91" d="M1241.7 400.9H1244.9V408H1241.7Z"/>
<path fill="#264478" d="M1244.9 354.8H1248V402.7H1244.9Z"/>
<path fill="#997300" d="M1244.9 402.7H1248V406H1244.9Z"/>
<path fill="#255E91" d="M1244.9 406H1248V408H1244.9Z"/>
<path fill="#264478" d="M1248 354.8H1251.2V396.3H1248Z"/>
<path fill="#997300" d="M1248 396.3H1251.2V399.5H1248Z"/>
<path fill="#255E91" d="M1248 399.5H1251.2V408H1248Z"/>
<path fill="#264478" d="M1251.2 354.8H1254.4V359H1251.2Z"/>
<path fill="#997300" d="M1251.2 359H1254.4V366.8H1251.2Z"/>
<path fill="#636363" d="M1251.2 366.8H1254.4V408H1251.2Z"/>
<path fill="#264478" d="M1254.4 354.8H1257.6V356.2H1254.4Z"/>
<path fill="#997300" d="M1254.4 356.2H1257.6V408H1254.4Z"/>
<path fill="#264478" d="M1257.6 354.8H1260.8V372.8H1257.6Z"/>
<path fill="#997300" d="M1257.6 372.8H1260.8V377.9H1257.6Z"/>
<path fill="#636363" d="M1257.6 377.9H1260.8V408H1257.6Z"/>
<path fill="#997300" d="M1260.8 354.8H1264V408H1260.8Z"/>
<path fill="#264478" d="M1264 354.8H1267.1V408H1264ZM1267.1 354.8H1270.3V408H1267.1ZM1270.3 354.8H1273.5V359H1270.3Z"/>
<path fill="#997300" d="M1270.3 359H1273.5V408H1270.3Z"/>
<path fill="#264478" d="M1273.5 354.8H1276.7V408H1273.5ZM1276.7 354.8H1279.9V359H1276.7Z"/>
<path fill="#997300" d="M1276.7 359H1279.9V366.8H1276.7Z"/>
<path fill="#255E91" d="M1276.7 366.8H1279.9V387.1H1276.7Z"/>
<path fill="#4472C4" d="M1276.7 387.1H1279.9V392.9H1276.7Z"/>
<path fill="#FFC000" d="M1276.7 392.9H1279.9V394.9H1276.7Z"/>
<path fill="#ED7D31" d="M1276.7 394.9H1279.9V408H1276.7Z"/>
<path fill="#264478" d="M1279.9 354.8H1283.1V355.8H1279.9Z"/>
<path fill="#997300" d="M1279.9 355.8H1283.1V408H1279.9Z"/>
<path fill="#264478" d="M1283.1 354.8H1286.2V408H1283.1ZM1286.2 354.8H1289.4V357.1H1286.2Z"/>
<path fill="#997300" d="M1286.2 357.1H1289.4V408H1286.2ZM1289.4 354.8H1292.6V408H1289.4ZM1292.6 354.8H1295.8V408H1292.6ZM1295.8 354.8H1299V408H1295.8ZM1299 354.8H1302.2V408H1299ZM1302.2 354.8H1305.3V408H1302.2ZM1305.3 354.8H1308.5V408H1305.3Z"/>
<path fill="#264478" d="M1308.5 354.8H1311.7V384.3H1308.5Z"/>
<path fill="#636363" d="M1308.5 384.3H1311.7V398.1H1308.5Z"/>
<path fill="#4472C4" d="M1308.5 398.1H1311.7V408H1308.5Z"/>
<path fill="#264478" d="M1311.7 354.8H1314.9V408H1311.7ZM1314.9 354.8H1317.2V359H1314.9Z"/>
<path fill="#997300" d="M1314.9 359H1317.2V408H1314.9Z"/>
<path fill="#264478" d="M1291.5 354.8H1294.8V355.8H1291.5Z"/>
<path fill="#9E480E" d="M1291.5 355.8H1294.8V408H1291.5Z"/>
<path fill="#264478" d="M1298 354.8H1301.2V360.8H1298Z"/>
<path fill="#997300" d="M1298 360.8H1301.2V408H1298Z"/>
<path fill="#264478" d="M1146.2 354.8H1317.2V355.2H1146.2Z"/></g>
<!-- b3_u.txt -->
<g shape-rendering="crispEdges"><path fill="#5B9BD5" d="M966.6 463H1317.2V575H966.6Z"/>
<path fill="#ED7D31" d="M1123 463H1126.3V481.8H1123Z"/>
<path fill="#5B9BD5" d="M1123 481.8H1126.3V575H1123Z"/>
<path fill="#255E91" d="M1126.3 463H1129.4V467.6H1126.3Z"/>
<path fill="#4472C4" d="M1126.3 467.6H1129.4V481.4H1126.3Z"/>
<path fill="#FFC000" d="M1126.3 481.4H1129.4V482.3H1126.3Z"/>
<path fill="#5B9BD5" d="M1126.3 482.3H1129.4V575H1126.3Z"/>
<path fill="#255E91" d="M1129.4 463H1132.6V467.6H1129.4Z"/>
<path fill="#4472C4" d="M1129.4 467.6H1132.6V472.2H1129.4Z"/>
<path fill="#FFC000" d="M1129.4 472.2H1132.6V477.7H1129.4Z"/>
<path fill="#ED7D31" d="M1129.4 477.7H1132.6V484.2H1129.4Z"/>
<path fill="#5B9BD5" d="M1129.4 484.2H1132.6V575H1129.4Z"/>
<path fill="#ED7D31" d="M1132.6 463H1135.7V486H1132.6Z"/>
<path fill="#5B9BD5" d="M1132.6 486H1135.7V575H1132.6Z"/>
<path fill="#ED7D31" d="M1135.7 463H1139V502.1H1135.7Z"/>
<path fill="#5B9BD5" d="M1135.7 502.1H1139V575H1135.7Z"/>
<path fill="#ED7D31" d="M1139 463H1142.2V502.1H1139Z"/>
<path fill="#5B9BD5" d="M1139 502.1H1142.2V575H1139Z"/>
<path fill="#997300" d="M1142.2 463H1146.2V568H1142.2Z"/>
<path fill="#4472C4" d="M1142.2 568H1146.2V569H1142.2Z"/>
<path fill="#5B9BD5" d="M1142.2 569H1146.2V575H1142.2Z"/>
<path fill="#ED7D31" d="M1210 463H1213.3V467.6H1210Z"/>
<path fill="#5B9BD5" d="M1210 467.6H1213.3V575H1210Z"/>
<path fill="#FFC000" d="M1213.3 463H1216.4V472.2H1213.3Z"/>
<path fill="#5B9BD5" d="M1213.3 472.2H1216.4V575H1213.3Z"/>
<path fill="#255E91" d="M1216.4 463H1219.5V474.1H1216.4Z"/>
<path fill="#5B9BD5" d="M1216.4 474.1H1219.5V575H1216.4Z"/>
<path fill="#FFC000" d="M1219.5 463H1222.9V475H1219.5Z"/>
<path fill="#5B9BD5" d="M1219.5 475H1222.9V575H1219.5Z"/>
<path fill="#ED7D31" d="M1222.9 463H1226V476.8H1222.9Z"/>
<path fill="#5B9BD5" d="M1222.9 476.8H1226V575H1222.9Z"/>
<path fill="#255E91" d="M1226 463H1229.1V465.8H1226Z"/>
<path fill="#4472C4" d="M1226 465.8H1229.1V475.9H1226Z"/>
<path fill="#FFC000" d="M1226 475.9H1229.1V478.7H1226Z"/>
<path fill="#5B9BD5" d="M1226 478.7H1229.1V575H1226Z"/>
<path fill="#ED7D31" d="M1229.1 463H1232.4V479.2H1229.1Z"/>
<path fill="#5B9BD5" d="M1229.1 479.2H1232.4V575H1229.1Z"/>
<path fill="#ED7D31" d="M1232.4 463H1235.6V487.9H1232.4Z"/>
<path fill="#5B9BD5" d="M1232.4 487.9H1235.6V575H1232.4Z"/>
<path fill="#ED7D31" d="M1235.6 463H1238.7V502.6H1235.6Z"/>
<path fill="#5B9BD5" d="M1235.6 502.6H1238.7V575H1235.6Z"/>
<path fill="#FFC000" d="M1238.7 463H1242V500.8H1238.7Z"/>
<path fill="#A5A5A5" d="M1238.7 500.8H1242V508.1H1238.7Z"/>
<path fill="#5B9BD5" d="M1238.7 508.1H1242V575H1238.7Z"/>
<path fill="#ED7D31" d="M1242 463H1245.2V510H1242Z"/>
<path fill="#5B9BD5" d="M1242 510H1245.2V575H1242Z"/>
<path fill="#ED7D31" d="M1245.2 463H1248.3V510.5H1245.2Z"/>
<path fill="#5B9BD5" d="M1245.2 510.5H1248.3V575H1245.2Z"/>
<path fill="#ED7D31" d="M1248.3 463H1251.6V522H1248.3Z"/>
<path fill="#5B9BD5" d="M1248.3 522H1251.6V575H1248.3Z"/>
<path fill="#ED7D31" d="M1251.6 463H1254.7V529H1251.6Z"/>
<path fill="#5B9BD5" d="M1251.6 529H1254.7V575H1251.6Z"/>
<path fill="#255E91" d="M1254.7 463H1257.9V484.2H1254.7Z"/>
<path fill="#4472C4" d="M1254.7 484.2H1257.9V487H1254.7Z"/>
<path fill="#FFC000" d="M1254.7 487H1257.9V542.2H1254.7Z"/>
<path fill="#5B9BD5" d="M1254.7 542.2H1257.9V575H1254.7Z"/>
<path fill="#ED7D31" d="M1257.9 463H1261.2V551.4H1257.9Z"/>
<path fill="#5B9BD5" d="M1257.9 551.4H1261.2V575H1257.9Z"/>
<path fill="#255E91" d="M1261.2 463H1264.3V464.8H1261.2Z"/>
<path fill="#997300" d="M1261.2 464.8H1264.3V497.1H1261.2Z"/>
<path fill="#255E91" d="M1261.2 497.1H1264.3V567.7H1261.2Z"/>
<path fill="#FFC000" d="M1261.2 567.7H1264.3V575H1261.2Z"/>
<path fill="#636363" d="M1264.3 463H1267.5V483.3H1264.3Z"/>
<path fill="#9E480E" d="M1264.3 483.3H1267.5V563.4H1264.3Z"/>
<path fill="#255E91" d="M1264.3 563.4H1267.5V569.9H1264.3Z"/>
<path fill="#FFC000" d="M1264.3 569.9H1267.5V575H1264.3Z"/>
<path fill="#997300" d="M1267.5 463H1270.8V563.4H1267.5Z"/>
<path fill="#9E480E" d="M1267.5 563.4H1270.8V570.8H1267.5Z"/>
<path fill="#255E91" d="M1267.5 570.8H1270.8V575H1267.5Z"/>
<path fill="#9E480E" d="M1270.8 463H1273.9V522.9H1270.8Z"/>
<path fill="#255E91" d="M1270.8 522.9H1273.9V524.7H1270.8Z"/>
<path fill="#A5A5A5" d="M1270.8 524.7H1273.9V575H1270.8Z"/>
<path fill="#9E480E" d="M1273.9 463H1277V483.3H1273.9Z"/>
<path fill="#255E91" d="M1273.9 483.3H1277V498H1273.9Z"/>
<path fill="#4472C4" d="M1273.9 498H1277V568H1273.9Z"/>
<path fill="#FFC000" d="M1273.9 568H1277V575H1273.9Z"/>
<path fill="#ED7D31" d="M1277 463H1280.4V575H1277Z"/>
<path fill="#255E91" d="M1280.4 463H1283.5V485.1H1280.4Z"/>
<path fill="#4472C4" d="M1280.4 485.1H1283.5V498.9H1280.4Z"/>
<path fill="#ED7D31" d="M1280.4 498.9H1283.5V575H1280.4Z"/>
<path fill="#255E91" d="M1283.5 463H1286.6V485.1H1283.5Z"/>
<path fill="#4472C4" d="M1283.5 485.1H1286.6V575H1283.5Z"/>
<path fill="#997300" d="M1286.6 463H1289.9V482.3H1286.6Z"/>
<path fill="#636363" d="M1286.6 482.3H1289.9V508.1H1286.6Z"/>
<path fill="#9E480E" d="M1286.6 508.1H1289.9V511.8H1286.6Z"/>
<path fill="#255E91" d="M1286.6 511.8H1289.9V539.5H1286.6Z"/>
<path fill="#4472C4" d="M1286.6 539.5H1289.9V575H1286.6Z"/>
<path fill="#9E480E" d="M1289.9 463H1293.1V465.8H1289.9Z"/>
<path fill="#255E91" d="M1289.9 465.8H1293.1V471.3H1289.9Z"/>
<path fill="#4472C4" d="M1289.9 471.3H1293.1V556.1H1289.9Z"/>
<path fill="#FFC000" d="M1289.9 556.1H1293.1V575H1289.9Z"/>
<path fill="#997300" d="M1293.1 463H1296.2V477.7H1293.1Z"/>
<path fill="#255E91" d="M1293.1 477.7H1296.2V516.4H1293.1Z"/>
<path fill="#4472C4" d="M1293.1 516.4H1296.2V575H1293.1Z"/>
<path fill="#997300" d="M1296.2 463H1299.5V506.3H1296.2Z"/>
<path fill="#636363" d="M1296.2 506.3H1299.5V538.5H1296.2Z"/>
<path fill="#255E91" d="M1296.2 538.5H1299.5V555.1H1296.2Z"/>
<path fill="#4472C4" d="M1296.2 555.1H1299.5V575H1296.2Z"/>
<path fill="#255E91" d="M1299.5 463H1302.7V575H1299.5ZM1302.7 463H1305.8V490.6H1302.7Z"/>
<path fill="#4472C4" d="M1302.7 490.6H1305.8V558.8H1302.7Z"/>
<path fill="#FFC000" d="M1302.7 558.8H1305.8V575H1302.7Z"/>
<path fill="#4472C4" d="M1305.8 463H1309.1V575H1305.8Z"/>
<path fill="#636363" d="M1309.1 463H1312.2V482.3H1309.1Z"/>
<path fill="#255E91" d="M1309.1 482.3H1312.2V569H1309.1Z"/>
<path fill="#FFC000" d="M1309.1 569H1312.2V575H1309.1Z"/>
<path fill="#997300" d="M1312.2 463H1317.2V518.3H1312.2Z"/>
<path fill="#636363" d="M1312.2 518.3H1317.2V522H1312.2Z"/>
<path fill="#9E480E" d="M1312.2 522H1317.2V534.9H1312.2Z"/>
<path fill="#255E91" d="M1312.2 534.9H1317.2V575H1312.2Z"/></g>
<!-- b4_t1.txt -->
<g shape-rendering="crispEdges"><path fill="#264478" d="M1390.1 356.6H1393.3V357.3H1390.1Z"/>
<path fill="#255E91" d="M1390.1 357.3H1393.3V366.1H1390.1Z"/>
<path fill="#FFC000" d="M1390.1 366.1H1393.3V366.5H1390.1Z"/>
<path fill="#5B9BD5" d="M1390.1 366.5H1393.3V410H1390.1Z"/>
<path fill="#264478" d="M1393.3 356.6H1396.5V357.3H1393.3Z"/>
<path fill="#255E91" d="M1393.3 357.3H1396.5V367H1393.3Z"/>
<path fill="#FFC000" d="M1393.3 367H1396.5V367.9H1393.3Z"/>
<path fill="#5B9BD5" d="M1393.3 367.9H1396.5V410H1393.3Z"/>
<path fill="#997300" d="M1396.5 356.6H1399.7V363.8H1396.5Z"/>
<path fill="#255E91" d="M1396.5 363.8H1399.7V367.9H1396.5Z"/>
<path fill="#4472C4" d="M1396.5 367.9H1399.7V370.7H1396.5Z"/>
<path fill="#5B9BD5" d="M1396.5 370.7H1399.7V410H1396.5Z"/>
<path fill="#264478" d="M1399.7 356.6H1402.8V357.8H1399.7Z"/>
<path fill="#997300" d="M1399.7 357.8H1402.8V365.6H1399.7Z"/>
<path fill="#255E91" d="M1399.7 365.6H1402.8V371.1H1399.7Z"/>
<path fill="#FFC000" d="M1399.7 371.1H1402.8V372H1399.7Z"/>
<path fill="#5B9BD5" d="M1399.7 372H1402.8V410H1399.7Z"/>
<path fill="#997300" d="M1402.8 356.6H1406V362.4H1402.8Z"/>
<path fill="#255E91" d="M1402.8 362.4H1406V370.2H1402.8Z"/>
<path fill="#4472C4" d="M1402.8 370.2H1406V373.9H1402.8Z"/>
<path fill="#FFC000" d="M1402.8 373.9H1406V374.8H1402.8Z"/>
<path fill="#5B9BD5" d="M1402.8 374.8H1406V410H1402.8Z"/>
<path fill="#997300" d="M1406 356.6H1409.2V363.8H1406Z"/>
<path fill="#636363" d="M1406 363.8H1409.2V369.7H1406Z"/>
<path fill="#255E91" d="M1406 369.7H1409.2V375.7H1406Z"/>
<path fill="#FFC000" d="M1406 375.7H1409.2V377.6H1406Z"/>
<path fill="#5B9BD5" d="M1406 377.6H1409.2V410H1406Z"/>
<path fill="#264478" d="M1409.2 356.6H1412.4V361H1409.2Z"/>
<path fill="#636363" d="M1409.2 361H1412.4V367.4H1409.2Z"/>
<path fill="#4472C4" d="M1409.2 367.4H1412.4V381.7H1409.2Z"/>
<path fill="#FFC000" d="M1409.2 381.7H1412.4V382.6H1409.2Z"/>
<path fill="#5B9BD5" d="M1409.2 382.6H1412.4V410H1409.2Z"/>
<path fill="#255E91" d="M1412.4 356.6H1415.6V381.7H1412.4Z"/>
<path fill="#FFC000" d="M1412.4 381.7H1415.6V383.6H1412.4Z"/>
<path fill="#5B9BD5" d="M1412.4 383.6H1415.6V410H1412.4Z"/>
<path fill="#264478" d="M1415.6 356.6H1418.8V357.8H1415.6Z"/>
<path fill="#997300" d="M1415.6 357.8H1418.8V377.1H1415.6Z"/>
<path fill="#255E91" d="M1415.6 377.1H1418.8V387.2H1415.6Z"/>
<path fill="#FFC000" d="M1415.6 387.2H1418.8V388.6H1415.6Z"/>
<path fill="#5B9BD5" d="M1415.6 388.6H1418.8V410H1415.6Z"/>
<path fill="#264478" d="M1418.8 356.6H1421.9V370.7H1418.8Z"/>
<path fill="#255E91" d="M1418.8 370.7H1421.9V391.8H1418.8Z"/>
<path fill="#4472C4" d="M1418.8 391.8H1421.9V392.8H1418.8Z"/>
<path fill="#FFC000" d="M1418.8 392.8H1421.9V394.6H1418.8Z"/>
<path fill="#5B9BD5" d="M1418.8 394.6H1421.9V410H1418.8Z"/>
<path fill="#264478" d="M1421.9 356.6H1425.1V375.7H1421.9Z"/>
<path fill="#997300" d="M1421.9 375.7H1425.1V382.6H1421.9Z"/>
<path fill="#255E91" d="M1421.9 382.6H1425.1V393.2H1421.9Z"/>
<path fill="#FFC000" d="M1421.9 393.2H1425.1V395.5H1421.9Z"/>
<path fill="#5B9BD5" d="M1421.9 395.5H1425.1V410H1421.9Z"/>
<path fill="#264478" d="M1425.1 356.6H1428.3V361H1425.1Z"/>
<path fill="#997300" d="M1425.1 361H1428.3V371.1H1425.1Z"/>
<path fill="#255E91" d="M1425.1 371.1H1428.3V373H1425.1Z"/>
<path fill="#4472C4" d="M1425.1 373H1428.3V395.5H1425.1Z"/>
<path fill="#FFC000" d="M1425.1 395.5H1428.3V396.9H1425.1Z"/>
<path fill="#5B9BD5" d="M1425.1 396.9H1428.3V410H1425.1Z"/>
<path fill="#264478" d="M1428.3 356.6H1431.5V363.3H1428.3Z"/>
<path fill="#997300" d="M1428.3 363.3H1431.5V367.4H1428.3Z"/>
<path fill="#636363" d="M1428.3 367.4H1431.5V392.3H1428.3Z"/>
<path fill="#255E91" d="M1428.3 392.3H1431.5V396.5H1428.3Z"/>
<path fill="#FFC000" d="M1428.3 396.5H1431.5V397.6H1428.3Z"/>
<path fill="#5B9BD5" d="M1428.3 397.6H1431.5V410H1428.3Z"/>
<path fill="#264478" d="M1431.5 356.6H1434.7V360.1H1431.5Z"/>
<path fill="#997300" d="M1431.5 360.1H1434.7V367H1431.5Z"/>
<path fill="#636363" d="M1431.5 367H1434.7V373.4H1431.5Z"/>
<path fill="#255E91" d="M1431.5 373.4H1434.7V375.7H1431.5Z"/>
<path fill="#4472C4" d="M1431.5 375.7H1434.7V398.3H1431.5Z"/>
<path fill="#5B9BD5" d="M1431.5 398.3H1434.7V410H1431.5Z"/>
<path fill="#255E91" d="M1434.7 356.6H1437.9V370.7H1434.7Z"/>
<path fill="#4472C4" d="M1434.7 370.7H1437.9V398.3H1434.7Z"/>
<path fill="#FFC000" d="M1434.7 398.3H1437.9V400.1H1434.7Z"/>
<path fill="#5B9BD5" d="M1434.7 400.1H1437.9V410H1434.7Z"/>
<path fill="#997300" d="M1437.9 356.6H1441V369.7H1437.9Z"/>
<path fill="#4472C4" d="M1437.9 369.7H1441V396H1437.9Z"/>
<path fill="#FFC000" d="M1437.9 396H1441V400.6H1437.9Z"/>
<path fill="#5B9BD5" d="M1437.9 400.6H1441V410H1437.9Z"/>
<path fill="#264478" d="M1441 356.6H1444.2V357.8H1441Z"/>
<path fill="#997300" d="M1441 357.8H1444.2V363.3H1441Z"/>
<path fill="#636363" d="M1441 363.3H1444.2V368.8H1441Z"/>
<path fill="#4472C4" d="M1441 368.8H1444.2V401.5H1441Z"/>
<path fill="#5B9BD5" d="M1441 401.5H1444.2V410H1441Z"/>
<path fill="#264478" d="M1444.2 356.6H1447.4V363.8H1444.2Z"/>
<path fill="#997300" d="M1444.2 363.8H1447.4V368.8H1444.2Z"/>
<path fill="#636363" d="M1444.2 368.8H1447.4V370.2H1444.2Z"/>
<path fill="#9E480E" d="M1444.2 370.2H1447.4V380.8H1444.2Z"/>
<path fill="#255E91" d="M1444.2 380.8H1447.4V388.2H1444.2Z"/>
<path fill="#4472C4" d="M1444.2 388.2H1447.4V402H1444.2Z"/>
<path fill="#5B9BD5" d="M1444.2 402H1447.4V410H1444.2Z"/>
<path fill="#264478" d="M1447.4 356.6H1450.6V358.7H1447.4Z"/>
<path fill="#997300" d="M1447.4 358.7H1450.6V367H1447.4Z"/>
<path fill="#636363" d="M1447.4 367H1450.6V384H1447.4Z"/>
<path fill="#255E91" d="M1447.4 384H1450.6V390H1447.4Z"/>
<path fill="#4472C4" d="M1447.4 390H1450.6V402.9H1447.4Z"/>
<path fill="#FFC000" d="M1447.4 402.9H1450.6V403.8H1447.4Z"/>
<path fill="#5B9BD5" d="M1447.4 403.8H1450.6V410H1447.4Z"/>
<path fill="#264478" d="M1450.6 356.6H1453.8V361.9H1450.6Z"/>
<path fill="#997300" d="M1450.6 361.9H1453.8V365.1H1450.6Z"/>
<path fill="#636363" d="M1450.6 365.1H1453.8V372.5H1450.6Z"/>
<path fill="#9E480E" d="M1450.6 372.5H1453.8V376.2H1450.6Z"/>
<path fill="#255E91" d="M1450.6 376.2H1453.8V377.6H1450.6Z"/>
<path fill="#4472C4" d="M1450.6 377.6H1453.8V404.7H1450.6Z"/>
<path fill="#5B9BD5" d="M1450.6 404.7H1453.8V410H1450.6Z"/>
<path fill="#264478" d="M1453.8 356.6H1457V358.7H1453.8Z"/>
<path fill="#997300" d="M1453.8 358.7H1457V364.2H1453.8Z"/>
<path fill="#636363" d="M1453.8 364.2H1457V392.8H1453.8Z"/>
<path fill="#255E91" d="M1453.8 392.8H1457V403.6H1453.8Z"/>
<path fill="#FFC000" d="M1453.8 403.6H1457V406.1H1453.8Z"/>
<path fill="#5B9BD5" d="M1453.8 406.1H1457V410H1453.8Z"/>
<path fill="#636363" d="M1457 356.6H1460.1V362.8H1457Z"/>
<path fill="#9E480E" d="M1457 362.8H1460.1V364.2H1457Z"/>
<path fill="#4472C4" d="M1457 364.2H1460.1V408H1457Z"/>
<path fill="#FFC000" d="M1457 408H1460.1V410H1457Z"/>
<path fill="#997300" d="M1460.1 356.6H1463.3V395.5H1460.1Z"/>
<path fill="#255E91" d="M1460.1 395.5H1463.3V410H1460.1Z"/>
<path fill="#264478" d="M1463.3 356.6H1466.5V361.9H1463.3Z"/>
<path fill="#997300" d="M1463.3 361.9H1466.5V367.4H1463.3Z"/>
<path fill="#636363" d="M1463.3 367.4H1466.5V370.2H1463.3Z"/>
<path fill="#ED7D31" d="M1463.3 370.2H1466.5V410H1463.3Z"/>
<path fill="#997300" d="M1466.5 356.6H1469.7V365.1H1466.5Z"/>
<path fill="#255E91" d="M1466.5 365.1H1469.7V370.7H1466.5Z"/>
<path fill="#A5A5A5" d="M1466.5 370.7H1469.7V373H1466.5Z"/>
<path fill="#ED7D31" d="M1466.5 373H1469.7V410H1466.5Z"/>
<path fill="#264478" d="M1469.7 356.6H1472.9V402.9H1469.7Z"/>
<path fill="#997300" d="M1469.7 402.9H1472.9V404.7H1469.7Z"/>
<path fill="#636363" d="M1469.7 404.7H1472.9V410H1469.7Z"/>
<path fill="#264478" d="M1472.9 356.6H1476.1V364.7H1472.9Z"/>
<path fill="#997300" d="M1472.9 364.7H1476.1V373H1472.9Z"/>
<path fill="#255E91" d="M1472.9 373H1476.1V410H1472.9Z"/>
<path fill="#264478" d="M1476.1 356.6H1479.2V384H1476.1Z"/>
<path fill="#997300" d="M1476.1 384H1479.2V387.7H1476.1Z"/>
<path fill="#255E91" d="M1476.1 387.7H1479.2V395.1H1476.1Z"/>
<path fill="#FFC000" d="M1476.1 395.1H1479.2V396H1476.1Z"/>
<path fill="#ED7D31" d="M1476.1 396H1479.2V410H1476.1Z"/>
<path fill="#264478" d="M1479.2 356.6H1482.4V368.4H1479.2Z"/>
<path fill="#997300" d="M1479.2 368.4H1482.4V374.8H1479.2Z"/>
<path fill="#255E91" d="M1479.2 374.8H1482.4V376.6H1479.2Z"/>
<path fill="#FFC000" d="M1479.2 376.6H1482.4V378H1479.2Z"/>
<path fill="#ED7D31" d="M1479.2 378H1482.4V410H1479.2Z"/>
<path fill="#264478" d="M1482.4 356.6H1485.6V358.2H1482.4Z"/>
<path fill="#997300" d="M1482.4 358.2H1485.6V373H1482.4Z"/>
<path fill="#636363" d="M1482.4 373H1485.6V384.9H1482.4Z"/>
<path fill="#9E480E" d="M1482.4 384.9H1485.6V386.8H1482.4Z"/>
<path fill="#255E91" d="M1482.4 386.8H1485.6V394.6H1482.4Z"/>
<path fill="#4472C4" d="M1482.4 394.6H1485.6V410H1482.4Z"/>
<path fill="#264478" d="M1485.6 356.6H1488.8V367.9H1485.6Z"/>
<path fill="#997300" d="M1485.6 367.9H1488.8V379.4H1485.6Z"/>
<path fill="#636363" d="M1485.6 379.4H1488.8V390.5H1485.6Z"/>
<path fill="#255E91" d="M1485.6 390.5H1488.8V393.7H1485.6Z"/>
<path fill="#4472C4" d="M1485.6 393.7H1488.8V410H1485.6Z"/>
<path fill="#264478" d="M1488.8 356.6H1492V379.9H1488.8Z"/>
<path fill="#636363" d="M1488.8 379.9H1492V390.9H1488.8Z"/>
<path fill="#9E480E" d="M1488.8 390.9H1492V410H1488.8Z"/>
<path fill="#264478" d="M1492 356.6H1495.2V383.1H1492Z"/>
<path fill="#997300" d="M1492 383.1H1495.2V391.8H1492Z"/>
<path fill="#636363" d="M1492 391.8H1495.2V397.8H1492Z"/>
<path fill="#255E91" d="M1492 397.8H1495.2V399.2H1492Z"/>
<path fill="#4472C4" d="M1492 399.2H1495.2V410H1492Z"/>
<path fill="#264478" d="M1495.2 356.6H1498.3V396.9H1495.2Z"/>
<path fill="#997300" d="M1495.2 396.9H1498.3V401.1H1495.2Z"/>
<path fill="#636363" d="M1495.2 401.1H1498.3V410H1495.2Z"/>
<path fill="#264478" d="M1498.3 356.6H1501.5V362.8H1498.3Z"/>
<path fill="#997300" d="M1498.3 362.8H1501.5V366.1H1498.3Z"/>
<path fill="#255E91" d="M1498.3 366.1H1501.5V377.6H1498.3Z"/>
<path fill="#4472C4" d="M1498.3 377.6H1501.5V384.9H1498.3Z"/>
<path fill="#FFC000" d="M1498.3 384.9H1501.5V385.9H1498.3Z"/>
<path fill="#ED7D31" d="M1498.3 385.9H1501.5V410H1498.3Z"/>
<path fill="#264478" d="M1501.5 356.6H1504.7V361H1501.5Z"/>
<path fill="#997300" d="M1501.5 361H1504.7V362.4H1501.5Z"/>
<path fill="#636363" d="M1501.5 362.4H1504.7V377.1H1501.5Z"/>
<path fill="#FFC000" d="M1501.5 377.1H1504.7V378.9H1501.5Z"/>
<path fill="#ED7D31" d="M1501.5 378.9H1504.7V410H1501.5Z"/>
<path fill="#264478" d="M1504.7 356.6H1507.9V358.2H1504.7Z"/>
<path fill="#997300" d="M1504.7 358.2H1507.9V361H1504.7Z"/>
<path fill="#636363" d="M1504.7 361H1507.9V363.8H1504.7Z"/>
<path fill="#255E91" d="M1504.7 363.8H1507.9V367.9H1504.7Z"/>
<path fill="#4472C4" d="M1504.7 367.9H1507.9V382.2H1504.7Z"/>
<path fill="#ED7D31" d="M1504.7 382.2H1507.9V410H1504.7Z"/>
<path fill="#264478" d="M1507.9 356.6H1511.1V401.5H1507.9Z"/>
<path fill="#255E91" d="M1507.9 401.5H1511.1V406.1H1507.9Z"/>
<path fill="#A5A5A5" d="M1507.9 406.1H1511.1V410H1507.9Z"/>
<path fill="#264478" d="M1511.1 356.6H1514.3V358.2H1511.1Z"/>
<path fill="#997300" d="M1511.1 358.2H1514.3V373H1511.1Z"/>
<path fill="#636363" d="M1511.1 373H1514.3V381.7H1511.1Z"/>
<path fill="#255E91" d="M1511.1 381.7H1514.3V387.2H1511.1Z"/>
<path fill="#4472C4" d="M1511.1 387.2H1514.3V410H1511.1Z"/>
<path fill="#264478" d="M1514.3 356.6H1517.4V359.1H1514.3Z"/>
<path fill="#997300" d="M1514.3 359.1H1517.4V367H1514.3Z"/>
<path fill="#4472C4" d="M1514.3 367H1517.4V387.2H1514.3Z"/>
<path fill="#ED7D31" d="M1514.3 387.2H1517.4V410H1514.3Z"/>
<path fill="#264478" d="M1517.4 356.6H1520.6V363.8H1517.4Z"/>
<path fill="#997300" d="M1517.4 363.8H1520.6V369.7H1517.4Z"/>
<path fill="#636363" d="M1517.4 369.7H1520.6V385.9H1517.4Z"/>
<path fill="#255E91" d="M1517.4 385.9H1520.6V388.6H1517.4Z"/>
<path fill="#4472C4" d="M1517.4 388.6H1520.6V391.8H1517.4Z"/>
<path fill="#ED7D31" d="M1517.4 391.8H1520.6V410H1517.4Z"/>
<path fill="#264478" d="M1520.6 356.6H1523.8V372H1520.6Z"/>
<path fill="#636363" d="M1520.6 372H1523.8V390.5H1520.6Z"/>
<path fill="#255E91" d="M1520.6 390.5H1523.8V393.2H1520.6Z"/>
<path fill="#ED7D31" d="M1520.6 393.2H1523.8V410H1520.6Z"/>
<path fill="#264478" d="M1523.8 356.6H1527V370.2H1523.8Z"/>
<path fill="#997300" d="M1523.8 370.2H1527V372H1523.8Z"/>
<path fill="#636363" d="M1523.8 372H1527V404.7H1523.8Z"/>
<path fill="#9E480E" d="M1523.8 404.7H1527V406.1H1523.8Z"/>
<path fill="#255E91" d="M1523.8 406.1H1527V410H1523.8Z"/>
<path fill="#264478" d="M1527 356.6H1530.2V390.5H1527Z"/>
<path fill="#636363" d="M1527 390.5H1530.2V407.5H1527Z"/>
<path fill="#255E91" d="M1527 407.5H1530.2V410H1527Z"/>
<path fill="#264478" d="M1530.2 356.6H1533.4V367.9H1530.2Z"/>
<path fill="#997300" d="M1530.2 367.9H1533.4V378.9H1530.2Z"/>
<path fill="#4472C4" d="M1530.2 378.9H1533.4V384.9H1530.2Z"/>
<path fill="#A5A5A5" d="M1530.2 384.9H1533.4V403.4H1530.2Z"/>
<path fill="#ED7D31" d="M1530.2 403.4H1533.4V410H1530.2Z"/>
<path fill="#264478" d="M1533.4 356.6H1536.5V360.1H1533.4Z"/>
<path fill="#997300" d="M1533.4 360.1H1536.5V363.3H1533.4Z"/>
<path fill="#636363" d="M1533.4 363.3H1536.5V384H1533.4Z"/>
<path fill="#255E91" d="M1533.4 384H1536.5V388.6H1533.4Z"/>
<path fill="#4472C4" d="M1533.4 388.6H1536.5V410H1533.4Z"/>
<path fill="#264478" d="M1536.5 356.6H1539.7V367.9H1536.5Z"/>
<path fill="#997300" d="M1536.5 367.9H1539.7V410H1536.5Z"/>
<path fill="#264478" d="M1539.7 356.6H1542.9V410H1539.7Z"/>
<path fill="#997300" d="M1542.9 356.6H1546.1V410H1542.9Z"/>
<path fill="#264478" d="M1546.1 356.6H1549.3V363.8H1546.1Z"/>
<path fill="#997300" d="M1546.1 363.8H1549.3V365.1H1546.1Z"/>
<path fill="#636363" d="M1546.1 365.1H1549.3V383.1H1546.1Z"/>
<path fill="#9E480E" d="M1546.1 383.1H1549.3V384.5H1546.1Z"/>
<path fill="#4472C4" d="M1546.1 384.5H1549.3V410H1546.1Z"/>
<path fill="#264478" d="M1549.3 356.6H1552.5V383.1H1549.3Z"/>
<path fill="#636363" d="M1549.3 383.1H1552.5V393.7H1549.3Z"/>
<path fill="#255E91" d="M1549.3 393.7H1552.5V402.4H1549.3Z"/>
<path fill="#A5A5A5" d="M1549.3 402.4H1552.5V410H1549.3Z"/>
<path fill="#264478" d="M1552.5 356.6H1555.6V368.8H1552.5Z"/>
<path fill="#997300" d="M1552.5 368.8H1555.6V402H1552.5Z"/>
<path fill="#9E480E" d="M1552.5 402H1555.6V402.9H1552.5Z"/>
<path fill="#70AD47" d="M1552.5 402.9H1555.6V404.7H1552.5Z"/>
<path fill="#4472C4" d="M1552.5 404.7H1555.6V410H1552.5Z"/>
<path fill="#264478" d="M1555.6 356.6H1558.8V360.1H1555.6Z"/>
<path fill="#997300" d="M1555.6 360.1H1558.8V377.1H1555.6Z"/>
<path fill="#4472C4" d="M1555.6 377.1H1558.8V400.1H1555.6Z"/>
<path fill="#ED7D31" d="M1555.6 400.1H1558.8V410H1555.6Z"/>
<path fill="#264478" d="M1558.8 356.6H1562V364.7H1558.8Z"/>
<path fill="#997300" d="M1558.8 364.7H1562V390H1558.8Z"/>
<path fill="#636363" d="M1558.8 390H1562V410H1558.8Z"/>
<path fill="#264478" d="M1562 356.6H1565.2V410H1562ZM1565.2 356.6H1568.4V378H1565.2Z"/>
<path fill="#997300" d="M1565.2 378H1568.4V410H1565.2Z"/>
<path fill="#5B9BD5" d="M1390.1 410H1514.3V465H1390.1Z"/>
<path fill="#FFC000" d="M1457 410H1460.1V410.9H1457Z"/>
<path fill="#5B9BD5" d="M1457 410.9H1460.1V465H1457Z"/>
<path fill="#255E91" d="M1460.1 410H1463.3V412.8H1460.1Z"/>
<path fill="#FFC000" d="M1460.1 412.8H1463.3V413.7H1460.1Z"/>
<path fill="#5B9BD5" d="M1460.1 413.7H1463.3V465H1460.1Z"/>
<path fill="#ED7D31" d="M1463.3 410H1466.5V414.1H1463.3Z"/>
<path fill="#5B9BD5" d="M1463.3 414.1H1466.5V465H1463.3Z"/>
<path fill="#ED7D31" d="M1466.5 410H1469.7V415.1H1466.5Z"/>
<path fill="#5B9BD5" d="M1466.5 415.1H1469.7V465H1466.5Z"/>
<path fill="#636363" d="M1469.7 410H1472.9V411.8H1469.7Z"/>
<path fill="#255E91" d="M1469.7 411.8H1472.9V416H1469.7Z"/>
<path fill="#5B9BD5" d="M1469.7 416H1472.9V465H1469.7Z"/>
<path fill="#255E91" d="M1472.9 410H1476.1V417.8H1472.9Z"/>
<path fill="#FFC000" d="M1472.9 417.8H1476.1V419H1472.9Z"/>
<path fill="#5B9BD5" d="M1472.9 419H1476.1V465H1472.9Z"/>
<path fill="#ED7D31" d="M1476.1 410H1479.2V418.8H1476.1Z"/>
<path fill="#5B9BD5" d="M1476.1 418.8H1479.2V465H1476.1Z"/>
<path fill="#ED7D31" d="M1479.2 410H1482.4V419.7H1479.2Z"/>
<path fill="#5B9BD5" d="M1479.2 419.7H1482.4V465H1479.2Z"/>
<path fill="#4472C4" d="M1482.4 410H1485.6V420.6H1482.4Z"/>
<path fill="#FFC000" d="M1482.4 420.6H1485.6V422H1482.4Z"/>
<path fill="#5B9BD5" d="M1482.4 422H1485.6V465H1482.4Z"/>
<path fill="#4472C4" d="M1485.6 410H1488.8V422.9H1485.6Z"/>
<path fill="#5B9BD5" d="M1485.6 422.9H1488.8V465H1485.6Z"/>
<path fill="#9E480E" d="M1488.8 410H1492V422.9H1488.8Z"/>
<path fill="#255E91" d="M1488.8 422.9H1492V424.7H1488.8Z"/>
<path fill="#5B9BD5" d="M1488.8 424.7H1492V465H1488.8Z"/>
<path fill="#4472C4" d="M1492 410H1495.2V426.6H1492Z"/>
<path fill="#FFC000" d="M1492 426.6H1495.2V428H1492Z"/>
<path fill="#5B9BD5" d="M1492 428H1495.2V465H1492Z"/>
<path fill="#636363" d="M1495.2 410H1498.3V416.9H1495.2Z"/>
<path fill="#4472C4" d="M1495.2 416.9H1498.3V430.7H1495.2Z"/>
<path fill="#FFC000" d="M1495.2 430.7H1498.3V431.9H1495.2Z"/>
<path fill="#5B9BD5" d="M1495.2 431.9H1498.3V465H1495.2Z"/>
<path fill="#ED7D31" d="M1498.3 410H1501.5V437.6H1498.3Z"/>
<path fill="#5B9BD5" d="M1498.3 437.6H1501.5V465H1498.3Z"/>
<path fill="#ED7D31" d="M1501.5 410H1504.7V438.1H1501.5Z"/>
<path fill="#5B9BD5" d="M1501.5 438.1H1504.7V465H1501.5Z"/>
<path fill="#ED7D31" d="M1504.7 410H1507.9V439.9H1504.7Z"/>
<path fill="#5B9BD5" d="M1504.7 439.9H1507.9V465H1504.7Z"/>
<path fill="#A5A5A5" d="M1507.9 410H1511.1V417.8H1507.9Z"/>
<path fill="#ED7D31" d="M1507.9 417.8H1511.1V442.7H1507.9Z"/>
<path fill="#5B9BD5" d="M1507.9 442.7H1511.1V465H1507.9Z"/>
<path fill="#4472C4" d="M1511.1 410H1514.3V444.1H1511.1Z"/>
<path fill="#5B9BD5" d="M1511.1 444.1H1514.3V465H1511.1Z"/>
<path fill="#ED7D31" d="M1514.3 410H1517.4V455.6H1514.3Z"/>
<path fill="#5B9BD5" d="M1514.3 455.6H1517.4V465H1514.3Z"/>
<path fill="#ED7D31" d="M1517.4 410H1520.6V465H1517.4ZM1520.6 410H1523.8V465H1520.6Z"/>
<path fill="#255E91" d="M1523.8 410H1527V411.8H1523.8Z"/>
<path fill="#4472C4" d="M1523.8 411.8H1527V429.8H1523.8Z"/>
<path fill="#A5A5A5" d="M1523.8 429.8H1527V436.3H1523.8Z"/>
<path fill="#ED7D31" d="M1523.8 436.3H1527V465H1523.8Z"/>
<path fill="#A5A5A5" d="M1527 410H1530.2V411.8H1527Z"/>
<path fill="#ED7D31" d="M1527 411.8H1530.2V465H1527ZM1530.2 410H1533.4V465H1530.2Z"/>
<path fill="#4472C4" d="M1533.4 410H1536.5V416.4H1533.4Z"/>
<path fill="#A5A5A5" d="M1533.4 416.4H1536.5V428H1533.4Z"/>
<path fill="#ED7D31" d="M1533.4 428H1536.5V465H1533.4Z"/>
<path fill="#997300" d="M1536.5 410H1539.7V411.1H1536.5Z"/>
<path fill="#636363" d="M1536.5 411.1H1539.7V422.9H1536.5Z"/>
<path fill="#9E480E" d="M1536.5 422.9H1539.7V429.8H1536.5Z"/>
<path fill="#255E91" d="M1536.5 429.8H1539.7V442.7H1536.5Z"/>
<path fill="#4472C4" d="M1536.5 442.7H1539.7V465H1536.5Z"/>
<path fill="#264478" d="M1539.7 410H1542.9V465H1539.7Z"/>
<path fill="#997300" d="M1542.9 410H1546.1V465H1542.9Z"/>
<path fill="#4472C4" d="M1546.1 410H1549.3V416H1546.1Z"/>
<path fill="#FFC000" d="M1546.1 416H1549.3V417.2H1546.1Z"/>
<path fill="#ED7D31" d="M1546.1 417.2H1549.3V465H1546.1Z"/>
<path fill="#A5A5A5" d="M1549.3 410H1552.5V465H1549.3Z"/>
<path fill="#4472C4" d="M1552.5 410H1555.6V411.8H1552.5Z"/>
<path fill="#A5A5A5" d="M1552.5 411.8H1555.6V416.9H1552.5Z"/>
<path fill="#ED7D31" d="M1552.5 416.9H1555.6V465H1552.5ZM1555.6 410H1558.8V465H1555.6Z"/>
<path fill="#636363" d="M1558.8 410H1562V422H1558.8Z"/>
<path fill="#9E480E" d="M1558.8 422H1562V428H1558.8Z"/>
<path fill="#4472C4" d="M1558.8 428H1562V465H1558.8Z"/>
<path fill="#264478" d="M1562 410H1565.2V431.6H1562Z"/>
<path fill="#997300" d="M1562 431.6H1565.2V445H1562Z"/>
<path fill="#636363" d="M1562 445H1565.2V448H1562Z"/>
<path fill="#70AD47" d="M1562 448H1565.2V449.6H1562Z"/>
<path fill="#ED7D31" d="M1562 449.6H1565.2V465H1562Z"/>
<path fill="#997300" d="M1565.2 410H1568.4V412.3H1565.2Z"/>
<path fill="#636363" d="M1565.2 412.3H1568.4V424.7H1565.2Z"/>
<path fill="#9E480E" d="M1565.2 424.7H1568.4V432.1H1565.2Z"/>
<path fill="#255E91" d="M1565.2 432.1H1568.4V465H1565.2Z"/></g>
<!-- b4_t2.txt -->
<g shape-rendering="crispEdges"><path fill="#997300" d="M1569.5 356.6H1572.7V371.1H1569.5Z"/>
<path fill="#255E91" d="M1569.5 371.1H1572.7V381.3H1569.5Z"/>
<path fill="#4472C4" d="M1569.5 381.3H1572.7V383.6H1569.5Z"/>
<path fill="#5B9BD5" d="M1569.5 383.6H1572.7V410H1569.5Z"/>
<path fill="#636363" d="M1572.7 356.6H1575.9V377.6H1572.7Z"/>
<path fill="#255E91" d="M1572.7 377.6H1575.9V382.2H1572.7Z"/>
<path fill="#4472C4" d="M1572.7 382.2H1575.9V384H1572.7Z"/>
<path fill="#FFC000" d="M1572.7 384H1575.9V385.9H1572.7Z"/>
<path fill="#5B9BD5" d="M1572.7 385.9H1575.9V410H1572.7Z"/>
<path fill="#264478" d="M1575.9 356.6H1579.1V363.3H1575.9Z"/>
<path fill="#255E91" d="M1575.9 363.3H1579.1V389.8H1575.9Z"/>
<path fill="#FFC000" d="M1575.9 389.8H1579.1V391.8H1575.9Z"/>
<path fill="#5B9BD5" d="M1575.9 391.8H1579.1V410H1575.9Z"/>
<path fill="#264478" d="M1579.1 356.6H1582.2V358.7H1579.1Z"/>
<path fill="#997300" d="M1579.1 358.7H1582.2V366.1H1579.1Z"/>
<path fill="#255E91" d="M1579.1 366.1H1582.2V384H1579.1Z"/>
<path fill="#4472C4" d="M1579.1 384H1582.2V391.4H1579.1Z"/>
<path fill="#FFC000" d="M1579.1 391.4H1582.2V392.3H1579.1Z"/>
<path fill="#5B9BD5" d="M1579.1 392.3H1582.2V410H1579.1Z"/>
<path fill="#264478" d="M1582.2 356.6H1585.4V357.3H1582.2Z"/>
<path fill="#997300" d="M1582.2 357.3H1585.4V378H1582.2Z"/>
<path fill="#255E91" d="M1582.2 378H1585.4V396H1582.2Z"/>
<path fill="#4472C4" d="M1582.2 396H1585.4V397.8H1582.2Z"/>
<path fill="#FFC000" d="M1582.2 397.8H1585.4V401.1H1582.2Z"/>
<path fill="#5B9BD5" d="M1582.2 401.1H1585.4V410H1582.2Z"/>
<path fill="#997300" d="M1585.4 356.6H1588.6V370.2H1585.4Z"/>
<path fill="#636363" d="M1585.4 370.2H1588.6V377.6H1585.4Z"/>
<path fill="#255E91" d="M1585.4 377.6H1588.6V399H1585.4Z"/>
<path fill="#4472C4" d="M1585.4 399H1588.6V401.8H1585.4Z"/>
<path fill="#FFC000" d="M1585.4 401.8H1588.6V406.6H1585.4Z"/>
<path fill="#5B9BD5" d="M1585.4 406.6H1588.6V410H1585.4Z"/>
<path fill="#264478" d="M1588.6 356.6H1591.8V366.5H1588.6Z"/>
<path fill="#997300" d="M1588.6 366.5H1591.8V382.2H1588.6Z"/>
<path fill="#636363" d="M1588.6 382.2H1591.8V391.8H1588.6Z"/>
<path fill="#255E91" d="M1588.6 391.8H1591.8V396.9H1588.6Z"/>
<path fill="#FFC000" d="M1588.6 396.9H1591.8V399H1588.6Z"/>
<path fill="#ED7D31" d="M1588.6 399H1591.8V410H1588.6Z"/>
<path fill="#264478" d="M1591.8 356.6H1595V400.1H1591.8Z"/>
<path fill="#997300" d="M1591.8 400.1H1595V402H1591.8Z"/>
<path fill="#636363" d="M1591.8 402H1595V405.2H1591.8Z"/>
<path fill="#255E91" d="M1591.8 405.2H1595V407.7H1591.8Z"/>
<path fill="#A5A5A5" d="M1591.8 407.7H1595V410H1591.8Z"/>
<path fill="#997300" d="M1595 356.6H1598.1V373.9H1595Z"/>
<path fill="#636363" d="M1595 373.9H1598.1V378.9H1595Z"/>
<path fill="#255E91" d="M1595 378.9H1598.1V410H1595Z"/>
<path fill="#997300" d="M1598.1 356.6H1601.3V365.1H1598.1Z"/>
<path fill="#255E91" d="M1598.1 365.1H1601.3V410H1598.1Z"/>
<path fill="#264478" d="M1601.3 356.6H1604.5V368.8H1601.3Z"/>
<path fill="#997300" d="M1601.3 368.8H1604.5V371.1H1601.3Z"/>
<path fill="#255E91" d="M1601.3 371.1H1604.5V377.6H1601.3Z"/>
<path fill="#4472C4" d="M1601.3 377.6H1604.5V379.9H1601.3Z"/>
<path fill="#A5A5A5" d="M1601.3 379.9H1604.5V381.7H1601.3Z"/>
<path fill="#ED7D31" d="M1601.3 381.7H1604.5V410H1601.3Z"/>
<path fill="#264478" d="M1604.5 356.6H1607.7V358.2H1604.5Z"/>
<path fill="#997300" d="M1604.5 358.2H1607.7V395.1H1604.5Z"/>
<path fill="#9E480E" d="M1604.5 395.1H1607.7V396H1604.5Z"/>
<path fill="#255E91" d="M1604.5 396H1607.7V410H1604.5Z"/>
<path fill="#264478" d="M1607.7 356.6H1610.9V370.2H1607.7Z"/>
<path fill="#636363" d="M1607.7 370.2H1610.9V410H1607.7Z"/>
<path fill="#264478" d="M1610.9 356.6H1614.1V362.8H1610.9Z"/>
<path fill="#997300" d="M1610.9 362.8H1614.1V405.8H1610.9Z"/>
<path fill="#9E480E" d="M1610.9 405.8H1614.1V410H1610.9Z"/>
<path fill="#264478" d="M1614.1 356.6H1617.3V367.9H1614.1Z"/>
<path fill="#997300" d="M1614.1 367.9H1617.3V400.1H1614.1Z"/>
<path fill="#636363" d="M1614.1 400.1H1617.3V406.1H1614.1Z"/>
<path fill="#9E480E" d="M1614.1 406.1H1617.3V410H1614.1Z"/>
<path fill="#264478" d="M1617.3 356.6H1620.4V395.5H1617.3Z"/>
<path fill="#636363" d="M1617.3 395.5H1620.4V400.1H1617.3Z"/>
<path fill="#9E480E" d="M1617.3 400.1H1620.4V410H1617.3Z"/>
<path fill="#264478" d="M1620.4 356.6H1623.6V366.5H1620.4Z"/>
<path fill="#997300" d="M1620.4 366.5H1623.6V402.9H1620.4Z"/>
<path fill="#636363" d="M1620.4 402.9H1623.6V410H1620.4Z"/>
<path fill="#264478" d="M1623.6 356.6H1626.8V360.1H1623.6Z"/>
<path fill="#997300" d="M1623.6 360.1H1626.8V378.9H1623.6Z"/>
<path fill="#636363" d="M1623.6 378.9H1626.8V381.7H1623.6Z"/>
<path fill="#255E91" d="M1623.6 381.7H1626.8V410H1623.6Z"/>
<path fill="#264478" d="M1626.8 356.6H1630V386.8H1626.8Z"/>
<path fill="#997300" d="M1626.8 386.8H1630V391.4H1626.8Z"/>
<path fill="#255E91" d="M1626.8 391.4H1630V396H1626.8Z"/>
<path fill="#FFC000" d="M1626.8 396H1630V397.4H1626.8Z"/>
<path fill="#ED7D31" d="M1626.8 397.4H1630V410H1626.8Z"/>
<path fill="#997300" d="M1630 356.6H1633.2V369.7H1630Z"/>
<path fill="#636363" d="M1630 369.7H1633.2V390H1630Z"/>
<path fill="#9E480E" d="M1630 390H1633.2V392.8H1630Z"/>
<path fill="#255E91" d="M1630 392.8H1633.2V410H1630Z"/>
<path fill="#264478" d="M1633.2 356.6H1636.4V360.1H1633.2Z"/>
<path fill="#997300" d="M1633.2 360.1H1636.4V410H1633.2ZM1636.4 356.6H1639.5V410H1636.4Z"/>
<path fill="#264478" d="M1639.5 356.6H1642.7V366.5H1639.5Z"/>
<path fill="#997300" d="M1639.5 366.5H1642.7V376.2H1639.5Z"/>
<path fill="#636363" d="M1639.5 376.2H1642.7V401.1H1639.5Z"/>
<path fill="#4472C4" d="M1639.5 401.1H1642.7V406.1H1639.5Z"/>
<path fill="#ED7D31" d="M1639.5 406.1H1642.7V410H1639.5Z"/>
<path fill="#264478" d="M1642.7 356.6H1645.9V371.6H1642.7Z"/>
<path fill="#997300" d="M1642.7 371.6H1645.9V374.8H1642.7Z"/>
<path fill="#636363" d="M1642.7 374.8H1645.9V390H1642.7Z"/>
<path fill="#255E91" d="M1642.7 390H1645.9V395.5H1642.7Z"/>
<path fill="#4472C4" d="M1642.7 395.5H1645.9V410H1642.7Z"/>
<path fill="#264478" d="M1645.9 356.6H1649.1V371.6H1645.9Z"/>
<path fill="#997300" d="M1645.9 371.6H1649.1V396H1645.9Z"/>
<path fill="#255E91" d="M1645.9 396H1649.1V400.1H1645.9Z"/>
<path fill="#4472C4" d="M1645.9 400.1H1649.1V404.7H1645.9Z"/>
<path fill="#A5A5A5" d="M1645.9 404.7H1649.1V410H1645.9Z"/>
<path fill="#264478" d="M1649.1 356.6H1652.3V370.2H1649.1Z"/>
<path fill="#636363" d="M1649.1 370.2H1652.3V387.7H1649.1Z"/>
<path fill="#9E480E" d="M1649.1 387.7H1652.3V410H1649.1Z"/>
<path fill="#264478" d="M1652.3 356.6H1655.5V364.7H1652.3Z"/>
<path fill="#997300" d="M1652.3 364.7H1655.5V408.4H1652.3Z"/>
<path fill="#636363" d="M1652.3 408.4H1655.5V410H1652.3Z"/>
<path fill="#264478" d="M1655.5 356.6H1658.6V369.7H1655.5Z"/>
<path fill="#636363" d="M1655.5 369.7H1658.6V377.1H1655.5Z"/>
<path fill="#9E480E" d="M1655.5 377.1H1658.6V381.7H1655.5Z"/>
<path fill="#255E91" d="M1655.5 381.7H1658.6V385.9H1655.5Z"/>
<path fill="#4472C4" d="M1655.5 385.9H1658.6V410H1655.5Z"/>
<path fill="#264478" d="M1658.6 356.6H1661.8V362.8H1658.6Z"/>
<path fill="#997300" d="M1658.6 362.8H1661.8V389.1H1658.6Z"/>
<path fill="#255E91" d="M1658.6 389.1H1661.8V390.9H1658.6Z"/>
<path fill="#4472C4" d="M1658.6 390.9H1661.8V391.8H1658.6Z"/>
<path fill="#A5A5A5" d="M1658.6 391.8H1661.8V404.7H1658.6Z"/>
<path fill="#ED7D31" d="M1658.6 404.7H1661.8V410H1658.6Z"/>
<path fill="#264478" d="M1661.8 356.6H1665V389.1H1661.8Z"/>
<path fill="#997300" d="M1661.8 389.1H1665V410H1661.8Z"/>
<path fill="#264478" d="M1665 356.6H1668.2V371.1H1665Z"/>
<path fill="#636363" d="M1665 371.1H1668.2V380.8H1665Z"/>
<path fill="#9E480E" d="M1665 380.8H1668.2V381.7H1665Z"/>
<path fill="#255E91" d="M1665 381.7H1668.2V392.8H1665Z"/>
<path fill="#4472C4" d="M1665 392.8H1668.2V393.9H1665Z"/>
<path fill="#A5A5A5" d="M1665 393.9H1668.2V410H1665Z"/>
<path fill="#264478" d="M1668.2 356.6H1671.4V410H1668.2ZM1671.4 356.6H1674.6V361.4H1671.4Z"/>
<path fill="#997300" d="M1671.4 361.4H1674.6V367H1671.4Z"/>
<path fill="#255E91" d="M1671.4 367H1674.6V410H1671.4Z"/>
<path fill="#264478" d="M1674.6 356.6H1677.7V377.6H1674.6Z"/>
<path fill="#997300" d="M1674.6 377.6H1677.7V389.5H1674.6Z"/>
<path fill="#9E480E" d="M1674.6 389.5H1677.7V391.8H1674.6Z"/>
<path fill="#255E91" d="M1674.6 391.8H1677.7V393.7H1674.6Z"/>
<path fill="#4472C4" d="M1674.6 393.7H1677.7V410H1674.6Z"/>
<path fill="#264478" d="M1677.7 356.6H1680.9V410H1677.7ZM1680.9 356.6H1684.1V410H1680.9ZM1684.1 356.6H1687.3V358.2H1684.1Z"/>
<path fill="#997300" d="M1684.1 358.2H1687.3V410H1684.1Z"/>
<path fill="#264478" d="M1687.3 356.6H1690.5V368.8H1687.3Z"/>
<path fill="#997300" d="M1687.3 368.8H1690.5V403.8H1687.3Z"/>
<path fill="#9E480E" d="M1687.3 403.8H1690.5V410H1687.3Z"/>
<path fill="#264478" d="M1690.5 356.6H1693.7V410H1690.5ZM1693.7 356.6H1696.8V385.9H1693.7Z"/>
<path fill="#997300" d="M1693.7 385.9H1696.8V392.6H1693.7Z"/>
<path fill="#9E480E" d="M1693.7 392.6H1696.8V396.9H1693.7Z"/>
<path fill="#4472C4" d="M1693.7 396.9H1696.8V400.3H1693.7Z"/>
<path fill="#ED7D31" d="M1693.7 400.3H1696.8V410H1693.7Z"/>
<path fill="#264478" d="M1696.8 356.6H1700V364.7H1696.8Z"/>
<path fill="#997300" d="M1696.8 364.7H1700V387.2H1696.8Z"/>
<path fill="#636363" d="M1696.8 387.2H1700V390.5H1696.8Z"/>
<path fill="#255E91" d="M1696.8 390.5H1700V391.8H1696.8Z"/>
<path fill="#4472C4" d="M1696.8 391.8H1700V410H1696.8Z"/>
<path fill="#264478" d="M1700 356.6H1703.2V367H1700Z"/>
<path fill="#997300" d="M1700 367H1703.2V384.3H1700Z"/>
<path fill="#4472C4" d="M1700 384.3H1703.2V388.7H1700Z"/>
<path fill="#ED7D31" d="M1700 388.7H1703.2V410H1700Z"/>
<path fill="#264478" d="M1703.2 356.6H1706.4V395.5H1703.2Z"/>
<path fill="#997300" d="M1703.2 395.5H1706.4V397.4H1703.2Z"/>
<path fill="#636363" d="M1703.2 397.4H1706.4V410H1703.2Z"/>
<path fill="#264478" d="M1706.4 356.6H1709.6V410H1706.4ZM1709.6 356.6H1712.8V384.9H1709.6Z"/>
<path fill="#997300" d="M1709.6 384.9H1712.8V410H1709.6Z"/>
<path fill="#264478" d="M1712.8 356.6H1715.9V370.2H1712.8Z"/>
<path fill="#997300" d="M1712.8 370.2H1715.9V390.9H1712.8Z"/>
<path fill="#636363" d="M1712.8 390.9H1715.9V395.5H1712.8Z"/>
<path fill="#4472C4" d="M1712.8 395.5H1715.9V398.8H1712.8Z"/>
<path fill="#A5A5A5" d="M1712.8 398.8H1715.9V400.3H1712.8Z"/>
<path fill="#ED7D31" d="M1712.8 400.3H1715.9V410H1712.8Z"/>
<path fill="#264478" d="M1715.9 356.6H1719.1V384H1715.9Z"/>
<path fill="#997300" d="M1715.9 384H1719.1V400.6H1715.9Z"/>
<path fill="#636363" d="M1715.9 400.6H1719.1V410H1715.9Z"/>
<path fill="#264478" d="M1719.1 356.6H1722.3V370.2H1719.1Z"/>
<path fill="#997300" d="M1719.1 370.2H1722.3V371.6H1719.1Z"/>
<path fill="#636363" d="M1719.1 371.6H1722.3V373.9H1719.1Z"/>
<path fill="#9E480E" d="M1719.1 373.9H1722.3V410H1719.1Z"/>
<path fill="#264478" d="M1722.3 356.6H1725.5V377.6H1722.3Z"/>
<path fill="#997300" d="M1722.3 377.6H1725.5V410H1722.3Z"/>
<path fill="#264478" d="M1725.5 356.6H1728.7V410H1725.5ZM1728.7 356.6H1731.9V410H1728.7ZM1731.9 356.6H1735V357.3H1731.9Z"/>
<path fill="#997300" d="M1731.9 357.3H1735V361H1731.9Z"/>
<path fill="#9E480E" d="M1731.9 361H1735V410H1731.9Z"/>
<path fill="#997300" d="M1735 356.6H1739.2V410H1735Z"/>
<path fill="#5B9BD5" d="M1569.5 410H1588.6V465H1569.5Z"/>
<path fill="#ED7D31" d="M1588.6 410H1591.8V418.1H1588.6Z"/>
<path fill="#5B9BD5" d="M1588.6 418.1H1591.8V465H1588.6Z"/>
<path fill="#A5A5A5" d="M1591.8 410H1595V413.5H1591.8Z"/>
<path fill="#ED7D31" d="M1591.8 413.5H1595V418.1H1591.8Z"/>
<path fill="#5B9BD5" d="M1591.8 418.1H1595V465H1591.8Z"/>
<path fill="#FFC000" d="M1595 410H1598.1V418.1H1595Z"/>
<path fill="#ED7D31" d="M1595 418.1H1598.1V422.7H1595Z"/>
<path fill="#5B9BD5" d="M1595 422.7H1598.1V465H1595Z"/>
<path fill="#255E91" d="M1598.1 410H1601.3V424.9H1598.1Z"/>
<path fill="#FFC000" d="M1598.1 424.9H1601.3V428H1598.1Z"/>
<path fill="#5B9BD5" d="M1598.1 428H1601.3V465H1598.1Z"/>
<path fill="#ED7D31" d="M1601.3 410H1604.5V428.9H1601.3Z"/>
<path fill="#5B9BD5" d="M1601.3 428.9H1604.5V465H1601.3Z"/>
<path fill="#255E91" d="M1604.5 410H1607.7V428.7H1604.5Z"/>
<path fill="#FFC000" d="M1604.5 428.7H1607.7V430.1H1604.5Z"/>
<path fill="#5B9BD5" d="M1604.5 430.1H1607.7V465H1604.5Z"/>
<path fill="#636363" d="M1607.7 410H1610.9V422.9H1607.7Z"/>
<path fill="#255E91" d="M1607.7 422.9H1610.9V425.2H1607.7Z"/>
<path fill="#4472C4" d="M1607.7 425.2H1610.9V429.5H1607.7Z"/>
<path fill="#5B9BD5" d="M1607.7 429.5H1610.9V465H1607.7Z"/>
<path fill="#9E480E" d="M1610.9 410H1614.1V413.7H1610.9Z"/>
<path fill="#255E91" d="M1610.9 413.7H1614.1V430.8H1610.9Z"/>
<path fill="#FFC000" d="M1610.9 430.8H1614.1V438.7H1610.9Z"/>
<path fill="#5B9BD5" d="M1610.9 438.7H1614.1V465H1610.9Z"/>
<path fill="#255E91" d="M1614.1 410H1617.3V434.9H1614.1Z"/>
<path fill="#4472C4" d="M1614.1 434.9H1617.3V439.1H1614.1Z"/>
<path fill="#5B9BD5" d="M1614.1 439.1H1617.3V465H1614.1Z"/>
<path fill="#9E480E" d="M1617.3 410H1620.4V426.1H1617.3Z"/>
<path fill="#255E91" d="M1617.3 426.1H1620.4V427.5H1617.3Z"/>
<path fill="#4472C4" d="M1617.3 427.5H1620.4V440.9H1617.3Z"/>
<path fill="#FFC000" d="M1617.3 440.9H1620.4V442.1H1617.3Z"/>
<path fill="#5B9BD5" d="M1617.3 442.1H1620.4V465H1617.3Z"/>
<path fill="#636363" d="M1620.4 410H1623.6V415.1H1620.4Z"/>
<path fill="#9E480E" d="M1620.4 415.1H1623.6V416H1620.4Z"/>
<path fill="#255E91" d="M1620.4 416H1623.6V419.5H1620.4Z"/>
<path fill="#70AD47" d="M1620.4 419.5H1623.6V420.9H1620.4Z"/>
<path fill="#4472C4" d="M1620.4 420.9H1623.6V444.6H1620.4Z"/>
<path fill="#5B9BD5" d="M1620.4 444.6H1623.6V465H1620.4Z"/>
<path fill="#255E91" d="M1623.6 410H1626.8V444.7H1623.6Z"/>
<path fill="#FFC000" d="M1623.6 444.7H1626.8V445.9H1623.6Z"/>
<path fill="#5B9BD5" d="M1623.6 445.9H1626.8V465H1623.6Z"/>
<path fill="#ED7D31" d="M1626.8 410H1630V452.8H1626.8Z"/>
<path fill="#5B9BD5" d="M1626.8 452.8H1630V465H1626.8Z"/>
<path fill="#255E91" d="M1630 410H1633.2V445.9H1630Z"/>
<path fill="#4472C4" d="M1630 445.9H1633.2V452H1630Z"/>
<path fill="#FFC000" d="M1630 452H1633.2V455H1630Z"/>
<path fill="#5B9BD5" d="M1630 455H1633.2V465H1630Z"/>
<path fill="#997300" d="M1633.2 410H1636.4V412.3H1633.2Z"/>
<path fill="#636363" d="M1633.2 412.3H1636.4V417.8H1633.2Z"/>
<path fill="#9E480E" d="M1633.2 417.8H1636.4V446.8H1633.2Z"/>
<path fill="#255E91" d="M1633.2 446.8H1636.4V448.7H1633.2Z"/>
<path fill="#4472C4" d="M1633.2 448.7H1636.4V455.3H1633.2Z"/>
<path fill="#5B9BD5" d="M1633.2 455.3H1636.4V465H1633.2Z"/>
<path fill="#997300" d="M1636.4 410H1639.5V413.7H1636.4Z"/>
<path fill="#255E91" d="M1636.4 413.7H1639.5V439.5H1636.4Z"/>
<path fill="#4472C4" d="M1636.4 439.5H1639.5V441H1636.4Z"/>
<path fill="#FFC000" d="M1636.4 441H1639.5V442.7H1636.4Z"/>
<path fill="#ED7D31" d="M1636.4 442.7H1639.5V457.9H1636.4Z"/>
<path fill="#5B9BD5" d="M1636.4 457.9H1639.5V465H1636.4Z"/>
<path fill="#ED7D31" d="M1639.5 410H1642.7V465H1639.5Z"/>
<path fill="#4472C4" d="M1642.7 410H1645.9V433.8H1642.7Z"/>
<path fill="#FFC000" d="M1642.7 433.8H1645.9V435.1H1642.7Z"/>
<path fill="#A5A5A5" d="M1642.7 435.1H1645.9V436.9H1642.7Z"/>
<path fill="#ED7D31" d="M1642.7 436.9H1645.9V465H1642.7Z"/>
<path fill="#A5A5A5" d="M1645.9 410H1649.1V465H1645.9Z"/>
<path fill="#9E480E" d="M1649.1 410H1652.3V465H1649.1Z"/>
<path fill="#636363" d="M1652.3 410H1655.5V411.8H1652.3Z"/>
<path fill="#255E91" d="M1652.3 411.8H1655.5V465H1652.3Z"/>
<path fill="#4472C4" d="M1655.5 410H1658.6V465H1655.5Z"/>
<path fill="#ED7D31" d="M1658.6 410H1661.8V465H1658.6Z"/>
<path fill="#997300" d="M1661.8 410H1665V418.8H1661.8Z"/>
<path fill="#255E91" d="M1661.8 418.8H1665V437.6H1661.8Z"/>
<path fill="#4472C4" d="M1661.8 437.6H1665V465H1661.8Z"/>
<path fill="#A5A5A5" d="M1665 410H1668.2V465H1665Z"/>
<path fill="#264478" d="M1668.2 410H1671.4V465H1668.2Z"/>
<path fill="#255E91" d="M1671.4 410H1674.6V445.7H1671.4Z"/>
<path fill="#FFC000" d="M1671.4 445.7H1674.6V465H1671.4ZM1674.6 410H1677.7V411.8H1674.6Z"/>
<path fill="#ED7D31" d="M1674.6 411.8H1677.7V465H1674.6Z"/>
<path fill="#264478" d="M1677.7 410H1680.9V412.8H1677.7Z"/>
<path fill="#997300" d="M1677.7 412.8H1680.9V465H1677.7Z"/>
<path fill="#264478" d="M1680.9 410H1684.1V412.3H1680.9Z"/>
<path fill="#255E91" d="M1680.9 412.3H1684.1V422.9H1680.9Z"/>
<path fill="#4472C4" d="M1680.9 422.9H1684.1V428H1680.9Z"/>
<path fill="#A5A5A5" d="M1680.9 428H1684.1V433H1680.9Z"/>
<path fill="#ED7D31" d="M1680.9 433H1684.1V465H1680.9Z"/>
<path fill="#997300" d="M1684.1 410H1687.3V422H1684.1Z"/>
<path fill="#4472C4" d="M1684.1 422H1687.3V429.9H1684.1Z"/>
<path fill="#FFC000" d="M1684.1 429.9H1687.3V431H1684.1Z"/>
<path fill="#A5A5A5" d="M1684.1 431H1687.3V465H1684.1Z"/>
<path fill="#9E480E" d="M1687.3 410H1690.5V445.9H1687.3Z"/>
<path fill="#255E91" d="M1687.3 445.9H1690.5V465H1687.3Z"/>
<path fill="#264478" d="M1690.5 410H1693.7V465H1690.5Z"/>
<path fill="#ED7D31" d="M1693.7 410H1696.8V465H1693.7Z"/>
<path fill="#4472C4" d="M1696.8 410H1700V418.8H1696.8Z"/>
<path fill="#A5A5A5" d="M1696.8 418.8H1700V465H1696.8Z"/>
<path fill="#ED7D31" d="M1700 410H1703.2V465H1700Z"/>
<path fill="#636363" d="M1703.2 410H1706.4V439H1703.2Z"/>
<path fill="#255E91" d="M1703.2 439H1706.4V451.9H1703.2Z"/>
<path fill="#4472C4" d="M1703.2 451.9H1706.4V455.7H1703.2Z"/>
<path fill="#A5A5A5" d="M1703.2 455.7H1706.4V458.8H1703.2Z"/>
<path fill="#ED7D31" d="M1703.2 458.8H1706.4V465H1703.2Z"/>
<path fill="#264478" d="M1706.4 410H1709.6V424.3H1706.4Z"/>
<path fill="#997300" d="M1706.4 424.3H1709.6V465H1706.4ZM1709.6 410H1712.8V465H1709.6Z"/>
<path fill="#ED7D31" d="M1712.8 410H1715.9V465H1712.8Z"/>
<path fill="#636363" d="M1715.9 410H1719.1V420.3H1715.9Z"/>
<path fill="#4472C4" d="M1715.9 420.3H1719.1V462H1715.9Z"/>
<path fill="#ED7D31" d="M1715.9 462H1719.1V465H1715.9Z"/>
<path fill="#9E480E" d="M1719.1 410H1722.3V465H1719.1Z"/>
<path fill="#997300" d="M1722.3 410H1725.5V457.9H1722.3Z"/>
<path fill="#636363" d="M1722.3 457.9H1725.5V461.1H1722.3Z"/>
<path fill="#9E480E" d="M1722.3 461.1H1725.5V465H1722.3Z"/>
<path fill="#264478" d="M1725.5 410H1728.7V441.8H1725.5Z"/>
<path fill="#997300" d="M1725.5 441.8H1728.7V465H1725.5Z"/>
<path fill="#264478" d="M1728.7 410H1731.9V437.6H1728.7Z"/>
<path fill="#997300" d="M1728.7 437.6H1731.9V465H1728.7Z"/>
<path fill="#9E480E" d="M1731.9 410H1735V421.5H1731.9Z"/>
<path fill="#255E91" d="M1731.9 421.5H1735V435.3H1731.9Z"/>
<path fill="#4472C4" d="M1731.9 435.3H1735V436.3H1731.9Z"/>
<path fill="#ED7D31" d="M1731.9 436.3H1735V465H1731.9Z"/>
<path fill="#997300" d="M1735 410H1739.2V426.1H1735Z"/>
<path fill="#9E480E" d="M1735 426.1H1739.2V465H1735Z"/></g>
<!-- b4_u.txt -->
<g shape-rendering="crispEdges"><path fill="#5B9BD5" d="M1390.1 465H1739.2V575H1390.1Z"/>
<path fill="#ED7D31" d="M1517.5 465H1520.7V471.4H1517.5Z"/>
<path fill="#5B9BD5" d="M1517.5 471.4H1520.7V575H1517.5Z"/>
<path fill="#ED7D31" d="M1520.7 465H1523.8V472.4H1520.7Z"/>
<path fill="#5B9BD5" d="M1520.7 472.4H1523.8V575H1520.7Z"/>
<path fill="#ED7D31" d="M1523.8 465H1527V477H1523.8Z"/>
<path fill="#5B9BD5" d="M1523.8 477H1527V575H1523.8Z"/>
<path fill="#ED7D31" d="M1527 465H1530.2V481.6H1527Z"/>
<path fill="#5B9BD5" d="M1527 481.6H1530.2V575H1527Z"/>
<path fill="#ED7D31" d="M1530.2 465H1533.4V487.1H1530.2Z"/>
<path fill="#5B9BD5" d="M1530.2 487.1H1533.4V575H1530.2Z"/>
<path fill="#ED7D31" d="M1533.4 465H1536.6V488H1533.4Z"/>
<path fill="#5B9BD5" d="M1533.4 488H1536.6V575H1533.4Z"/>
<path fill="#4472C4" d="M1536.6 465H1539.8V491.7H1536.6Z"/>
<path fill="#5B9BD5" d="M1536.6 491.7H1539.8V575H1536.6Z"/>
<path fill="#264478" d="M1539.8 465H1542.9V471.4H1539.8Z"/>
<path fill="#997300" d="M1539.8 471.4H1542.9V477.9H1539.8Z"/>
<path fill="#4472C4" d="M1539.8 477.9H1542.9V479.7H1539.8Z"/>
<path fill="#A5A5A5" d="M1539.8 479.7H1542.9V483.4H1539.8Z"/>
<path fill="#ED7D31" d="M1539.8 483.4H1542.9V499.1H1539.8Z"/>
<path fill="#5B9BD5" d="M1539.8 499.1H1542.9V575H1539.8Z"/>
<path fill="#997300" d="M1542.9 465H1546.1V481.6H1542.9Z"/>
<path fill="#636363" d="M1542.9 481.6H1546.1V485.3H1542.9Z"/>
<path fill="#255E91" d="M1542.9 485.3H1546.1V490.8H1542.9Z"/>
<path fill="#FFC000" d="M1542.9 490.8H1546.1V500.9H1542.9Z"/>
<path fill="#5B9BD5" d="M1542.9 500.9H1546.1V575H1542.9Z"/>
<path fill="#ED7D31" d="M1546.1 465H1549.3V507.4H1546.1Z"/>
<path fill="#5B9BD5" d="M1546.1 507.4H1549.3V575H1546.1Z"/>
<path fill="#A5A5A5" d="M1549.3 465H1552.5V507.4H1549.3Z"/>
<path fill="#5B9BD5" d="M1549.3 507.4H1552.5V575H1549.3Z"/>
<path fill="#ED7D31" d="M1552.5 465H1555.7V512H1552.5Z"/>
<path fill="#5B9BD5" d="M1552.5 512H1555.7V575H1552.5Z"/>
<path fill="#ED7D31" d="M1555.7 465H1558.9V518.4H1555.7Z"/>
<path fill="#5B9BD5" d="M1555.7 518.4H1558.9V575H1555.7Z"/>
<path fill="#4472C4" d="M1558.9 465H1562V502.8H1558.9Z"/>
<path fill="#ED7D31" d="M1558.9 502.8H1562V522.1H1558.9Z"/>
<path fill="#5B9BD5" d="M1558.9 522.1H1562V575H1558.9Z"/>
<path fill="#ED7D31" d="M1562 465H1565.2V532.8H1562Z"/>
<path fill="#5B9BD5" d="M1562 532.8H1565.2V575H1562Z"/>
<path fill="#255E91" d="M1565.2 465H1568.4V558.1H1565.2Z"/>
<path fill="#FFC000" d="M1565.2 558.1H1568.4V559H1565.2Z"/>
<path fill="#ED7D31" d="M1565.2 559H1568.4V561.7H1565.2Z"/>
<path fill="#5B9BD5" d="M1565.2 561.7H1568.4V575H1565.2Z"/>
<path fill="#ED7D31" d="M1639.6 465H1642.8V470.2H1639.6Z"/>
<path fill="#5B9BD5" d="M1639.6 470.2H1642.8V575H1639.6Z"/>
<path fill="#ED7D31" d="M1642.8 465H1646V473.8H1642.8Z"/>
<path fill="#5B9BD5" d="M1642.8 473.8H1646V575H1642.8Z"/>
<path fill="#A5A5A5" d="M1646 465H1649.2V473.3H1646Z"/>
<path fill="#5B9BD5" d="M1646 473.3H1649.2V575H1646Z"/>
<path fill="#9E480E" d="M1649.2 465H1652.4V465.9H1649.2Z"/>
<path fill="#255E91" d="M1649.2 465.9H1652.4V477.5H1649.2Z"/>
<path fill="#FFC000" d="M1649.2 477.5H1652.4V478.8H1649.2Z"/>
<path fill="#5B9BD5" d="M1649.2 478.8H1652.4V575H1649.2Z"/>
<path fill="#255E91" d="M1652.4 465H1655.6V476.4H1652.4Z"/>
<path fill="#FFC000" d="M1652.4 476.4H1655.6V478.8H1652.4Z"/>
<path fill="#5B9BD5" d="M1652.4 478.8H1655.6V575H1652.4Z"/>
<path fill="#4472C4" d="M1655.6 465H1658.7V478.8H1655.6Z"/>
<path fill="#5B9BD5" d="M1655.6 478.8H1658.7V575H1655.6Z"/>
<path fill="#ED7D31" d="M1658.7 465H1661.9V482.5H1658.7Z"/>
<path fill="#5B9BD5" d="M1658.7 482.5H1661.9V575H1658.7Z"/>
<path fill="#4472C4" d="M1661.9 465H1665.1V482.5H1661.9Z"/>
<path fill="#5B9BD5" d="M1661.9 482.5H1665.1V575H1661.9Z"/>
<path fill="#A5A5A5" d="M1665.1 465H1668.3V480.7H1665.1Z"/>
<path fill="#ED7D31" d="M1665.1 480.7H1668.3V483.4H1665.1Z"/>
<path fill="#5B9BD5" d="M1665.1 483.4H1668.3V575H1665.1Z"/>
<path fill="#264478" d="M1668.3 465H1671.5V468.7H1668.3Z"/>
<path fill="#997300" d="M1668.3 468.7H1671.5V474.2H1668.3Z"/>
<path fill="#255E91" d="M1668.3 474.2H1671.5V483.4H1668.3Z"/>
<path fill="#4472C4" d="M1668.3 483.4H1671.5V486.2H1668.3Z"/>
<path fill="#5B9BD5" d="M1668.3 486.2H1671.5V575H1668.3Z"/>
<path fill="#FFC000" d="M1671.5 465H1674.6V489.9H1671.5Z"/>
<path fill="#5B9BD5" d="M1671.5 489.9H1674.6V575H1671.5Z"/>
<path fill="#ED7D31" d="M1674.6 465H1677.8V494.1H1674.6Z"/>
<path fill="#5B9BD5" d="M1674.6 494.1H1677.8V575H1674.6Z"/>
<path fill="#997300" d="M1677.8 465H1681V472.4H1677.8Z"/>
<path fill="#636363" d="M1677.8 472.4H1681V492.6H1677.8Z"/>
<path fill="#255E91" d="M1677.8 492.6H1681V494.5H1677.8Z"/>
<path fill="#FFC000" d="M1677.8 494.5H1681V496H1677.8Z"/>
<path fill="#5B9BD5" d="M1677.8 496H1681V575H1677.8Z"/>
<path fill="#ED7D31" d="M1681 465H1684.2V495.4H1681Z"/>
<path fill="#5B9BD5" d="M1681 495.4H1684.2V575H1681Z"/>
<path fill="#A5A5A5" d="M1684.2 465H1687.4V505.5H1684.2Z"/>
<path fill="#5B9BD5" d="M1684.2 505.5H1687.4V575H1684.2Z"/>
<path fill="#255E91" d="M1687.4 465H1690.6V508.5H1687.4Z"/>
<path fill="#FFC000" d="M1687.4 508.5H1690.6V510.7H1687.4Z"/>
<path fill="#5B9BD5" d="M1687.4 510.7H1690.6V575H1687.4Z"/>
<path fill="#264478" d="M1690.6 465H1693.8V476.1H1690.6Z"/>
<path fill="#FFC000" d="M1690.6 476.1H1693.8V478.8H1690.6Z"/>
<path fill="#636363" d="M1690.6 478.8H1693.8V507.4H1690.6Z"/>
<path fill="#255E91" d="M1690.6 507.4H1693.8V514.8H1690.6Z"/>
<path fill="#5B9BD5" d="M1690.6 514.8H1693.8V575H1690.6Z"/>
<path fill="#ED7D31" d="M1693.8 465H1696.9V524H1693.8Z"/>
<path fill="#5B9BD5" d="M1693.8 524H1696.9V575H1693.8Z"/>
<path fill="#A5A5A5" d="M1696.9 465H1700.1V495.4H1696.9Z"/>
<path fill="#ED7D31" d="M1696.9 495.4H1700.1V524.9H1696.9Z"/>
<path fill="#5B9BD5" d="M1696.9 524.9H1700.1V575H1696.9Z"/>
<path fill="#ED7D31" d="M1700.1 465H1703.3V528.6H1700.1Z"/>
<path fill="#5B9BD5" d="M1700.1 528.6H1703.3V575H1700.1Z"/>
<path fill="#ED7D31" d="M1703.3 465H1706.5V530.4H1703.3Z"/>
<path fill="#5B9BD5" d="M1703.3 530.4H1706.5V575H1703.3Z"/>
<path fill="#997300" d="M1706.5 465H1709.7V469.6H1706.5Z"/>
<path fill="#9E480E" d="M1706.5 469.6H1709.7V486.2H1706.5Z"/>
<path fill="#255E91" d="M1706.5 486.2H1709.7V489H1706.5Z"/>
<path fill="#A5A5A5" d="M1706.5 489H1709.7V492.6H1706.5Z"/>
<path fill="#ED7D31" d="M1706.5 492.6H1709.7V532.8H1706.5Z"/>
<path fill="#5B9BD5" d="M1706.5 532.8H1709.7V575H1706.5Z"/>
<path fill="#997300" d="M1709.7 465H1712.9V480.7H1709.7Z"/>
<path fill="#636363" d="M1709.7 480.7H1712.9V486.2H1709.7Z"/>
<path fill="#9E480E" d="M1709.7 486.2H1712.9V504.6H1709.7Z"/>
<path fill="#255E91" d="M1709.7 504.6H1712.9V507.4H1709.7Z"/>
<path fill="#4472C4" d="M1709.7 507.4H1712.9V535.9H1709.7Z"/>
<path fill="#5B9BD5" d="M1709.7 535.9H1712.9V575H1709.7Z"/>
<path fill="#ED7D31" d="M1712.9 465H1716V539.6H1712.9Z"/>
<path fill="#5B9BD5" d="M1712.9 539.6H1716V575H1712.9Z"/>
<path fill="#ED7D31" d="M1716 465H1719.2V539.6H1716Z"/>
<path fill="#5B9BD5" d="M1716 539.6H1719.2V575H1716Z"/>
<path fill="#9E480E" d="M1719.2 465H1722.4V495.4H1719.2Z"/>
<path fill="#4472C4" d="M1719.2 495.4H1722.4V567.3H1719.2Z"/>
<path fill="#FFC000" d="M1719.2 567.3H1722.4V571.9H1719.2Z"/>
<path fill="#5B9BD5" d="M1719.2 571.9H1722.4V575H1719.2Z"/>
<path fill="#9E480E" d="M1722.4 465H1725.6V520.3H1722.4Z"/>
<path fill="#4472C4" d="M1722.4 520.3H1725.6V575H1722.4Z"/>
<path fill="#997300" d="M1725.6 465H1728.8V497.2H1725.6Z"/>
<path fill="#9E480E" d="M1725.6 497.2H1728.8V564.5H1725.6Z"/>
<path fill="#255E91" d="M1725.6 564.5H1728.8V568.2H1725.6Z"/>
<path fill="#4472C4" d="M1725.6 568.2H1728.8V575H1725.6Z"/>
<path fill="#997300" d="M1728.8 465H1732V493.6H1728.8Z"/>
<path fill="#9E480E" d="M1728.8 493.6H1732V565.4H1728.8Z"/>
<path fill="#255E91" d="M1728.8 565.4H1732V570H1728.8Z"/>
<path fill="#4472C4" d="M1728.8 570H1732V575H1728.8Z"/>
<path fill="#ED7D31" d="M1732 465H1735.2V575H1732Z"/>
<path fill="#9E480E" d="M1735.2 465H1739.2V513.8H1735.2Z"/>
<path fill="#A5A5A5" d="M1735.2 513.8H1739.2V545.2H1735.2Z"/>
<path fill="#ED7D31" d="M1735.2 545.2H1739.2V575H1735.2Z"/></g>
<rect x="260.8" y="37" width="6.2" height="220.7" fill="#fff"/>
<rect x="258.9" y="355.3" width="6.5" height="221.3" fill="#fff"/>
<text x="-1.0" y="23.4" font-size="42" text-anchor="start" font-weight="bold">a</text>
<text x="-1.0" y="342.3" font-size="42" text-anchor="start" font-weight="bold">b</text>
<text x="261" y="24.6" font-size="20.8" text-anchor="middle">Pre intervention</text>
<text x="686.8" y="24.6" font-size="20.8" text-anchor="middle">1 week after intervention</text>
<text x="1145" y="24.3" font-size="20.8" text-anchor="middle">1 month of age</text>
<text x="1567.3" y="24.3" font-size="20.8" text-anchor="middle">3 months of age</text>
<text x="261" y="344.5" font-size="20.8" text-anchor="middle">Pre intervention</text>
<text x="684" y="344.5" font-size="20.8" text-anchor="middle">1 week after intervention</text>
<text x="1142.3" y="342.6" font-size="20.8" text-anchor="middle">1 month of age</text>
<text x="1564.6" y="342.6" font-size="20.8" text-anchor="middle">3 months of age</text>
<text x="75.2" y="43.2" font-size="16.6" text-anchor="end">100%</text>
<text x="75.2" y="65.0" font-size="16.6" text-anchor="end">90%</text>
<text x="75.2" y="86.8" font-size="16.6" text-anchor="end">80%</text>
<text x="75.2" y="108.5" font-size="16.6" text-anchor="end">70%</text>
<text x="75.2" y="130.3" font-size="16.6" text-anchor="end">60%</text>
<text x="75.2" y="152.1" font-size="16.6" text-anchor="end">50%</text>
<text x="75.2" y="173.9" font-size="16.6" text-anchor="end">40%</text>
<text x="75.2" y="195.7" font-size="16.6" text-anchor="end">30%</text>
<text x="75.2" y="217.4" font-size="16.6" text-anchor="end">20%</text>
<text x="75.2" y="239.2" font-size="16.6" text-anchor="end">10%</text>
<text x="75.2" y="261.0" font-size="16.6" text-anchor="end">0%</text>
<text x="499.2" y="39.2" font-size="16.6" text-anchor="end">100%</text>
<text x="499.2" y="61.4" font-size="16.6" text-anchor="end">90%</text>
<text x="499.2" y="83.6" font-size="16.6" text-anchor="end">80%</text>
<text x="499.2" y="105.7" font-size="16.6" text-anchor="end">70%</text>
<text x="499.2" y="127.9" font-size="16.6" text-anchor="end">60%</text>
<text x="499.2" y="150.1" font-size="16.6" text-anchor="end">50%</text>
<text x="499.2" y="172.3" font-size="16.6" text-anchor="end">40%</text>
<text x="499.2" y="194.5" font-size="16.6" text-anchor="end">30%</text>
<text x="499.2" y="216.6" font-size="16.6" text-anchor="end">20%</text>
<text x="499.2" y="238.8" font-size="16.6" text-anchor="end">10%</text>
<text x="499.2" y="261.0" font-size="16.6" text-anchor="end">0%</text>
<text x="955.2" y="38.7" font-size="16.6" text-anchor="end">100%</text>
<text x="955.2" y="61.0" font-size="16.6" text-anchor="end">90%</text>
<text x="955.2" y="83.3" font-size="16.6" text-anchor="end">80%</text>
<text x="955.2" y="105.6" font-size="16.6" text-anchor="end">70%</text>
<text x="955.2" y="127.9" font-size="16.6" text-anchor="end">60%</text>
<text x="955.2" y="150.2" font-size="16.6" text-anchor="end">50%</text>
<text x="955.2" y="172.5" font-size="16.6" text-anchor="end">40%</text>
<text x="955.2" y="194.8" font-size="16.6" text-anchor="end">30%</text>
<text x="955.2" y="217.1" font-size="16.6" text-anchor="end">20%</text>
<text x="955.2" y="239.4" font-size="16.6" text-anchor="end">10%</text>
<text x="955.2" y="261.7" font-size="16.6" text-anchor="end">0%</text>
<text x="1380.4" y="38.4" font-size="16.6" text-anchor="end">100%</text>
<text x="1380.4" y="60.7" font-size="16.6" text-anchor="end">90%</text>
<text x="1380.4" y="83.0" font-size="16.6" text-anchor="end">80%</text>
<text x="1380.4" y="105.3" font-size="16.6" text-anchor="end">70%</text>
<text x="1380.4" y="127.6" font-size="16.6" text-anchor="end">60%</text>
<text x="1380.4" y="149.9" font-size="16.6" text-anchor="end">50%</text>
<text x="1380.4" y="172.2" font-size="16.6" text-anchor="end">40%</text>
<text x="1380.4" y="194.5" font-size="16.6" text-anchor="end">30%</text>
<text x="1380.4" y="216.8" font-size="16.6" text-anchor="end">20%</text>
<text x="1380.4" y="239.1" font-size="16.6" text-anchor="end">10%</text>
<text x="1380.4" y="261.4" font-size="16.6" text-anchor="end">0%</text>
<text x="75.2" y="361.7" font-size="16.6" text-anchor="end">100%</text>
<text x="75.2" y="383.6" font-size="16.6" text-anchor="end">90%</text>
<text x="75.2" y="405.4" font-size="16.6" text-anchor="end">80%</text>
<text x="75.2" y="427.2" font-size="16.6" text-anchor="end">70%</text>
<text x="75.2" y="449.1" font-size="16.6" text-anchor="end">60%</text>
<text x="75.2" y="470.9" font-size="16.6" text-anchor="end">50%</text>
<text x="75.2" y="492.8" font-size="16.6" text-anchor="end">40%</text>
<text x="75.2" y="514.6" font-size="16.6" text-anchor="end">30%</text>
<text x="75.2" y="536.5" font-size="16.6" text-anchor="end">20%</text>
<text x="75.2" y="558.4" font-size="16.6" text-anchor="end">10%</text>
<text x="75.2" y="580.2" font-size="16.6" text-anchor="end">0%</text>
<text x="499.2" y="359.7" font-size="16.6" text-anchor="end">100%</text>
<text x="499.2" y="381.8" font-size="16.6" text-anchor="end">90%</text>
<text x="499.2" y="403.8" font-size="16.6" text-anchor="end">80%</text>
<text x="499.2" y="425.8" font-size="16.6" text-anchor="end">70%</text>
<text x="499.2" y="447.9" font-size="16.6" text-anchor="end">60%</text>
<text x="499.2" y="469.9" font-size="16.6" text-anchor="end">50%</text>
<text x="499.2" y="492.0" font-size="16.6" text-anchor="end">40%</text>
<text x="499.2" y="514.1" font-size="16.6" text-anchor="end">30%</text>
<text x="499.2" y="536.1" font-size="16.6" text-anchor="end">20%</text>
<text x="499.2" y="558.2" font-size="16.6" text-anchor="end">10%</text>
<text x="499.2" y="580.2" font-size="16.6" text-anchor="end">0%</text>
<text x="955.2" y="359.7" font-size="16.6" text-anchor="end">100%</text>
<text x="955.2" y="381.8" font-size="16.6" text-anchor="end">90%</text>
<text x="955.2" y="403.8" font-size="16.6" text-anchor="end">80%</text>
<text x="955.2" y="425.8" font-size="16.6" text-anchor="end">70%</text>
<text x="955.2" y="447.9" font-size="16.6" text-anchor="end">60%</text>
<text x="955.2" y="469.9" font-size="16.6" text-anchor="end">50%</text>
<text x="955.2" y="492.0" font-size="16.6" text-anchor="end">40%</text>
<text x="955.2" y="514.1" font-size="16.6" text-anchor="end">30%</text>
<text x="955.2" y="536.1" font-size="16.6" text-anchor="end">20%</text>
<text x="955.2" y="558.2" font-size="16.6" text-anchor="end">10%</text>
<text x="955.2" y="580.2" font-size="16.6" text-anchor="end">0%</text>
<text x="1380.4" y="362.6" font-size="16.6" text-anchor="end">100%</text>
<text x="1380.4" y="384.4" font-size="16.6" text-anchor="end">90%</text>
<text x="1380.4" y="406.2" font-size="16.6" text-anchor="end">80%</text>
<text x="1380.4" y="428.1" font-size="16.6" text-anchor="end">70%</text>
<text x="1380.4" y="449.9" font-size="16.6" text-anchor="end">60%</text>
<text x="1380.4" y="471.7" font-size="16.6" text-anchor="end">50%</text>
<text x="1380.4" y="493.5" font-size="16.6" text-anchor="end">40%</text>
<text x="1380.4" y="515.3" font-size="16.6" text-anchor="end">30%</text>
<text x="1380.4" y="537.2" font-size="16.6" text-anchor="end">20%</text>
<text x="1380.4" y="559.0" font-size="16.6" text-anchor="end">10%</text>
<text x="1380.4" y="580.8" font-size="16.6" text-anchor="end">0%</text>
<text font-size="16.5" text-anchor="middle" transform="translate(16.7 149) rotate(-90)">Relative abundance (%)</text>
<text font-size="16.5" text-anchor="middle" transform="translate(898.2 145) rotate(-90)">Relative abundance (%)</text>
<text font-size="16.5" text-anchor="middle" transform="translate(16.7 470) rotate(-90)">Relative abundance (%)</text>
<text font-size="16.5" text-anchor="middle" transform="translate(898.2 466) rotate(-90)">Relative abundance (%)</text>
<path d="M91.2 269.2H129.7" stroke="#000" stroke-width="1.5" fill="none"/>
<path d="M87.2 269.2L94.60000000000001 265.3L94.60000000000001 273.09999999999997Z" fill="#000"/>
<text x="179.2" y="275.1" font-size="16.8" text-anchor="middle">M-63</text>
<path d="M224.4 269.2H259.8" stroke="#000" stroke-width="1.5" fill="none"/>
<path d="M263.8 269.2L256.40000000000003 265.3L256.40000000000003 273.09999999999997Z" fill="#000"/>
<path d="M272.5 269.2H310.5" stroke="#000" stroke-width="1.5" fill="none"/>
<path d="M268.5 269.2L275.9 265.3L275.9 273.09999999999997Z" fill="#000"/>
<text x="354.5" y="275.1" font-size="16.8" text-anchor="middle">Placebo</text>
<path d="M396 269.2H431.5" stroke="#000" stroke-width="1.5" fill="none"/>
<path d="M435.5 269.2L428.1 265.3L428.1 273.09999999999997Z" fill="#000"/>
<path d="M516 268.5H554" stroke="#000" stroke-width="1.5" fill="none"/>
<path d="M512 268.5L519.4 264.6L519.4 272.4Z" fill="#000"/>
<text x="603.5" y="274.4" font-size="16.8" text-anchor="middle">M-63</text>
<path d="M649 268.5H684.5" stroke="#000" stroke-width="1.5" fill="none"/>
<path d="M688.5 268.5L681.1 264.6L681.1 272.4Z" fill="#000"/>
<path d="M696.5 268.5H735" stroke="#000" stroke-width="1.5" fill="none"/>
<path d="M692.5 268.5L699.9 264.6L699.9 272.4Z" fill="#000"/>
<text x="780" y="274.4" font-size="16.8" text-anchor="middle">Placebo</text>
<path d="M821 268.5H856.5" stroke="#000" stroke-width="1.5" fill="none"/>
<path d="M860.5 268.5L853.1 264.6L853.1 272.4Z" fill="#000"/>
<path d="M974.5 269.2H1012.5" stroke="#000" stroke-width="1.5" fill="none"/>
<path d="M970.5 269.2L977.9 265.3L977.9 273.09999999999997Z" fill="#000"/>
<text x="1062" y="275.1" font-size="16.8" text-anchor="middle">M-63</text>
<path d="M1107.5 269.2H1143" stroke="#000" stroke-width="1.5" fill="none"/>
<path d="M1147 269.2L1139.6 265.3L1139.6 273.09999999999997Z" fill="#000"/>
<path d="M1155 269.2H1192.5" stroke="#000" stroke-width="1.5" fill="none"/>
<path d="M1151 269.2L1158.4 265.3L1158.4 273.09999999999997Z" fill="#000"/>
<text x="1238" y="275.1" font-size="16.8" text-anchor="middle">Placebo</text>
<path d="M1282 269.2H1317.5" stroke="#000" stroke-width="1.5" fill="none"/>
<path d="M1321.5 269.2L1314.1 265.3L1314.1 273.09999999999997Z" fill="#000"/>
<path d="M1398.5 266.8H1436.5" stroke="#000" stroke-width="1.5" fill="none"/>
<path d="M1394.5 266.8L1401.9 262.90000000000003L1401.9 270.7Z" fill="#000"/>
<text x="1486" y="272.7" font-size="16.8" text-anchor="middle">M-63</text>
<path d="M1531.5 266.8H1567" stroke="#000" stroke-width="1.5" fill="none"/>
<path d="M1571 266.8L1563.6 262.90000000000003L1563.6 270.7Z" fill="#000"/>
<path d="M1579 266.8H1616.5" stroke="#000" stroke-width="1.5" fill="none"/>
<path d="M1575 266.8L1582.4 262.90000000000003L1582.4 270.7Z" fill="#000"/>
<text x="1662" y="272.7" font-size="16.8" text-anchor="middle">Placebo</text>
<path d="M1703 266.8H1738.5" stroke="#000" stroke-width="1.5" fill="none"/>
<path d="M1742.5 266.8L1735.1 262.90000000000003L1735.1 270.7Z" fill="#000"/>
<path d="M92 590H130.5" stroke="#000" stroke-width="1.5" fill="none"/>
<path d="M88 590L95.4 586.1L95.4 593.9Z" fill="#000"/>
<text x="178" y="595.9" font-size="16.8" text-anchor="middle">M-63</text>
<path d="M223.5 590H259" stroke="#000" stroke-width="1.5" fill="none"/>
<path d="M263 590L255.6 586.1L255.6 593.9Z" fill="#000"/>
<path d="M271 590H309" stroke="#000" stroke-width="1.5" fill="none"/>
<path d="M267 590L274.4 586.1L274.4 593.9Z" fill="#000"/>
<text x="354" y="595.9" font-size="16.8" text-anchor="middle">Placebo</text>
<path d="M394 590H429" stroke="#000" stroke-width="1.5" fill="none"/>
<path d="M433 590L425.6 586.1L425.6 593.9Z" fill="#000"/>
<path d="M516 589.5H554" stroke="#000" stroke-width="1.5" fill="none"/>
<path d="M512 589.5L519.4 585.6L519.4 593.4Z" fill="#000"/>
<text x="603.5" y="595.4" font-size="16.8" text-anchor="middle">M-63</text>
<path d="M649 589.5H684.5" stroke="#000" stroke-width="1.5" fill="none"/>
<path d="M688.5 589.5L681.1 585.6L681.1 593.4Z" fill="#000"/>
<path d="M696.5 589.5H735" stroke="#000" stroke-width="1.5" fill="none"/>
<path d="M692.5 589.5L699.9 585.6L699.9 593.4Z" fill="#000"/>
<text x="775" y="595.4" font-size="16.8" text-anchor="middle">Placebo</text>
<path d="M816 589.5H852" stroke="#000" stroke-width="1.5" fill="none"/>
<path d="M856 589.5L848.6 585.6L848.6 593.4Z" fill="#000"/>
<path d="M971.5 588.6H1009.5" stroke="#000" stroke-width="1.5" fill="none"/>
<path d="M967.5 588.6L974.9 584.7L974.9 592.5Z" fill="#000"/>
<text x="1059" y="594.5" font-size="16.8" text-anchor="middle">M-63</text>
<path d="M1105.5 588.6H1141.5" stroke="#000" stroke-width="1.5" fill="none"/>
<path d="M1145.5 588.6L1138.1 584.7L1138.1 592.5Z" fill="#000"/>
<path d="M1153.5 588.6H1192" stroke="#000" stroke-width="1.5" fill="none"/>
<path d="M1149.5 588.6L1156.9 584.7L1156.9 592.5Z" fill="#000"/>
<text x="1233.3" y="594.5" font-size="16.8" text-anchor="middle">Placebo</text>
<path d="M1274.5 588.6H1311.5" stroke="#000" stroke-width="1.5" fill="none"/>
<path d="M1315.5 588.6L1308.1 584.7L1308.1 592.5Z" fill="#000"/>
<path d="M1395 588.5H1433.5" stroke="#000" stroke-width="1.5" fill="none"/>
<path d="M1391 588.5L1398.4 584.6L1398.4 592.4Z" fill="#000"/>
<text x="1483.2" y="594.4" font-size="16.8" text-anchor="middle">M-63</text>
<path d="M1528.5 588.5H1564" stroke="#000" stroke-width="1.5" fill="none"/>
<path d="M1568 588.5L1560.6 584.6L1560.6 592.4Z" fill="#000"/>
<path d="M1575.5 588.5H1613.5" stroke="#000" stroke-width="1.5" fill="none"/>
<path d="M1571.5 588.5L1578.9 584.6L1578.9 592.4Z" fill="#000"/>
<text x="1659" y="594.4" font-size="16.8" text-anchor="middle">Placebo</text>
<path d="M1698.5 588.5H1734.5" stroke="#000" stroke-width="1.5" fill="none"/>
<path d="M1738.5 588.5L1731.1 584.6L1731.1 592.4Z" fill="#000"/>
<rect x="1760.3" y="44.3" width="10" height="10" fill="#70AD47"/>
<text x="1778.4" y="55.2" font-size="16.65" text-anchor="start">Others</text>
<rect x="1760.3" y="75.1" width="10" height="10" fill="#4472C4"/>
<text x="1778.4" y="86.0" font-size="16.65" text-anchor="start">p_Pseudomonadota</text>
<rect x="1760.3" y="105.9" width="10" height="10" fill="#FFC000"/>
<text x="1778.4" y="116.8" font-size="16.65" text-anchor="start">p_Fusobacteriota</text>
<rect x="1760.3" y="136.6" width="10" height="10" fill="#A5A5A5"/>
<text x="1778.4" y="147.5" font-size="16.65" text-anchor="start">p_Bacillota</text>
<rect x="1760.3" y="167.4" width="10" height="10" fill="#ED7D31"/>
<text x="1778.4" y="178.3" font-size="16.65" text-anchor="start">p_Bacteroidota</text>
<rect x="1760.3" y="198.2" width="10" height="10" fill="#5B9BD5"/>
<text x="1778.4" y="209.1" font-size="16.65" text-anchor="start">p_Actinomycetota</text>
<rect x="1760.3" y="339.0" width="10" height="10" fill="#264478"/>
<text x="1778.4" y="349.9" font-size="16.65" text-anchor="start">Others</text>
<rect x="1760.3" y="363.4" width="10" height="10" fill="#997300"/>
<text x="1778.4" y="374.2" font-size="16.65" text-anchor="start">f_Enterobacteriaceae Ig_</text>
<rect x="1760.3" y="387.7" width="10" height="10" fill="#636363"/>
<text x="1778.4" y="398.6" font-size="16.65" text-anchor="start">g_Veillonella</text>
<rect x="1760.3" y="412.1" width="10" height="10" fill="#9E480E"/>
<text x="1778.4" y="422.9" font-size="16.65" text-anchor="start">g_Clostridium</text>
<rect x="1760.3" y="436.4" width="10" height="10" fill="#255E91"/>
<text x="1778.4" y="447.3" font-size="16.65" text-anchor="start">g_Streptococcus</text>
<rect x="1760.3" y="460.8" width="10" height="10" fill="#70AD47"/>
<text x="1778.4" y="471.6" font-size="16.65" text-anchor="start">g_Lactococcus</text>
<rect x="1760.3" y="485.1" width="10" height="10" fill="#4472C4"/>
<text x="1778.4" y="496.0" font-size="16.65" text-anchor="start">g_Enterococcus</text>
<rect x="1760.3" y="509.5" width="10" height="10" fill="#FFC000"/>
<text x="1778.4" y="520.4" font-size="16.65" text-anchor="start">g_Staphylococcus</text>
<rect x="1760.3" y="533.8" width="10" height="10" fill="#A5A5A5"/>
<text x="1778.4" y="544.7" font-size="16.65" text-anchor="start">g_Parabacteroides</text>
<rect x="1760.3" y="558.1" width="10" height="10" fill="#ED7D31"/>
<text x="1778.4" y="569.0" font-size="16.65" text-anchor="start">g_Bacteroides</text>
<rect x="1760.3" y="582.5" width="10" height="10" fill="#5B9BD5"/>
<text x="1778.4" y="593.4" font-size="16.65" text-anchor="start">g_Bifidobacterium</text>
<path d="M86 576.1H434.8" stroke="#D9D9D9" stroke-width="0.9" fill="none"/>
<path d="M509.2 575.4H857.6" stroke="#D9D9D9" stroke-width="0.9" fill="none"/>
<path d="M966.6 575.4H1317.4" stroke="#D9D9D9" stroke-width="0.9" fill="none"/>
<path d="M1390.1 575.4H1739.4" stroke="#D9D9D9" stroke-width="0.9" fill="none"/>

</svg>
</body></html>
